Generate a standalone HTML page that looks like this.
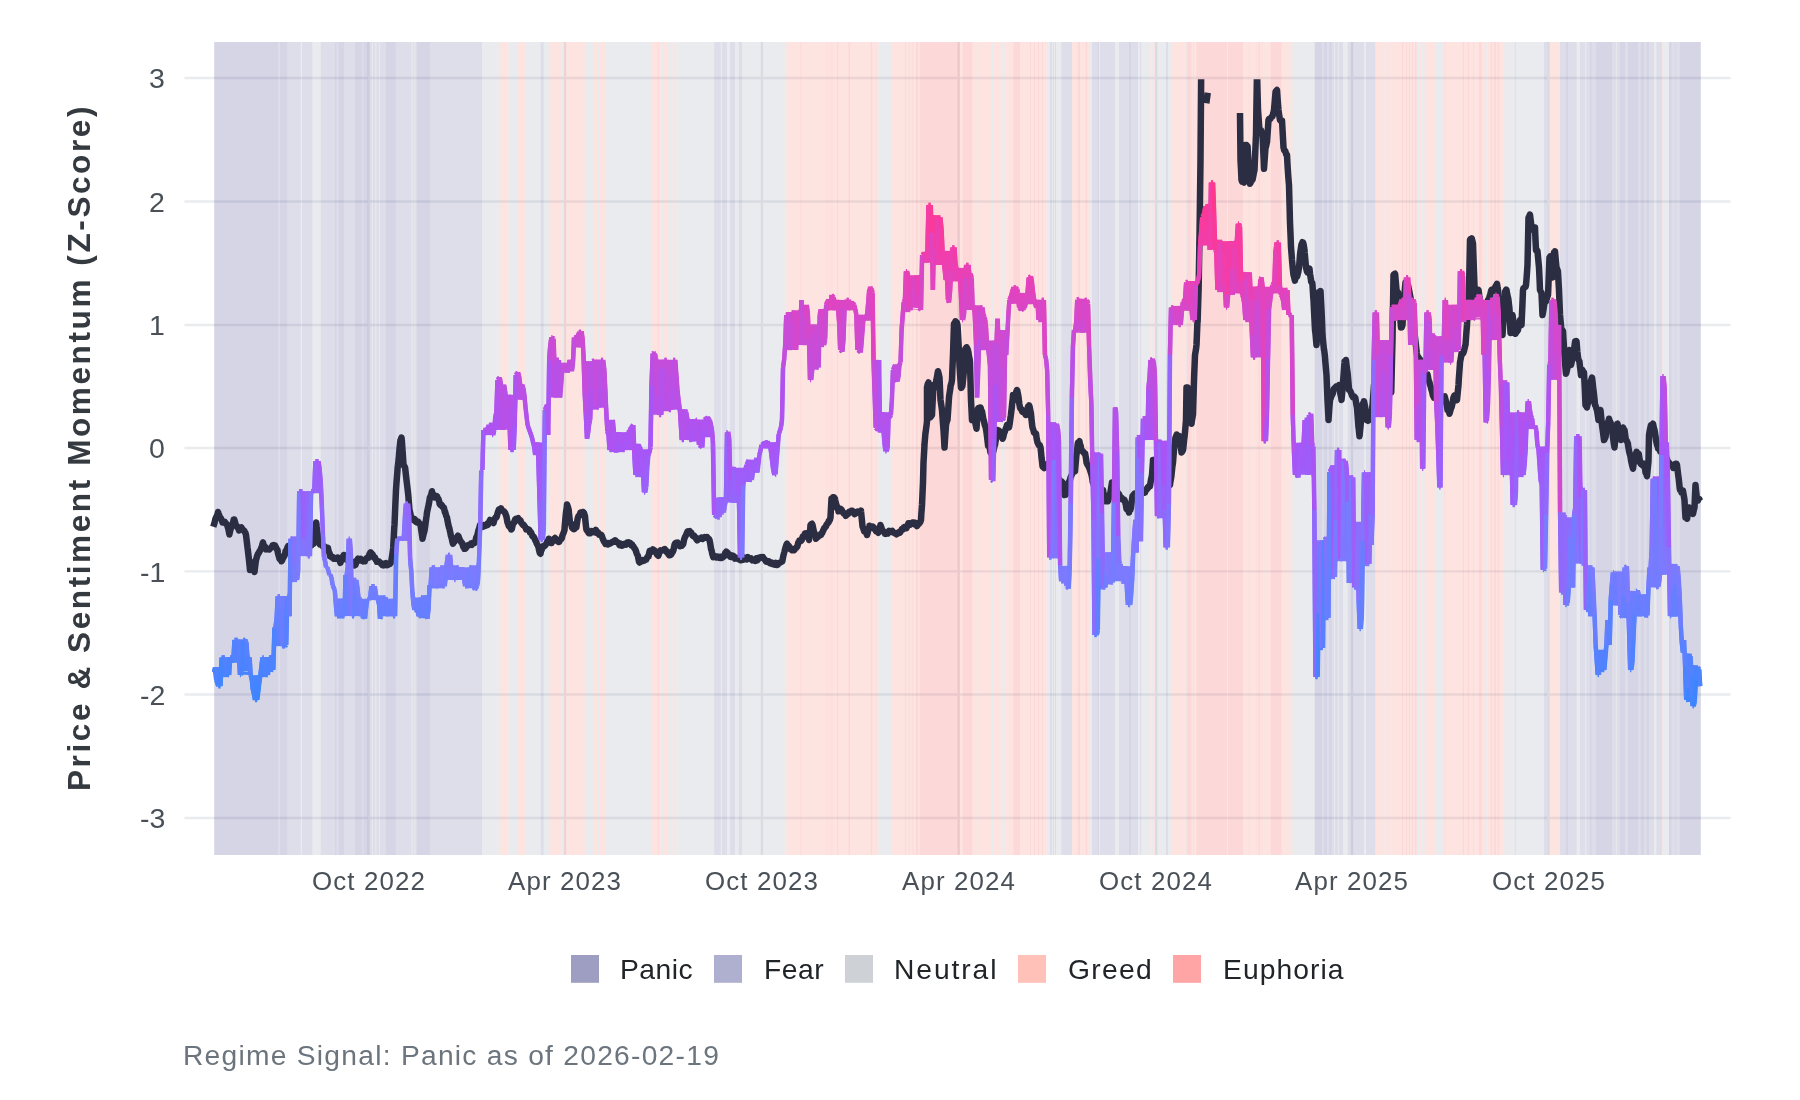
<!DOCTYPE html>
<html><head><meta charset="utf-8"><title>Price &amp; Sentiment Momentum</title>
<style>
html,body{margin:0;padding:0;background:#fff}
body{width:1800px;height:1100px;position:relative;overflow:hidden;font-family:"Liberation Sans",sans-serif}
.t{position:absolute;white-space:nowrap;line-height:1;will-change:transform}
</style></head><body>
<svg width="1800" height="1100" viewBox="0 0 1800 1100" style="position:absolute;left:0;top:0">
<defs><linearGradient id="sg" gradientUnits="userSpaceOnUse" x1="0" y1="707" x2="0" y2="180"><stop offset="0.0000" stop-color="#3a86ff"/><stop offset="0.2581" stop-color="#7b7bff"/><stop offset="0.4915" stop-color="#a855f7"/><stop offset="0.7249" stop-color="#d04ad0"/><stop offset="0.7913" stop-color="#e243be"/><stop offset="0.8577" stop-color="#f03eac"/><stop offset="0.9602" stop-color="#fd3994"/><stop offset="1.0000" stop-color="#ff388c"/></linearGradient></defs>
<defs><clipPath id="cp"><rect x="184" y="79.2" width="1547" height="776"/></clipPath></defs>
<rect width="1800" height="1100" fill="#fff"/>
<path d="M184.5 78H1730.5M184.5 201.5H1730.5M184.5 325H1730.5M184.5 448H1730.5M184.5 571.3H1730.5M184.5 694.5H1730.5M184.5 818H1730.5M368.6 42.0V855.0M565 42.0V855.0M761.9 42.0V855.0M958.6 42.0V855.0M1156.2 42.0V855.0M1352 42.0V855.0M1548.5 42.0V855.0" stroke="#e9ecef" stroke-width="2.35" fill="none"/>
<g shape-rendering="auto">
<rect x="214.2" y="42.0" width="64.10" height="813.0" fill="rgba(49,46,129,0.2)"/>
<rect x="278.3" y="42.0" width="1.70" height="813.0" fill="rgba(90,90,150,0.2)"/>
<rect x="280" y="42.0" width="7.50" height="813.0" fill="rgba(49,46,129,0.2)"/>
<rect x="287.5" y="42.0" width="13.30" height="813.0" fill="rgba(90,90,150,0.2)"/>
<rect x="300.8" y="42.0" width="1.20" height="813.0" fill="rgba(150,156,170,0.2)"/>
<rect x="302" y="42.0" width="10.50" height="813.0" fill="rgba(90,90,150,0.2)"/>
<rect x="312.5" y="42.0" width="8.30" height="813.0" fill="rgba(150,156,170,0.2)"/>
<rect x="320.8" y="42.0" width="14.20" height="813.0" fill="rgba(90,90,150,0.2)"/>
<rect x="335" y="42.0" width="1.70" height="813.0" fill="rgba(49,46,129,0.2)"/>
<rect x="336.7" y="42.0" width="1.60" height="813.0" fill="rgba(90,90,150,0.2)"/>
<rect x="338.3" y="42.0" width="5.70" height="813.0" fill="rgba(49,46,129,0.2)"/>
<rect x="344" y="42.0" width="11.00" height="813.0" fill="rgba(90,90,150,0.2)"/>
<rect x="355" y="42.0" width="7.50" height="813.0" fill="rgba(49,46,129,0.2)"/>
<rect x="362.5" y="42.0" width="0.80" height="813.0" fill="rgba(90,90,150,0.2)"/>
<rect x="363.3" y="42.0" width="5.00" height="813.0" fill="rgba(49,46,129,0.2)"/>
<rect x="368.3" y="42.0" width="3.70" height="813.0" fill="rgba(90,90,150,0.2)"/>
<rect x="372" y="42.0" width="0.80" height="813.0" fill="rgba(150,156,170,0.2)"/>
<rect x="372.8" y="42.0" width="2.70" height="813.0" fill="rgba(90,90,150,0.2)"/>
<rect x="375.5" y="42.0" width="0.80" height="813.0" fill="rgba(150,156,170,0.2)"/>
<rect x="376.3" y="42.0" width="2.70" height="813.0" fill="rgba(90,90,150,0.2)"/>
<rect x="379" y="42.0" width="0.80" height="813.0" fill="rgba(150,156,170,0.2)"/>
<rect x="379.8" y="42.0" width="6.00" height="813.0" fill="rgba(90,90,150,0.2)"/>
<rect x="385.8" y="42.0" width="10.00" height="813.0" fill="rgba(49,46,129,0.2)"/>
<rect x="395.8" y="42.0" width="15.90" height="813.0" fill="rgba(90,90,150,0.2)"/>
<rect x="411.7" y="42.0" width="0.80" height="813.0" fill="rgba(150,156,170,0.2)"/>
<rect x="412.5" y="42.0" width="2.00" height="813.0" fill="rgba(90,90,150,0.2)"/>
<rect x="414.5" y="42.0" width="0.80" height="813.0" fill="rgba(150,156,170,0.2)"/>
<rect x="415.3" y="42.0" width="1.40" height="813.0" fill="rgba(90,90,150,0.2)"/>
<rect x="416.7" y="42.0" width="13.30" height="813.0" fill="rgba(49,46,129,0.2)"/>
<rect x="430" y="42.0" width="52.00" height="813.0" fill="rgba(90,90,150,0.2)"/>
<rect x="482" y="42.0" width="16.30" height="813.0" fill="rgba(150,156,170,0.2)"/>
<rect x="498.3" y="42.0" width="2.50" height="813.0" fill="rgba(200,138,137,0.2)"/>
<rect x="500.8" y="42.0" width="0.90" height="813.0" fill="rgba(150,156,170,0.2)"/>
<rect x="501.7" y="42.0" width="5.80" height="813.0" fill="rgba(250,120,104,0.2)"/>
<rect x="507.5" y="42.0" width="0.80" height="813.0" fill="rgba(150,156,170,0.2)"/>
<rect x="508.3" y="42.0" width="1.70" height="813.0" fill="rgba(200,138,137,0.2)"/>
<rect x="510" y="42.0" width="7.00" height="813.0" fill="rgba(150,156,170,0.2)"/>
<rect x="517" y="42.0" width="8.00" height="813.0" fill="rgba(250,120,104,0.2)"/>
<rect x="525" y="42.0" width="15.80" height="813.0" fill="rgba(150,156,170,0.2)"/>
<rect x="540.8" y="42.0" width="2.90" height="813.0" fill="rgba(90,90,150,0.2)"/>
<rect x="543.7" y="42.0" width="6.30" height="813.0" fill="rgba(150,156,170,0.2)"/>
<rect x="550" y="42.0" width="5.30" height="813.0" fill="rgba(250,120,104,0.2)"/>
<rect x="555.3" y="42.0" width="0.50" height="813.0" fill="rgba(150,156,170,0.2)"/>
<rect x="555.8" y="42.0" width="5.50" height="813.0" fill="rgba(250,120,104,0.2)"/>
<rect x="561.3" y="42.0" width="2.00" height="813.0" fill="rgba(150,156,170,0.2)"/>
<rect x="563.3" y="42.0" width="21.70" height="813.0" fill="rgba(250,120,104,0.2)"/>
<rect x="585" y="42.0" width="8.00" height="813.0" fill="rgba(150,156,170,0.2)"/>
<rect x="593" y="42.0" width="5.00" height="813.0" fill="rgba(250,120,104,0.2)"/>
<rect x="598" y="42.0" width="1.70" height="813.0" fill="rgba(150,156,170,0.2)"/>
<rect x="599.7" y="42.0" width="6.10" height="813.0" fill="rgba(250,120,104,0.2)"/>
<rect x="605.8" y="42.0" width="46.20" height="813.0" fill="rgba(150,156,170,0.2)"/>
<rect x="652" y="42.0" width="5.50" height="813.0" fill="rgba(250,120,104,0.2)"/>
<rect x="657.5" y="42.0" width="1.20" height="813.0" fill="rgba(245,60,65,0.2)"/>
<rect x="658.7" y="42.0" width="2.60" height="813.0" fill="rgba(250,120,104,0.2)"/>
<rect x="661.3" y="42.0" width="1.70" height="813.0" fill="rgba(150,156,170,0.2)"/>
<rect x="663" y="42.0" width="5.30" height="813.0" fill="rgba(250,120,104,0.2)"/>
<rect x="668.3" y="42.0" width="3.40" height="813.0" fill="rgba(150,156,170,0.2)"/>
<rect x="671.7" y="42.0" width="1.60" height="813.0" fill="rgba(200,138,137,0.2)"/>
<rect x="673.3" y="42.0" width="1.70" height="813.0" fill="rgba(150,156,170,0.2)"/>
<rect x="675" y="42.0" width="2.50" height="813.0" fill="rgba(200,138,137,0.2)"/>
<rect x="677.5" y="42.0" width="36.70" height="813.0" fill="rgba(150,156,170,0.2)"/>
<rect x="714.2" y="42.0" width="6.60" height="813.0" fill="rgba(90,90,150,0.2)"/>
<rect x="720.8" y="42.0" width="1.20" height="813.0" fill="rgba(150,156,170,0.2)"/>
<rect x="722" y="42.0" width="5.00" height="813.0" fill="rgba(90,90,150,0.2)"/>
<rect x="727" y="42.0" width="3.00" height="813.0" fill="rgba(150,156,170,0.2)"/>
<rect x="730" y="42.0" width="5.00" height="813.0" fill="rgba(90,90,150,0.2)"/>
<rect x="735" y="42.0" width="3.70" height="813.0" fill="rgba(150,156,170,0.2)"/>
<rect x="738.7" y="42.0" width="3.30" height="813.0" fill="rgba(90,90,150,0.2)"/>
<rect x="742" y="42.0" width="41.30" height="813.0" fill="rgba(150,156,170,0.2)"/>
<rect x="783.3" y="42.0" width="1.40" height="813.0" fill="rgba(200,138,137,0.2)"/>
<rect x="784.7" y="42.0" width="2.00" height="813.0" fill="rgba(150,156,170,0.2)"/>
<rect x="786.7" y="42.0" width="13.70" height="813.0" fill="rgba(250,120,104,0.2)"/>
<rect x="800.4" y="42.0" width="0.90" height="813.0" fill="rgba(245,60,65,0.2)"/>
<rect x="801.3" y="42.0" width="25.40" height="813.0" fill="rgba(250,120,104,0.2)"/>
<rect x="826.7" y="42.0" width="0.80" height="813.0" fill="rgba(245,60,65,0.2)"/>
<rect x="827.5" y="42.0" width="2.00" height="813.0" fill="rgba(250,120,104,0.2)"/>
<rect x="829.5" y="42.0" width="0.80" height="813.0" fill="rgba(245,60,65,0.2)"/>
<rect x="830.3" y="42.0" width="1.40" height="813.0" fill="rgba(250,120,104,0.2)"/>
<rect x="831.7" y="42.0" width="0.80" height="813.0" fill="rgba(245,60,65,0.2)"/>
<rect x="832.5" y="42.0" width="4.50" height="813.0" fill="rgba(250,120,104,0.2)"/>
<rect x="837" y="42.0" width="1.30" height="813.0" fill="rgba(245,60,65,0.2)"/>
<rect x="838.3" y="42.0" width="10.00" height="813.0" fill="rgba(250,120,104,0.2)"/>
<rect x="848.3" y="42.0" width="1.70" height="813.0" fill="rgba(245,60,65,0.2)"/>
<rect x="850" y="42.0" width="20.80" height="813.0" fill="rgba(250,120,104,0.2)"/>
<rect x="870.8" y="42.0" width="1.70" height="813.0" fill="rgba(245,60,65,0.2)"/>
<rect x="872.5" y="42.0" width="3.00" height="813.0" fill="rgba(250,120,104,0.2)"/>
<rect x="875.5" y="42.0" width="0.80" height="813.0" fill="rgba(245,60,65,0.2)"/>
<rect x="876.3" y="42.0" width="0.40" height="813.0" fill="rgba(250,120,104,0.2)"/>
<rect x="876.7" y="42.0" width="3.00" height="813.0" fill="rgba(200,138,137,0.2)"/>
<rect x="879.7" y="42.0" width="12.30" height="813.0" fill="rgba(150,156,170,0.2)"/>
<rect x="892" y="42.0" width="13.00" height="813.0" fill="rgba(250,120,104,0.2)"/>
<rect x="905" y="42.0" width="1.00" height="813.0" fill="rgba(245,60,65,0.2)"/>
<rect x="906" y="42.0" width="2.70" height="813.0" fill="rgba(250,120,104,0.2)"/>
<rect x="908.7" y="42.0" width="1.00" height="813.0" fill="rgba(245,60,65,0.2)"/>
<rect x="909.7" y="42.0" width="2.60" height="813.0" fill="rgba(250,120,104,0.2)"/>
<rect x="912.3" y="42.0" width="1.00" height="813.0" fill="rgba(245,60,65,0.2)"/>
<rect x="913.3" y="42.0" width="2.70" height="813.0" fill="rgba(250,120,104,0.2)"/>
<rect x="916" y="42.0" width="2.00" height="813.0" fill="rgba(245,60,65,0.2)"/>
<rect x="918" y="42.0" width="1.50" height="813.0" fill="rgba(250,120,104,0.2)"/>
<rect x="919.5" y="42.0" width="40.50" height="813.0" fill="rgba(245,60,65,0.2)"/>
<rect x="960" y="42.0" width="2.50" height="813.0" fill="rgba(250,120,104,0.2)"/>
<rect x="962.5" y="42.0" width="10.00" height="813.0" fill="rgba(245,60,65,0.2)"/>
<rect x="972.5" y="42.0" width="4.20" height="813.0" fill="rgba(250,120,104,0.2)"/>
<rect x="976.7" y="42.0" width="1.30" height="813.0" fill="rgba(150,156,170,0.2)"/>
<rect x="978" y="42.0" width="13.00" height="813.0" fill="rgba(250,120,104,0.2)"/>
<rect x="991" y="42.0" width="3.00" height="813.0" fill="rgba(150,156,170,0.2)"/>
<rect x="994" y="42.0" width="7.70" height="813.0" fill="rgba(250,120,104,0.2)"/>
<rect x="1001.7" y="42.0" width="3.00" height="813.0" fill="rgba(150,156,170,0.2)"/>
<rect x="1004.7" y="42.0" width="8.60" height="813.0" fill="rgba(250,120,104,0.2)"/>
<rect x="1013.3" y="42.0" width="6.70" height="813.0" fill="rgba(245,60,65,0.2)"/>
<rect x="1020" y="42.0" width="10.00" height="813.0" fill="rgba(250,120,104,0.2)"/>
<rect x="1030" y="42.0" width="1.00" height="813.0" fill="rgba(245,60,65,0.2)"/>
<rect x="1031" y="42.0" width="3.00" height="813.0" fill="rgba(250,120,104,0.2)"/>
<rect x="1034" y="42.0" width="1.00" height="813.0" fill="rgba(245,60,65,0.2)"/>
<rect x="1035" y="42.0" width="3.00" height="813.0" fill="rgba(250,120,104,0.2)"/>
<rect x="1038" y="42.0" width="1.00" height="813.0" fill="rgba(245,60,65,0.2)"/>
<rect x="1039" y="42.0" width="3.00" height="813.0" fill="rgba(250,120,104,0.2)"/>
<rect x="1042" y="42.0" width="1.00" height="813.0" fill="rgba(245,60,65,0.2)"/>
<rect x="1043" y="42.0" width="3.70" height="813.0" fill="rgba(250,120,104,0.2)"/>
<rect x="1046.7" y="42.0" width="3.30" height="813.0" fill="rgba(150,156,170,0.2)"/>
<rect x="1050" y="42.0" width="2.00" height="813.0" fill="rgba(90,90,150,0.2)"/>
<rect x="1052" y="42.0" width="1.00" height="813.0" fill="rgba(150,156,170,0.2)"/>
<rect x="1053" y="42.0" width="1.20" height="813.0" fill="rgba(90,90,150,0.2)"/>
<rect x="1054.2" y="42.0" width="0.80" height="813.0" fill="rgba(150,156,170,0.2)"/>
<rect x="1055" y="42.0" width="1.00" height="813.0" fill="rgba(90,90,150,0.2)"/>
<rect x="1056" y="42.0" width="5.30" height="813.0" fill="rgba(150,156,170,0.2)"/>
<rect x="1061.3" y="42.0" width="10.70" height="813.0" fill="rgba(90,90,150,0.2)"/>
<rect x="1072" y="42.0" width="5.50" height="813.0" fill="rgba(250,120,104,0.2)"/>
<rect x="1077.5" y="42.0" width="2.50" height="813.0" fill="rgba(245,60,65,0.2)"/>
<rect x="1080" y="42.0" width="5.80" height="813.0" fill="rgba(250,120,104,0.2)"/>
<rect x="1085.8" y="42.0" width="1.70" height="813.0" fill="rgba(245,60,65,0.2)"/>
<rect x="1087.5" y="42.0" width="2.50" height="813.0" fill="rgba(250,120,104,0.2)"/>
<rect x="1090" y="42.0" width="2.00" height="813.0" fill="rgba(150,156,170,0.2)"/>
<rect x="1092" y="42.0" width="6.00" height="813.0" fill="rgba(90,90,150,0.2)"/>
<rect x="1098" y="42.0" width="1.00" height="813.0" fill="rgba(49,46,129,0.2)"/>
<rect x="1099" y="42.0" width="1.00" height="813.0" fill="rgba(150,156,170,0.2)"/>
<rect x="1100" y="42.0" width="15.00" height="813.0" fill="rgba(90,90,150,0.2)"/>
<rect x="1115" y="42.0" width="4.00" height="813.0" fill="rgba(150,156,170,0.2)"/>
<rect x="1119" y="42.0" width="10.00" height="813.0" fill="rgba(90,90,150,0.2)"/>
<rect x="1129" y="42.0" width="2.00" height="813.0" fill="rgba(49,46,129,0.2)"/>
<rect x="1131" y="42.0" width="7.00" height="813.0" fill="rgba(90,90,150,0.2)"/>
<rect x="1138" y="42.0" width="2.00" height="813.0" fill="rgba(150,156,170,0.2)"/>
<rect x="1140" y="42.0" width="1.30" height="813.0" fill="rgba(90,90,150,0.2)"/>
<rect x="1141.3" y="42.0" width="8.70" height="813.0" fill="rgba(150,156,170,0.2)"/>
<rect x="1150" y="42.0" width="1.50" height="813.0" fill="rgba(200,138,137,0.2)"/>
<rect x="1151.5" y="42.0" width="1.50" height="813.0" fill="rgba(150,156,170,0.2)"/>
<rect x="1153" y="42.0" width="2.30" height="813.0" fill="rgba(250,120,104,0.2)"/>
<rect x="1155.3" y="42.0" width="10.70" height="813.0" fill="rgba(150,156,170,0.2)"/>
<rect x="1166" y="42.0" width="2.00" height="813.0" fill="rgba(90,90,150,0.2)"/>
<rect x="1168" y="42.0" width="3.30" height="813.0" fill="rgba(150,156,170,0.2)"/>
<rect x="1171.3" y="42.0" width="13.70" height="813.0" fill="rgba(250,120,104,0.2)"/>
<rect x="1185" y="42.0" width="1.70" height="813.0" fill="rgba(150,156,170,0.2)"/>
<rect x="1186.7" y="42.0" width="5.00" height="813.0" fill="rgba(245,60,65,0.2)"/>
<rect x="1191.7" y="42.0" width="1.50" height="813.0" fill="rgba(250,120,104,0.2)"/>
<rect x="1193.2" y="42.0" width="0.80" height="813.0" fill="rgba(245,60,65,0.2)"/>
<rect x="1194" y="42.0" width="2.30" height="813.0" fill="rgba(250,120,104,0.2)"/>
<rect x="1196.3" y="42.0" width="30.70" height="813.0" fill="rgba(245,60,65,0.2)"/>
<rect x="1227" y="42.0" width="1.00" height="813.0" fill="rgba(250,120,104,0.2)"/>
<rect x="1228" y="42.0" width="15.00" height="813.0" fill="rgba(245,60,65,0.2)"/>
<rect x="1243" y="42.0" width="5.70" height="813.0" fill="rgba(250,120,104,0.2)"/>
<rect x="1248.7" y="42.0" width="0.80" height="813.0" fill="rgba(245,60,65,0.2)"/>
<rect x="1249.5" y="42.0" width="7.20" height="813.0" fill="rgba(250,120,104,0.2)"/>
<rect x="1256.7" y="42.0" width="0.80" height="813.0" fill="rgba(245,60,65,0.2)"/>
<rect x="1257.5" y="42.0" width="0.80" height="813.0" fill="rgba(250,120,104,0.2)"/>
<rect x="1258.3" y="42.0" width="1.70" height="813.0" fill="rgba(245,60,65,0.2)"/>
<rect x="1260" y="42.0" width="1.50" height="813.0" fill="rgba(250,120,104,0.2)"/>
<rect x="1261.5" y="42.0" width="1.00" height="813.0" fill="rgba(245,60,65,0.2)"/>
<rect x="1262.5" y="42.0" width="2.30" height="813.0" fill="rgba(250,120,104,0.2)"/>
<rect x="1264.8" y="42.0" width="1.20" height="813.0" fill="rgba(150,156,170,0.2)"/>
<rect x="1266" y="42.0" width="4.80" height="813.0" fill="rgba(250,120,104,0.2)"/>
<rect x="1270.8" y="42.0" width="10.90" height="813.0" fill="rgba(245,60,65,0.2)"/>
<rect x="1281.7" y="42.0" width="8.30" height="813.0" fill="rgba(250,120,104,0.2)"/>
<rect x="1290" y="42.0" width="3.00" height="813.0" fill="rgba(200,138,137,0.2)"/>
<rect x="1293" y="42.0" width="21.70" height="813.0" fill="rgba(150,156,170,0.2)"/>
<rect x="1314.7" y="42.0" width="7.30" height="813.0" fill="rgba(49,46,129,0.2)"/>
<rect x="1322" y="42.0" width="2.00" height="813.0" fill="rgba(90,90,150,0.2)"/>
<rect x="1324" y="42.0" width="3.00" height="813.0" fill="rgba(49,46,129,0.2)"/>
<rect x="1327" y="42.0" width="2.00" height="813.0" fill="rgba(90,90,150,0.2)"/>
<rect x="1329" y="42.0" width="2.70" height="813.0" fill="rgba(49,46,129,0.2)"/>
<rect x="1331.7" y="42.0" width="2.30" height="813.0" fill="rgba(90,90,150,0.2)"/>
<rect x="1334" y="42.0" width="0.80" height="813.0" fill="rgba(150,156,170,0.2)"/>
<rect x="1334.8" y="42.0" width="3.20" height="813.0" fill="rgba(90,90,150,0.2)"/>
<rect x="1338" y="42.0" width="0.80" height="813.0" fill="rgba(150,156,170,0.2)"/>
<rect x="1338.8" y="42.0" width="4.20" height="813.0" fill="rgba(90,90,150,0.2)"/>
<rect x="1343" y="42.0" width="4.50" height="813.0" fill="rgba(150,156,170,0.2)"/>
<rect x="1347.5" y="42.0" width="16.50" height="813.0" fill="rgba(90,90,150,0.2)"/>
<rect x="1364" y="42.0" width="2.00" height="813.0" fill="rgba(150,156,170,0.2)"/>
<rect x="1366" y="42.0" width="9.30" height="813.0" fill="rgba(90,90,150,0.2)"/>
<rect x="1375.3" y="42.0" width="7.70" height="813.0" fill="rgba(250,120,104,0.2)"/>
<rect x="1383" y="42.0" width="1.70" height="813.0" fill="rgba(150,156,170,0.2)"/>
<rect x="1384.7" y="42.0" width="4.50" height="813.0" fill="rgba(250,120,104,0.2)"/>
<rect x="1389.2" y="42.0" width="1.10" height="813.0" fill="rgba(150,156,170,0.2)"/>
<rect x="1390.3" y="42.0" width="11.70" height="813.0" fill="rgba(250,120,104,0.2)"/>
<rect x="1402" y="42.0" width="1.50" height="813.0" fill="rgba(245,60,65,0.2)"/>
<rect x="1403.5" y="42.0" width="2.50" height="813.0" fill="rgba(250,120,104,0.2)"/>
<rect x="1406" y="42.0" width="1.00" height="813.0" fill="rgba(245,60,65,0.2)"/>
<rect x="1407" y="42.0" width="2.00" height="813.0" fill="rgba(250,120,104,0.2)"/>
<rect x="1409" y="42.0" width="1.00" height="813.0" fill="rgba(245,60,65,0.2)"/>
<rect x="1410" y="42.0" width="2.00" height="813.0" fill="rgba(250,120,104,0.2)"/>
<rect x="1412" y="42.0" width="1.00" height="813.0" fill="rgba(245,60,65,0.2)"/>
<rect x="1413" y="42.0" width="2.00" height="813.0" fill="rgba(250,120,104,0.2)"/>
<rect x="1415" y="42.0" width="1.70" height="813.0" fill="rgba(245,60,65,0.2)"/>
<rect x="1416.7" y="42.0" width="3.00" height="813.0" fill="rgba(150,156,170,0.2)"/>
<rect x="1419.7" y="42.0" width="2.00" height="813.0" fill="rgba(250,120,104,0.2)"/>
<rect x="1421.7" y="42.0" width="3.00" height="813.0" fill="rgba(150,156,170,0.2)"/>
<rect x="1424.7" y="42.0" width="11.10" height="813.0" fill="rgba(250,120,104,0.2)"/>
<rect x="1435.8" y="42.0" width="7.20" height="813.0" fill="rgba(150,156,170,0.2)"/>
<rect x="1443" y="42.0" width="1.30" height="813.0" fill="rgba(250,120,104,0.2)"/>
<rect x="1444.3" y="42.0" width="0.90" height="813.0" fill="rgba(245,60,65,0.2)"/>
<rect x="1445.2" y="42.0" width="17.30" height="813.0" fill="rgba(250,120,104,0.2)"/>
<rect x="1462.5" y="42.0" width="1.50" height="813.0" fill="rgba(245,60,65,0.2)"/>
<rect x="1464" y="42.0" width="3.50" height="813.0" fill="rgba(250,120,104,0.2)"/>
<rect x="1467.5" y="42.0" width="1.50" height="813.0" fill="rgba(245,60,65,0.2)"/>
<rect x="1469" y="42.0" width="4.00" height="813.0" fill="rgba(250,120,104,0.2)"/>
<rect x="1473" y="42.0" width="0.80" height="813.0" fill="rgba(245,60,65,0.2)"/>
<rect x="1473.8" y="42.0" width="5.20" height="813.0" fill="rgba(250,120,104,0.2)"/>
<rect x="1479" y="42.0" width="2.70" height="813.0" fill="rgba(245,60,65,0.2)"/>
<rect x="1481.7" y="42.0" width="3.30" height="813.0" fill="rgba(250,120,104,0.2)"/>
<rect x="1485" y="42.0" width="2.50" height="813.0" fill="rgba(150,156,170,0.2)"/>
<rect x="1487.5" y="42.0" width="3.30" height="813.0" fill="rgba(250,120,104,0.2)"/>
<rect x="1490.8" y="42.0" width="1.20" height="813.0" fill="rgba(245,60,65,0.2)"/>
<rect x="1492" y="42.0" width="2.00" height="813.0" fill="rgba(250,120,104,0.2)"/>
<rect x="1494" y="42.0" width="2.00" height="813.0" fill="rgba(245,60,65,0.2)"/>
<rect x="1496" y="42.0" width="1.50" height="813.0" fill="rgba(250,120,104,0.2)"/>
<rect x="1497.5" y="42.0" width="1.50" height="813.0" fill="rgba(245,60,65,0.2)"/>
<rect x="1499" y="42.0" width="4.30" height="813.0" fill="rgba(250,120,104,0.2)"/>
<rect x="1503.3" y="42.0" width="3.40" height="813.0" fill="rgba(150,156,170,0.2)"/>
<rect x="1506.7" y="42.0" width="1.60" height="813.0" fill="rgba(200,138,137,0.2)"/>
<rect x="1508.3" y="42.0" width="6.40" height="813.0" fill="rgba(150,156,170,0.2)"/>
<rect x="1514.7" y="42.0" width="1.10" height="813.0" fill="rgba(90,90,150,0.2)"/>
<rect x="1515.8" y="42.0" width="28.20" height="813.0" fill="rgba(150,156,170,0.2)"/>
<rect x="1544" y="42.0" width="3.50" height="813.0" fill="rgba(90,90,150,0.2)"/>
<rect x="1547.5" y="42.0" width="2.50" height="813.0" fill="rgba(150,156,170,0.2)"/>
<rect x="1550" y="42.0" width="10.00" height="813.0" fill="rgba(250,120,104,0.2)"/>
<rect x="1560" y="42.0" width="5.80" height="813.0" fill="rgba(90,90,150,0.2)"/>
<rect x="1565.8" y="42.0" width="2.50" height="813.0" fill="rgba(49,46,129,0.2)"/>
<rect x="1568.3" y="42.0" width="8.40" height="813.0" fill="rgba(90,90,150,0.2)"/>
<rect x="1576.7" y="42.0" width="3.30" height="813.0" fill="rgba(150,156,170,0.2)"/>
<rect x="1580" y="42.0" width="5.30" height="813.0" fill="rgba(90,90,150,0.2)"/>
<rect x="1585.3" y="42.0" width="1.00" height="813.0" fill="rgba(150,156,170,0.2)"/>
<rect x="1586.3" y="42.0" width="3.70" height="813.0" fill="rgba(90,90,150,0.2)"/>
<rect x="1590" y="42.0" width="1.70" height="813.0" fill="rgba(49,46,129,0.2)"/>
<rect x="1591.7" y="42.0" width="4.10" height="813.0" fill="rgba(90,90,150,0.2)"/>
<rect x="1595.8" y="42.0" width="16.20" height="813.0" fill="rgba(49,46,129,0.2)"/>
<rect x="1612" y="42.0" width="4.30" height="813.0" fill="rgba(90,90,150,0.2)"/>
<rect x="1616.3" y="42.0" width="0.70" height="813.0" fill="rgba(150,156,170,0.2)"/>
<rect x="1617" y="42.0" width="3.00" height="813.0" fill="rgba(90,90,150,0.2)"/>
<rect x="1620" y="42.0" width="5.00" height="813.0" fill="rgba(49,46,129,0.2)"/>
<rect x="1625" y="42.0" width="3.00" height="813.0" fill="rgba(90,90,150,0.2)"/>
<rect x="1628" y="42.0" width="10.30" height="813.0" fill="rgba(49,46,129,0.2)"/>
<rect x="1638.3" y="42.0" width="2.50" height="813.0" fill="rgba(90,90,150,0.2)"/>
<rect x="1640.8" y="42.0" width="3.40" height="813.0" fill="rgba(49,46,129,0.2)"/>
<rect x="1644.2" y="42.0" width="2.10" height="813.0" fill="rgba(90,90,150,0.2)"/>
<rect x="1646.3" y="42.0" width="2.70" height="813.0" fill="rgba(49,46,129,0.2)"/>
<rect x="1649" y="42.0" width="5.00" height="813.0" fill="rgba(90,90,150,0.2)"/>
<rect x="1654" y="42.0" width="2.30" height="813.0" fill="rgba(150,156,170,0.2)"/>
<rect x="1656.3" y="42.0" width="5.70" height="813.0" fill="rgba(90,90,150,0.2)"/>
<rect x="1662" y="42.0" width="2.00" height="813.0" fill="rgba(200,138,137,0.2)"/>
<rect x="1664" y="42.0" width="5.00" height="813.0" fill="rgba(150,156,170,0.2)"/>
<rect x="1669" y="42.0" width="2.70" height="813.0" fill="rgba(49,46,129,0.2)"/>
<rect x="1671.7" y="42.0" width="3.30" height="813.0" fill="rgba(90,90,150,0.2)"/>
<rect x="1675" y="42.0" width="0.80" height="813.0" fill="rgba(49,46,129,0.2)"/>
<rect x="1675.8" y="42.0" width="4.20" height="813.0" fill="rgba(90,90,150,0.2)"/>
<rect x="1680" y="42.0" width="20.80" height="813.0" fill="rgba(49,46,129,0.2)"/>
</g>
<g clip-path="url(#cp)" fill="none" stroke="#2b2d42" stroke-width="6.5" stroke-linejoin="round">
<path d="M213.25 526.75L213.25 526.75L214.33 523.65L215.41 518.93L215.5 518.75L216.48 516.68L217.56 514.43L218 512L218.64 513.86L219.72 516.72L220 517.5L220.79 517.98L221.87 520.64L222.5 522.5L222.95 522.41L224.03 522.66L225 522L225.1 522.97L226.18 523.7L227.26 524.71L227.5 526.25L228.34 528.84L229.42 534.5L229.5 533.75L230.49 529.53L231.57 526.38L232 525L232.65 524.54L233.73 519.54L234.25 519.5L234.8 521.42L235.88 525.57L236.5 526.25L236.96 526.15L238.04 528.37L239 529.5L239.11 530.47L240.19 527.59L241.27 527.74L241.5 527.5L242.35 529.17L243.43 530.25L244 530.5L244.5 531.55L245.58 533.29L246 535L246.66 540.47L247.5 547.5L247.74 549.14L248.81 558.39L249 560L249.89 568.57L250 570L250.97 567.24L252 562.5L252.05 563.38L253.12 566.29L254.2 571.06L254.5 572L255.28 565.18L256 560L256.36 558.76L257.44 555.13L258 553.75L258.51 553.39L259.59 551.03L260.5 550L260.67 549.39L261.75 546.83L262.82 542.8L263 542.5L263.9 545.81L264.98 546.62L265.5 548.75L266.06 549.51L267.14 548.93L268.21 549.18L268.75 549.5L269.29 549.43L270.37 548.31L271.45 547.21L272 547L272.52 545.44L273.6 545.14L274.68 546.2L275 545.5L275.76 546.93L276.83 549.31L277.5 550L277.91 552.99L278.99 556.99L279.5 558.75L280.07 558.3L281.15 560.31L281.5 561.25L282.22 560.14L283.3 557.19L283.5 557.5L284.38 555.96L285.46 552.54L285.5 551.25L286.53 550.09L287.61 546.96L288 546.25L288.69 547.64L289.77 546.57L290.84 547.81L291.92 548.99L292.5 549.5L293 550.08L294.08 549.31L295.16 548.29L296.23 548.72L297.31 548.56L298.39 548.39L299.47 547.93L300 548.75L300.54 548.4L301.62 548.24L302.7 548.83L303.78 548.64L304.85 547.68L305.93 547.26L307.01 547.84L307.5 547L308.09 547.58L309.17 546.26L310.24 545.81L311.32 545.39L312.4 542.28L313.48 543.67L313.75 542.5L314.55 535.49L315.63 527.38L316.25 522.5L316.71 526.95L317.5 532.5L317.79 534.68L318.86 539.26L319.5 543.75L319.94 544.42L321.02 543.52L322.1 544.91L323.18 546.73L323.75 546.25L324.25 546.27L325.33 547.16L326.41 547.94L327.49 548.62L328 548L328.56 551L329.64 553.49L330 556.25L330.72 556.52L331.8 557.35L332.87 557.01L333.75 558.75L333.95 558.79L335.03 558.6L336.11 558.82L337.19 558.75L337.5 557.5L338.26 557.81L339.34 559.87L340.42 562.78L340.5 562.5L341.5 559.25L342.57 557L343.65 555.42L343.75 555L344.73 555.45L345.81 558.48L346.88 560.11L347.5 560L347.96 558.94L349.04 560.6L350.12 561.64L351.2 562.47L351.25 561.25L352.27 561.69L353.35 562.49L354.43 565.41L355 565L355.51 565.01L356.58 560.91L357.66 559.3L358 558.75L358.74 559.6L359.82 560.35L360.89 559L361.25 560L361.97 560.67L363.05 561.4L364.13 561.09L365 561.25L365.21 560.12L366.28 558.44L367.36 557.73L368 557.5L368.44 557.64L369.52 554.04L370.59 552.33L371 553L371.67 553.74L372.75 554.73L373.75 557.5L373.83 556.68L374.9 557.59L375.98 560.14L377 561.25L377.06 561.8L378.14 561.73L379.22 561.6L380.29 562.75L381.25 563.75L381.37 564L382.45 565.08L383.53 565.37L384.6 563.58L385.68 563.14L386.25 564.5L386.76 565.18L387.84 565.05L388.92 563.45L389.99 563.88L390.5 563L391.07 562.62L391.25 561.25L392.15 555.76L393 550L393.23 547.2L394.3 527.04L394.5 525L395.38 503.84L396 490L396.46 483.3L397.5 470L397.54 468.65L398.61 459.92L399 455L399.69 446.86L400.5 440L400.77 439.77L401.5 437.5L401.85 440.73L402.5 450L402.93 456.02L403.5 465L404 465.63L405 467.5L405.08 467.34L406.16 477.21L406.5 480L407.24 486.22L408 492.5L408.31 495.68L409.39 509.35L409.5 510L410.47 513.96L411 517.5L411.55 517.2L412.62 518.6L413.7 519.64L413.75 520L414.78 519.24L415 520L415.86 521.8L416.94 522.47L418 522.5L418.01 521.49L419.09 523.25L420.17 523.97L420.5 525L421.25 530L422.32 536.96L422.5 538.75L423.4 534.7L424.48 530.94L425 527.5L425.56 523.02L426.63 515.63L427 512.5L427.71 509.19L428.79 504.21L429.5 500L429.87 497.57L430.95 495.58L432 491.25L432.02 492.47L433.1 494.27L434.18 496.14L434.5 497.5L435.26 497.57L436.33 497.13L437 496.25L437.41 497.69L438.49 499.06L439.5 502.5L439.57 503.81L440.64 505.11L441.72 505.08L442.5 506.25L442.8 507.09L443.88 507.81L444.96 512.43L445 511.25L446.03 515.31L447 517.5L447.11 518.41L448.19 524.12L449 527.5L449.27 527.85L450.34 532.88L451 536.25L451.42 537.17L452.5 542.12L453 543.75L453.58 541.53L454.65 541.47L455.5 538.75L455.73 538.46L456.81 537.51L457.89 535.73L458.5 536.25L458.97 537.7L460.04 540.29L461.12 542.05L461.5 542.5L462.2 543.28L463.28 546.94L464.35 547.52L464.5 548.75L465.43 548.74L466.51 547.09L467.59 545.34L468 545.5L468.66 545.24L469.74 545.07L470.82 543.64L471.9 544.7L472 543.75L472.98 542.85L474.05 543.3L475.13 542.39L475.5 541.25L476.21 537.73L477.29 535.38L478 532.5L478.36 530.64L479.44 527.75L480 525L480.52 525.28L481.6 525.42L482.68 526.92L483.75 525.1L483.75 526.25L484.83 526.04L485.91 525.08L486.99 523.96L487.5 525L488.06 524.53L489.14 521.88L490 520L490.22 521.21L491.3 521.34L492.37 521.55L493 522.5L493.45 523.07L494.53 519.15L495.61 517.33L496.25 517.5L496.69 516.8L497.76 512.63L498.75 510L498.84 509.59L499.92 510.39L501 508.43L501.25 508.75L502.07 510.58L503.15 511.03L503.75 511.25L504.23 511.76L505.31 513.22L506.25 516.25L506.38 516.12L507.46 522.32L508.54 525.16L508.75 526.25L509.62 526.49L510.7 528.25L511.25 529.5L511.77 529.07L512.85 524.15L513.75 522.5L513.93 522.95L515.01 519.67L516.08 520.2L516.25 518.75L517.16 519.13L518.24 518.23L519.32 520.89L520 520L520.39 520.29L521.47 523.06L522.55 524.31L523 525L523.63 524.81L524.71 526.34L525.78 527.94L526.25 529.5L526.86 528.9L527.94 529.13L529.02 529.61L530 531.25L530.09 532.6L531.17 532.53L532.25 535.77L532.5 536.25L533.33 536.36L534.4 538.05L535.48 540.91L536.25 541.25L536.56 543.32L537.64 545.33L538.72 547.36L538.75 548.75L539.79 553.03L540.5 553.75L540.87 551.46L541.95 549.12L543 546.25L543.03 546.33L544.1 546.42L545.18 545.41L546.25 543.75L546.26 544.02L547.34 541.31L548.41 540.29L548.75 538.75L549.49 540.97L550.57 542.81L551.25 543L551.65 543.04L552.73 539.99L553.8 539.07L554.88 538.12L555 538L555.96 539.04L557.04 541.04L558.11 540.64L558.75 542L559.19 541.82L560.27 539.57L561.35 539.12L562 537.5L562.42 535.43L563.5 532.93L564.5 530L564.58 528.03L565.66 515.74L566 512.5L566.74 507.75L567 504.5L567.81 506.58L568.75 510L568.89 512.43L569.97 522.25L570 522.5L571.05 523.48L572.12 527.69L573 528.75L573.2 527.51L574.28 529.11L575.36 526.57L576.25 527.5L576.43 526.9L577.51 519.42L578 517.5L578.59 515.91L579.67 515.34L580.5 512.5L580.75 512.42L581.82 512.64L582.9 512.65L583 512L583.98 513.07L585 516.25L585.06 517.65L586.13 527.72L586.5 530L587.21 530.05L588.29 532.51L588.75 533L589.37 532.27L590.45 533.17L591.52 531.03L592.5 532L592.6 531.98L593.68 532.17L594.76 531.48L595.5 530.5L595.83 529.81L596.91 532.78L597.99 532.31L598.75 533.75L599.07 534.79L600.14 534.82L601.22 534.77L602 536.25L602.3 537.55L603.38 540.22L604.46 542.41L604.5 542L605.53 543.95L606.61 542.87L607.69 543.59L608 544.5L608.77 543.23L609.84 543.75L610.92 542.89L611.25 543L612 542.22L613.08 541.91L614.15 540.85L614.5 541.25L615.23 540.33L616.31 542.08L617.39 542.11L618 543L618.47 543.16L619.54 545.08L620.62 543.8L621.7 545.67L622 545.5L622.78 545.42L623.85 543.85L624.93 543.71L625 543.75L626.01 544.63L627.09 542.64L628.16 543.25L628.75 542.5L629.24 543.69L630.32 543.1L631.4 545.4L632 544.5L632.48 545.5L633.55 546.7L634.63 548.79L635 548.75L635.71 550.32L636.79 553.77L637.5 555L637.86 555.78L638.94 561.52L639.5 562.5L640.02 562.18L641.1 560.5L642.17 560.11L642.5 560L643.25 560.93L644.33 560.55L645.41 559.57L646.25 559.5L646.49 558.69L647.56 556.81L648.64 556.45L648.75 555L649.72 550.7L650 550.75L650.5 551.25L650.8 552.11L651.87 551.49L652.95 549.31L653 550L654.03 550.12L655.11 551.23L655.5 551.25L656.18 553.06L657.26 555.06L658 555L658.34 555.77L659.42 552.3L660.5 550.46L660.5 551.25L661.57 550.64L662.65 550.24L663.73 549.92L663.75 549.5L664.81 549.05L665.88 551.03L666.96 552.32L667 551.25L668.04 553.68L669.12 555.16L669.5 554.5L670.19 555.13L671.27 554.52L672.35 551.43L672.5 552.5L673.43 550.33L674.51 544.89L675 543.75L675.58 542.99L676.66 542.81L677.5 542.5L677.74 544.04L678.82 544.75L679.89 545.71L680 546.25L680.97 545.11L682.05 545.59L683 543.75L683.13 544.21L684.2 539.19L685.28 536.25L685.5 536.25L686.36 534.2L687.44 531.64L688 531.25L688.52 531.61L689.59 531.14L690.67 532.47L691.25 532.5L691.75 534.38L692.83 535.77L693.75 536.25L693.9 535.39L694.98 536.91L696.06 538.69L697 540L697.14 540.33L698.22 539.27L699.29 538.54L700.37 538.39L700.5 538.75L701.45 537.62L702.53 538.91L703.6 538.07L703.75 537.5L704.68 537.13L705.76 537.71L706.84 537.08L707 537L707.91 538.17L708.99 539.05L709.5 540L710.07 542.82L711.15 549.5L711.5 550L712.23 553.76L713 556.25L713.3 557.22L714.38 555.8L715.46 557.21L716.25 557.5L716.54 557.19L717.61 556.61L718.69 557.55L719.77 556.86L720 558L720.85 556.91L721.92 557.88L723 557.08L723.75 556.25L724.08 556.27L725.16 553.05L726.24 551.65L726.25 552.5L727.31 552.53L728.39 554.02L728.75 555.5L729.47 554.61L730.55 557.06L731.62 557.1L732.5 556.25L732.7 555.58L733.78 556.21L734.86 558.55L735.93 558.03L736.25 558L737.01 558.06L738.09 558.89L739.17 558.96L740 560L740.25 560.14L741.32 560.14L742.4 559.24L743.48 559.67L743.75 558.75L744.56 557.58L745.63 558.64L746.71 559.43L747.5 558L747.79 557.15L748.87 558.26L749.94 558.83L751.02 558.28L751.25 558.75L752.1 560.24L753.18 559.35L754.26 559.7L755 560L755.33 560.94L756.41 558.27L757.49 560.13L758.57 557.85L758.75 558.75L759.64 557.81L760.72 557.34L761.25 557L761.8 557.38L762.88 557.1L763.95 558.69L765 560L765.03 559.64L766.11 561.56L767.19 561.81L768.27 561.31L768.75 561.25L769.34 562.83L770.42 563.48L771.5 563.04L772 563.75L772.58 562.9L773.65 564.44L774.73 563.97L775 564.5L775.81 562.9L776.89 565L777.96 564.53L778.75 563L779.04 562.94L780.12 562.57L781.2 562.12L782 561.25L782.28 561.26L783.35 555.75L784.43 551.74L784.5 551.25L785.51 547.51L786.59 544.32L787 543.75L787.66 544.91L788.74 545.95L789.82 547.23L790 548.75L790.9 548.78L791.97 550.22L793 550L793.05 549.38L794.13 550.07L795.21 548.83L796.25 547.5L796.29 547.83L797.36 546.38L798.44 542.18L799.5 541.25L799.52 540.4L800.6 541.22L801.67 540.13L802 538.75L802.75 536.53L803.83 536.72L804.5 535L804.91 533.54L805.98 533.31L807 533.75L807.06 532.93L808.14 536.78L809 540L809.22 537.53L810.3 528.11L810.5 525L811.37 524.11L812 523.75L812.45 524.75L813.53 529.85L814 532.5L814.61 533.11L815.68 536.54L816 538.75L816.76 537.81L817.84 536.94L818.5 536.25L818.92 535.39L820 535.19L821 535L821.07 533.82L822.15 533.11L823.23 530.26L823.5 530L824.31 527.91L825.38 527.17L826 526.25L826.46 524.8L827.54 523.4L828.5 522.5L828.62 521.23L829.69 520.24L830.5 517.5L830.77 511.82L831.5 498.75L831.85 499.64L832.93 497.31L833 497.5L834.01 497.23L835 498.75L835.08 499.63L836.16 504.19L836.5 505L837.24 508.3L838.32 509.72L838.5 511.25L839.39 510.89L840.47 509.72L840.5 508.75L841.55 509.82L842.63 511.82L843 512.5L843.7 513.4L844.78 513.32L845.86 515.85L846 515L846.94 514.58L848.02 513.91L849 512L849.09 511.85L850.17 511.8L851.25 510.72L852.33 510.8L852.5 511.25L853.4 512.6L854.48 514.09L855.5 513.75L855.56 512.82L856.64 512.01L857.71 511.52L858.79 511.94L859 512L859.87 512.43L860.95 510.55L861 511.25L862.03 521.44L862.5 526.25L863.1 527.8L864.18 531.33L864.5 531.25L865.26 531.51L866.34 532.74L867 535L867.41 533.57L868.49 529.4L869.5 526.25L869.57 525.74L870.65 527.44L871.72 527.65L872.5 527.5L872.8 526.57L873.88 528.32L874.96 529.5L875 528.75L876.04 531.11L877.11 530.09L878 532.5L878.19 532.73L879.27 527.51L880.35 525.93L880.5 525L881.42 527.56L882.5 531.18L882.5 530L883.58 531.96L884.66 532.12L885 533.75L885.73 533.89L886.81 532.36L887.89 533.41L888 532.5L888.97 530.88L890.05 531.19L891 531.25L891.12 531.76L892.2 530.86L893.28 532.58L894 532.5L894.36 533.14L895.43 533.62L896.51 534.37L897.5 533.75L897.59 533.48L898.67 532.24L899.74 532L900 532.5L900.82 531.18L901.9 528.97L902.98 529.32L903 528.75L904.06 527.17L905.13 526.71L906 527.5L906.21 528.31L907.29 526.36L908.37 523.31L908.5 523.75L909.44 523.34L910.52 524.6L911.5 523.75L911.6 524.01L912.68 522.55L913.76 522.49L914 522.5L914.83 524.26L915.91 523.11L916.5 525L916.99 526.04L918.07 524.39L919 523.75L919.14 522.65L920.22 522.24L921 520L921.3 514.41L922 505L922.38 496.29L923 482.5L923.45 464.52L923.5 462.5L924.5 445L924.53 443.94L925.5 432.5L925.61 432.68L926.69 424.11L927 421.25L927 387.5L927.77 384.07L928.5 382.5L928.84 389.6L929.92 414.51L930 417.5L931 416.44L932 415L932.08 412.67L933.15 392.04L933.5 385L934.23 387.05L935 387.5L935.31 386.94L936.39 379.57L936.5 380L937.46 373.94L938 371.25L938.54 373.29L939.5 377.5L939.62 379.89L940.5 400L940.7 401.11L941.78 408.4L942 410L942.85 422.04L943.5 430L943.93 437.03L944.5 447.5L945.01 439.47L946 425L946.09 424.43L947.16 420.21L947.5 420L948.24 409.22L949 397.5L949.32 394.85L950.4 388.11L950.5 386.25L951.47 383.03L952 380L952.55 365.49L953 355L953.63 334.65L954 323.75L954.71 323.3L955.5 321.25L955.79 321.94L956.86 322.53L957.5 325L957.94 333.05L958.5 342.5L959.02 353.89L959.5 365L960.1 374.68L961 387.5L961.17 387.85L962.25 386.51L962.5 385L963.33 377.23L964 370L964.41 362.94L965 350L965.48 348.63L966.5 347.5L966.56 347.24L967.64 349.2L968.5 352.5L968.72 354.91L969.8 360.24L970 362.5L970.87 395.37L971 400L971.95 419.04L972 420L973.03 417.39L973.5 415L974.11 417.74L975 422.5L975.18 422.34L976.26 427.45L976.5 428.75L977.34 416.38L978 408.75L978.42 407.97L979.49 408.15L980 407.5L980.57 407.42L981.65 411.87L982 411.25L982.73 415.59L983.5 420L983.81 420.5L984.88 425.48L985 425L985.96 428.86L986.5 432.5L987.04 436.53L988 445L988.12 445.85L989 442.5L989.19 443.12L990.27 451.58L990.5 452.5L991.35 451.94L992.43 453.79L992.5 453.75L993.5 450.64L994.58 445.71L995 445L995.66 440.59L996.74 434.7L997.5 430L997.82 430.55L998.89 430.49L999.97 432.24L1000 432.5L1001.05 436.42L1002.13 437.35L1002.5 438.75L1003.2 437.29L1004.28 432.41L1004.5 432.5L1005.36 429.82L1006.44 426.74L1007 425L1007.51 425.89L1008.59 427.56L1009 427.5L1009.67 423.8L1010.5 417.5L1010.75 415.95L1011.83 407.25L1012 405L1012.9 396.97L1013 395L1013.98 397.82L1014.5 400L1015.06 398.06L1016 392.5L1016.14 392.21L1017 390L1017.21 390.45L1018.29 395.61L1018.5 397.5L1019.37 403.98L1020 407.5L1020.45 408.69L1021.53 409.24L1022 411.25L1022.6 411.85L1023.68 411.12L1024 412.5L1024.76 413.16L1025.84 414.98L1026 415L1026.91 411.96L1027.99 406.64L1028 407.5L1029.07 405.43L1029.5 406.25L1030.15 409.68L1031 413.75L1031.22 416.63L1032.3 426.46L1032.5 427.5L1033.38 430.07L1034 432.5L1034.46 432.99L1035.54 434.03L1036 433.75L1036.61 438.29L1037.5 442.5L1037.69 442.72L1038.77 445.06L1039.5 445L1039.85 445.39L1040.5 447.5L1040.92 451.01L1041.5 457.5L1042 461.35L1042.5 466.25L1043.08 467.14L1044.16 468.08L1045 467.5L1045.23 467.19L1046.31 466.7L1047.39 464.17L1047.5 465L1048.47 466.31L1049.55 467.56L1050.62 468.99L1051.25 470L1051.7 469.79L1052.78 472.36L1053.86 473.92L1054.93 475.27L1055 475L1056.01 476.64L1057.09 476.98L1058.17 479.08L1058.75 478.75L1059.24 479.43L1060.32 481.31L1061.4 481.17L1062.48 483L1062.5 482.5L1063.56 488.31L1064.5 495L1064.63 493.75L1065.71 494.61L1066.5 492.5L1066.79 490.72L1067.87 484.49L1068.5 482.5L1068.94 481.7L1070.02 479.82L1070.5 477.5L1071.1 476.4L1072.18 473.74L1073 470L1073.25 471.29L1074.33 470.72L1075 471.25L1075.41 466.12L1076.49 454L1076.5 455L1077.57 445.53L1078 442.5L1078.64 442.31L1079.5 441.25L1079.72 443.42L1080.8 446.45L1081 448.75L1081.88 450.67L1082.95 451.88L1083 451.25L1084.03 453.04L1085 453.75L1085.11 453.42L1086.19 459.51L1086.5 462.5L1087.26 464.39L1088 465L1088.34 466.22L1089.42 468.21L1090 470L1090.5 471.59L1091.58 475.09L1092.5 480L1092.65 481.74L1093.73 484.57L1094.81 488.16L1095 487.5L1095.89 488.77L1096.96 488.38L1098.04 489.92L1099.12 488.78L1100 490L1100.2 490.45L1101.27 489.32L1102.35 489.72L1103 490L1103.43 493.12L1104.51 497.34L1105 500L1105.59 501.27L1106.66 500.95L1107.74 500.61L1108 501.25L1108.82 498.07L1109.9 494.03L1110 495L1110.97 489.1L1112 482.5L1112.05 483.45L1113.13 483.4L1114.21 485.6L1115.28 488.45L1115.5 487.5L1116.36 488.88L1117.44 492.37L1118.52 494.15L1118.75 493.75L1119.6 495.43L1120.67 497.95L1121.25 498.75L1121.75 497.81L1122.83 499.4L1123.91 500.45L1124.5 500L1124.98 501.42L1126.06 505.67L1126.5 508.75L1127.14 508.49L1128.22 510.44L1129 512.5L1129.3 511.08L1130.37 509.86L1131 507.5L1131.45 504.02L1132.5 496.25L1132.53 496.31L1133.61 494.66L1134.68 493.54L1135 493.75L1135.76 493.77L1136.84 494.11L1137.92 492.48L1138.99 492.98L1140 493L1140.07 493.37L1141.15 494.08L1142.23 492.18L1143.31 492.39L1144.38 492.74L1145 492.5L1145.46 490.65L1146.54 489.71L1147.5 487.5L1147.62 488.68L1148.69 486.31L1149.77 486.31L1150 486.25L1150.85 480.48L1151.93 475.46L1152 475L1153 461.23L1153 460L1154.08 460.11L1154.5 460L1155.16 460.9L1156.24 463.85L1157.32 467.37L1157.5 467.5L1158.39 470.21L1159.47 471.32L1160.55 473.57L1161.25 475L1161.63 476.56L1162.7 476.88L1163.78 481.24L1164.86 482.13L1165 482.5L1165.94 482.53L1167.01 484.23L1168.09 483.41L1169.17 483.67L1170 485L1170.25 482.72L1171.33 476.61L1171.5 475L1172.4 466.44L1173 462.5L1173.48 456.36L1174 450L1174.56 444.66L1175.5 437.5L1175.64 437.39L1176.71 434.54L1177 435L1177.79 436.11L1178.87 437.04L1179.5 436.25L1179.95 439.41L1181.02 448.26L1181.5 452.5L1182.1 451.75L1183 450L1183.18 449.12L1184.26 438.37L1184.5 437.5L1185.34 428.21L1186 420L1186.41 393.97L1186.5 387.5L1187.49 388.26L1187.5 387.5L1188.5 405L1188.57 405.53L1189.65 417.3L1190 420L1190.72 421.93L1191.5 423.75L1191.8 421.18L1192.88 415.15L1193 415L1193.96 381.75L1194 380L1195 355L1195.03 354.91L1196.11 348.37L1196.5 345L1197.19 328.31L1197.5 320L1197.6 322L1198.27 299.88L1198.6 290L1199.35 245L1199.6 230L1200.42 165.97L1200.5 160L1201.3 60" stroke-linecap="butt"/>
<path d="M1206.3 103.2L1207.7 92.8" stroke-linecap="butt"/>
<path d="M1240 113L1240 113L1240.5 160L1241.08 170.84L1241.5 180L1242.16 181.79L1243.23 181.6L1244 182.5L1244.31 174.23L1245.39 147.82L1245.5 145L1246.47 145.09L1247.5 146.25L1247.54 146.35L1248.62 164.43L1249 170L1249.7 180.38L1250 183.75L1250.78 182.35L1251.85 180.09L1252.5 180L1252.93 177.78L1254.01 172.19L1254.5 170L1255.09 156.12L1256 135L1256.17 123.57L1257 70L1257.24 80.43L1258 110L1258.32 114.04L1259.4 129.78L1259.5 132.5L1260.48 131.39L1261 130L1261.55 132.48L1262.5 135L1262.63 137.28L1263.71 161.36L1264 168.75L1264.79 157.81L1265.5 147.5L1265.86 147.38L1266.94 142.05L1267 142.5L1268.02 127.3L1268.5 120L1269.1 118.89L1270 118.75L1270.18 119.2L1271.25 117.41L1272.33 116.1L1272.5 116.25L1273.41 112.87L1274 110L1274.49 104.41L1275.5 92.5L1275.56 91.62L1276.64 90.38L1277 90L1277.72 100.78L1278.5 110L1278.8 112.76L1279.87 119.2L1280 120L1280.95 121.01L1282 121.25L1282.03 120.85L1283.11 140.41L1283.5 147.5L1284.19 150.24L1285 151.25L1285.26 150.93L1286.34 155.02L1287 155L1287.42 163.23L1288 172.5L1288.5 179.19L1289 185L1289.57 206.2L1290 222.5L1290.65 237.74L1291 247.5L1291.73 256.09L1292 260L1292.81 268.7L1293.5 275L1293.88 276.08L1294.96 280.66L1295 280L1296.04 277.18L1297.12 276.61L1297.5 275L1298.2 272.46L1299 267.5L1299.27 264.66L1300 255L1300.35 251.89L1301.43 244.75L1301.5 245L1302.51 242.19L1303 242.5L1303.58 244.25L1304.5 250L1304.66 252.51L1305.74 264.44L1306 267.5L1306.82 270.9L1307.5 272.5L1307.9 271.19L1308.97 269.34L1309.5 268.75L1310.05 273.9L1311 280L1311.13 281.72L1312.21 282.98L1312.5 285L1313.28 297.48L1313.5 300L1314.36 317.37L1315 330L1315.44 333.1L1316.5 345L1316.52 344.89L1317.5 320L1317.59 316.88L1318.5 293L1318.67 292.44L1319.75 292.97L1320.5 291L1320.83 297.85L1321.5 310L1321.91 318.97L1322.5 335L1322.98 340.3L1324 350L1324.06 349.16L1325 357L1325.14 359.66L1326.22 371.84L1326.5 375L1327.29 395.18L1327.5 400L1328.37 416.17L1328.5 420L1329.45 406.26L1330 400L1330.53 398.75L1331.6 395.68L1332 395L1332.68 393.7L1333.76 388.94L1334 388.75L1334.84 388.07L1335.92 386.8L1336.5 387.5L1336.99 387.01L1338.07 387.11L1339 385L1339.15 385.28L1340.23 393.11L1341.3 397.95L1341.5 400L1342.38 390.72L1343 382.5L1343.46 376.41L1344.5 362.5L1344.54 361.47L1345.61 361.38L1346 360L1346.69 366.78L1347.5 372.5L1347.77 374.73L1348.85 387.23L1349 390L1349.93 390.51L1351 392.54L1351 392.5L1352.08 395.7L1353 396.25L1353.16 397.29L1354.24 396.57L1355 397.5L1355.31 397.87L1356.39 404.71L1357 407.5L1357.47 413.95L1358.5 427.5L1358.55 427.24L1359.5 436.25L1359.62 435.17L1360.7 424.48L1361 420L1361.78 411.27L1362.5 405L1362.86 403.62L1363.94 402.32L1364 401.25L1365.01 406.27L1365.5 410L1366.09 412.97L1367 420L1367.17 419.15L1368.25 420.7L1369 420L1369.32 418.63L1370.4 417.18L1371 417.5L1371.48 413.84L1372.5 405L1372.56 404.93L1373.63 390.54L1374 385L1374.71 385.12L1375.79 386.83L1376.87 385.29L1377.95 386.49L1379.02 386.75L1380 387.5L1380.1 387.68L1381.18 387.41L1382.26 387.94L1383.33 390.76L1384.41 389.63L1385.49 390.79L1386.25 391.25L1386.57 392.41L1387.64 391.09L1388.72 391.52L1389.8 392.3L1390.88 391.28L1391.25 392.5L1391.96 361.62L1392.5 340L1393.03 305.67L1393.5 275L1394.11 274.16L1395 273.75L1395.19 274.7L1396.27 286.92L1396.5 290L1397.34 291.91L1398 292.5L1398.42 298.1L1399.5 310.01L1399.5 310L1400.58 321.84L1401 327.5L1401.66 327.29L1402.5 325L1402.73 320.36L1403.81 303.83L1404 300L1404.89 288.74L1405.5 282.5L1405.97 284.1L1407.04 284.75L1408 285L1408.12 285.61L1409.2 290.82L1410.28 296.57L1411 300L1411.35 303.96L1412.43 314.47L1413.51 325.61L1414 330L1414.59 333.63L1415.67 343.11L1416.74 352.6L1417.5 358L1417.82 357.71L1418.75 357.5L1418.9 358.94L1419.98 359.34L1420.5 360L1421.05 362.28L1422.13 369.18L1422.5 370L1423.21 370.51L1424.29 371.91L1425 372.5L1425.36 373.23L1426.44 374.87L1427.5 375L1427.52 374.32L1428.6 380.09L1429.5 382.5L1429.68 383.35L1430.75 386.85L1431.5 390L1431.83 390.6L1432.91 395.65L1433.5 396.25L1433.99 397.72L1435.06 397.35L1435.5 397.5L1436.14 397.17L1437.22 398.92L1438.3 396.55L1439.37 396.76L1440 398L1440.45 397.92L1441.53 398.07L1442.61 396.46L1443.69 396.82L1444.76 396.45L1445 397.5L1445.84 401.05L1446.92 406.27L1447.5 410L1448 409.95L1449.07 411.99L1449.5 413.75L1450.15 411.38L1451.23 407.38L1451.5 407.5L1452.31 404.18L1453.38 397.82L1453.5 397.5L1454.46 395.3L1455.5 395L1455.54 395.53L1456.62 399.47L1457 400L1457.7 392.68L1458.5 385L1458.77 379.62L1459.85 365.13L1460 362.5L1460.93 357.74L1461.5 353.75L1462.01 354.45L1463.08 353.31L1463.5 352.5L1464.16 350.27L1465.24 345.57L1465.5 345L1466.32 333.44L1467 325L1467.39 317.95L1468 310L1468.47 301.38L1469 290L1469.55 262.65L1470 240L1470.63 238.93L1471.5 238.75L1471.71 238.46L1472.78 242.48L1473 243.75L1473.86 269.17L1474 272.5L1474.94 297.57L1475 300L1476.02 295.45L1476.5 295L1477.09 293.2L1478.17 290.39L1478.5 290L1479.25 295.51L1480 300L1480.33 300.8L1481.4 302.74L1482.48 306.2L1483.56 308.02L1484.64 308.31L1485 310L1485.72 307.2L1486.79 304.41L1487.87 300.27L1488.95 298.83L1490 295L1490.03 295.61L1491.1 290.78L1491.5 290L1492.18 291.48L1493.26 291.24L1493.5 291.25L1494.34 288.44L1495.41 286.78L1495.5 286.25L1496.49 285.04L1497 283.75L1497.57 287.88L1498 290L1498.65 304.19L1499.73 325.59L1500 330L1500.8 331.38L1501.88 333.58L1502.5 335L1502.96 327.64L1504 315L1504.04 313.96L1505 292.5L1505.11 291.47L1506.19 289.53L1506.5 290L1507.27 294.67L1508 297.5L1508.35 299.15L1509.42 308.41L1509.5 310L1510.5 332.9L1510.5 332.5L1511.58 323.22L1512.5 315L1512.66 315.87L1513.74 324.04L1514 325L1514.81 329.06L1515.5 333.75L1515.89 332.4L1516.97 331.58L1518 330L1518.05 328.74L1519.12 324.87L1520 320L1520.2 321.8L1521.28 325.08L1521.5 325L1522.36 305.99L1523 290L1523.44 288.16L1524.5 287.5L1524.51 287.28L1525.59 286.73L1526 285L1526.67 276.98L1527.5 265L1527.75 253.56L1528.5 217.5L1528.82 217.36L1529.9 214.56L1530 215L1530.98 222.55L1531.5 227.5L1532.06 226.72L1533.13 229.57L1533.5 228.75L1534.21 227.61L1535 227.5L1535.29 235.3L1536 250L1536.37 249.02L1537.45 251.98L1537.5 251.25L1538.52 262.4L1539 267.5L1539.6 279.82L1540 290L1540.68 291.55L1541.5 292.5L1541.76 298.79L1542.5 315L1542.83 313.43L1543.91 306.69L1544.5 302.5L1544.99 302.35L1546.07 301.24L1546.5 300L1547.14 297.54L1548 295L1548.22 290.64L1549.3 262.46L1549.5 257.5L1550.38 256.16L1551 256.25L1551.46 263.98L1552.5 277.5L1552.53 276.38L1553.61 258.83L1554 252.5L1554.69 252.15L1555 251.25L1555.77 260.32L1556.5 267.5L1556.84 268.17L1557.92 271.03L1558 272.5L1559 290.19L1559 290L1560 315L1560.08 316.01L1561.15 327.14L1561.5 330L1562.23 329.99L1563 331.25L1563.31 336.99L1564.39 353.93L1564.5 355L1565.47 368.01L1566 373.75L1566.54 372.04L1567.62 367.11L1568 365L1568.7 358.16L1569.5 350L1569.78 353.69L1570.85 362.83L1571 365L1571.93 360.77L1573 355L1573.01 355.7L1574.09 348.92L1575 342.5L1575.16 341.4L1576.24 340.98L1576.5 341.25L1577.32 351.26L1578 357.5L1578.4 359.54L1579.48 361.52L1579.5 362.5L1580.55 371.23L1581 375L1581.63 373.71L1582.5 370L1582.71 371.28L1583.79 372.2L1584 372.5L1584.86 390.18L1585.5 405L1585.94 405.01L1587 407.5L1587.02 406.2L1588.1 402.97L1588.5 402.5L1589.17 392.36L1590 382.5L1590.25 382.39L1591.33 379.7L1592 377.5L1592.41 380.75L1593.49 390.87L1593.5 390L1594.56 399.71L1595 405L1595.64 405.81L1596.72 409.59L1597 410L1597.8 415.38L1598.5 420L1598.87 417.15L1599.95 413.8L1600.5 410L1601.03 415.61L1602 425L1602.11 426.08L1603.18 433.56L1604 440L1604.26 439.84L1605.34 436.65L1605.5 437.5L1606.42 429.33L1607 425L1607.5 423.8L1608.57 420.34L1609 418.75L1609.65 420.85L1610.73 422.99L1611 425L1611.81 428.57L1612.5 432.5L1612.88 436.64L1613.96 444.62L1614.5 447.5L1615.04 442.04L1616 430L1616.12 428.38L1617.2 423.91L1617.5 423.75L1618.27 428.32L1619.35 437.32L1619.5 437.5L1620.43 438.28L1621 440L1621.51 436.12L1622.58 429.48L1623 427.5L1623.66 429.21L1624.5 430L1624.74 431.66L1625.82 439.71L1626 440L1626.89 441.13L1627.97 443.76L1628 445L1629.05 451.15L1630 455L1630.13 454.62L1631.21 461.58L1631.5 462.5L1632.28 466.03L1633 468.75L1633.36 465.51L1634.44 458.24L1635 455L1635.52 454.98L1636.59 451.76L1637 452.5L1637.67 454.24L1638.5 453.75L1638.75 454.02L1639.83 460.61L1640 462.5L1640.9 463.99L1641.98 463.98L1642 465L1643.06 465.63L1644 463.75L1644.14 464.38L1645.22 469.72L1645.5 472.5L1646.29 473.61L1647 476.25L1647.37 472.35L1648.45 461.52L1648.5 460L1649 435L1649.53 431.74L1650.6 426.72L1651 425L1651.68 424.75L1652.76 424.29L1653 423.75L1653.84 427.82L1654.5 430L1654.91 432.31L1655.99 439.61L1656 440L1657.07 444.98L1658 447.5L1658.15 448.74L1659.23 448.82L1660 450L1660.3 451.75L1661.38 451.23L1662.46 454.53L1663.54 456.37L1664.61 457.09L1665 457.5L1665.69 458.83L1666.77 458.48L1667.85 461.81L1668.92 462.69L1670 463.71L1671.08 465.01L1671.25 465L1672.16 465.02L1673.24 467.89L1673.75 467.5L1674.31 466.37L1675.39 464.26L1675.5 463.75L1676.47 463.7L1677 465L1677.55 469.88L1678.5 477.5L1678.62 477.85L1679.7 488.2L1680 490L1680.78 490.07L1681.5 492.5L1681.86 491.23L1682.93 490.55L1683 491.25L1684.01 496.9L1684.5 500L1685.09 511.29L1685.5 517.5L1686.17 516.77L1687 518.75L1687.25 517.51L1688.32 510.1L1689 507.5L1689.4 507.69L1690.48 508.82L1691 510L1691.56 510.17L1692.63 513.01L1693 513.75L1693.71 510.37L1694.5 507.5L1694.79 500.37L1695.5 485L1695.87 488.96L1696.94 498.78L1697 500L1698.02 500.38L1698.5 498.75L1699.1 498.85L1700.18 500.85L1700.5 501.25" stroke-linecap="butt"/>
</g>
<path d="M1702.2 685.0L1701.2 669.2L1699.2 669.0L1700.8 668.0L1700.0 666.5L1698.0 666.5L1697.8 665.2L1693.0 665.0L1692.5 656.2L1691.5 656.0L1691.5 655.0L1692.0 654.8L1691.0 653.5L1686.5 653.2L1686.0 640.0L1684.0 640.0L1683.5 639.0L1681.8 595.5L1679.5 566.0L1677.2 565.8L1677.2 564.0L1671.2 563.8L1669.8 469.2L1668.8 442.5L1667.8 442.2L1666.8 387.0L1665.8 386.8L1666.5 386.5L1665.5 376.0L1663.5 376.0L1663.2 374.0L1662.5 374.0L1662.5 376.0L1660.2 376.2L1659.0 476.2L1652.8 476.5L1652.8 478.5L1650.5 478.8L1649.5 549.2L1648.5 567.2L1647.2 567.5L1646.0 594.0L1640.8 594.2L1639.8 590.0L1637.2 590.0L1636.5 588.8L1635.5 589.2L1636.2 590.2L1635.8 591.0L1629.8 590.8L1629.0 566.2L1626.8 566.2L1625.8 564.5L1624.0 565.2L1624.8 567.2L1622.5 567.5L1622.2 571.5L1614.0 571.2L1613.8 570.2L1613.0 570.2L1612.8 572.2L1610.8 572.2L1608.5 599.0L1608.2 617.5L1607.8 620.0L1605.2 620.0L1604.2 646.0L1603.5 649.8L1598.2 649.8L1597.8 647.8L1594.5 567.5L1592.5 567.5L1592.2 565.2L1587.5 565.0L1587.0 490.0L1585.0 490.0L1584.8 487.8L1582.8 487.8L1582.2 485.5L1581.5 436.2L1579.5 436.2L1579.2 434.0L1576.2 434.0L1576.2 436.0L1574.0 436.2L1573.0 508.2L1572.0 514.5L1573.2 514.8L1572.0 515.0L1571.8 517.2L1566.8 517.2L1566.5 515.0L1565.2 514.8L1565.8 513.2L1565.0 512.5L1562.0 512.2L1561.0 325.0L1558.0 324.8L1556.8 302.8L1554.8 302.5L1556.5 301.5L1555.5 299.2L1553.5 299.0L1553.5 297.8L1551.5 297.8L1551.5 299.8L1549.2 300.0L1548.2 361.8L1547.5 363.0L1549.2 364.2L1547.0 364.5L1546.2 416.8L1545.2 446.2L1540.0 446.5L1539.2 443.5L1538.5 430.5L1537.0 430.2L1538.2 429.8L1537.2 425.2L1535.2 425.2L1534.8 424.8L1534.0 418.0L1532.5 417.8L1533.8 416.8L1532.8 414.8L1531.8 409.2L1531.0 401.2L1528.8 401.0L1528.5 399.0L1527.8 399.0L1527.5 401.2L1525.5 401.2L1524.8 412.2L1519.2 412.2L1519.0 410.2L1517.0 410.2L1516.8 412.5L1509.8 412.2L1509.2 382.5L1507.2 382.5L1507.0 380.2L1502.5 380.0L1500.8 314.0L1499.5 296.5L1497.8 296.2L1499.0 295.2L1498.5 294.0L1496.5 293.8L1496.2 292.8L1495.5 292.8L1495.5 294.8L1493.2 295.0L1493.0 297.8L1490.0 297.8L1489.8 300.0L1483.2 300.0L1481.2 294.2L1478.0 294.2L1477.5 293.8L1475.8 295.8L1476.8 297.0L1474.8 297.5L1474.2 299.8L1466.0 299.8L1465.5 296.5L1465.0 275.5L1463.5 275.2L1465.0 274.8L1464.0 270.8L1462.0 270.8L1461.8 269.0L1460.0 269.0L1460.0 271.0L1457.8 271.2L1457.2 304.5L1448.2 304.8L1448.0 300.2L1445.8 299.8L1445.8 297.8L1444.8 297.8L1444.5 300.0L1442.5 300.0L1441.8 336.0L1436.2 336.2L1436.0 335.2L1434.2 335.0L1435.0 334.0L1434.8 333.5L1432.0 333.0L1431.8 321.0L1431.0 320.8L1431.8 320.2L1430.8 312.5L1428.8 312.2L1428.5 310.2L1426.5 310.2L1426.5 312.2L1424.2 312.5L1423.5 359.5L1418.2 359.8L1417.8 354.5L1417.8 335.0L1416.8 303.0L1414.8 302.5L1416.2 301.8L1415.5 299.2L1413.5 299.2L1413.2 297.8L1411.2 297.5L1410.2 277.5L1408.2 277.5L1408.0 275.2L1406.0 275.2L1406.0 277.2L1403.8 277.5L1403.2 297.5L1401.8 297.8L1401.5 299.2L1399.5 299.2L1397.8 304.5L1393.0 304.5L1391.5 305.0L1392.0 307.0L1389.8 307.2L1389.0 340.0L1379.5 340.0L1379.0 312.5L1377.0 312.5L1376.8 310.2L1374.8 310.2L1374.8 312.2L1372.5 312.5L1371.2 370.2L1370.8 472.0L1365.0 472.2L1364.8 470.2L1364.0 470.2L1364.0 472.2L1361.8 472.5L1361.0 521.8L1355.5 521.8L1355.2 477.5L1353.2 477.5L1353.0 475.2L1349.2 475.2L1348.8 474.8L1348.8 469.5L1347.8 460.8L1345.8 460.8L1345.5 458.8L1341.2 458.5L1341.2 450.0L1339.2 450.0L1339.0 447.8L1337.0 447.8L1337.0 449.8L1334.8 450.0L1334.5 465.0L1330.5 465.2L1328.0 470.2L1329.2 471.8L1327.2 472.0L1326.8 536.5L1324.2 536.8L1323.0 538.0L1323.8 540.0L1316.8 540.2L1315.2 446.5L1313.2 446.2L1314.8 445.0L1314.0 441.8L1313.2 413.8L1311.0 413.8L1310.0 412.0L1308.0 413.0L1309.0 414.8L1306.8 415.0L1306.8 417.5L1304.8 417.8L1304.5 420.0L1302.5 420.0L1301.5 442.5L1296.0 442.8L1295.5 442.2L1294.8 416.0L1293.8 315.0L1291.5 314.8L1291.5 312.8L1290.5 312.5L1289.5 290.0L1287.5 290.0L1287.2 287.8L1282.5 287.8L1282.0 286.8L1280.8 242.5L1278.8 242.5L1278.5 240.2L1276.8 240.2L1276.8 242.0L1274.5 242.2L1273.5 249.5L1274.5 249.8L1273.2 250.2L1272.2 281.2L1270.8 283.2L1272.0 284.5L1270.2 284.8L1269.8 286.8L1264.8 286.8L1263.5 277.2L1261.0 277.2L1259.5 276.5L1258.8 277.8L1259.5 279.0L1258.2 279.2L1257.8 286.2L1252.5 286.5L1251.8 272.5L1243.0 271.8L1242.0 226.5L1240.0 226.2L1241.8 225.5L1241.0 223.2L1239.0 223.0L1238.8 221.5L1238.0 221.5L1238.0 223.5L1235.8 223.8L1234.8 239.8L1234.2 241.0L1222.5 241.2L1221.8 239.8L1217.0 239.5L1215.0 182.5L1212.8 182.2L1212.8 180.2L1211.0 180.2L1210.8 182.5L1208.8 182.5L1208.5 203.8L1205.5 204.0L1205.2 206.0L1203.2 206.0L1202.0 213.0L1200.8 215.2L1202.0 216.8L1200.0 217.0L1197.8 246.8L1197.0 274.8L1195.8 280.5L1195.2 281.0L1188.0 281.0L1187.0 279.5L1185.5 280.2L1186.0 282.2L1184.0 282.5L1183.0 298.0L1181.5 300.2L1182.5 301.5L1180.8 301.8L1180.2 305.8L1174.8 306.0L1173.2 305.8L1173.0 305.2L1171.0 305.2L1171.0 307.2L1168.8 307.5L1167.8 350.2L1167.2 440.5L1162.0 440.8L1161.2 439.5L1158.0 439.2L1157.0 375.0L1156.5 374.8L1156.8 371.8L1155.8 362.2L1154.2 362.0L1155.5 361.5L1154.8 358.5L1152.5 358.5L1151.8 357.2L1150.0 357.8L1150.2 360.0L1148.2 360.0L1147.5 375.8L1146.2 388.0L1145.8 415.8L1142.5 416.5L1143.0 418.5L1140.8 418.8L1140.5 434.8L1137.2 435.0L1136.5 435.5L1137.2 436.8L1135.5 437.5L1134.8 519.5L1133.2 519.8L1130.2 566.2L1123.0 566.0L1122.5 563.8L1120.8 563.5L1122.0 562.5L1121.2 561.5L1120.2 539.0L1119.2 450.8L1118.0 410.8L1117.0 410.5L1118.0 410.0L1117.0 407.0L1112.8 407.5L1111.0 552.0L1105.0 552.2L1104.5 550.8L1103.0 453.8L1101.0 453.8L1099.5 452.2L1094.5 452.2L1094.0 449.8L1093.5 406.2L1091.0 345.8L1090.0 303.8L1088.2 303.5L1090.0 302.8L1089.0 299.5L1087.0 299.5L1086.8 297.8L1084.8 297.8L1084.5 298.8L1079.5 298.8L1078.2 296.8L1076.5 297.8L1077.0 299.8L1075.0 299.8L1074.2 320.0L1073.0 329.5L1074.0 329.8L1071.8 330.0L1070.8 345.0L1069.8 389.5L1067.5 565.8L1062.2 566.0L1061.0 440.0L1060.2 439.8L1061.0 439.5L1060.0 428.2L1059.0 427.8L1059.8 427.5L1058.8 423.5L1056.5 423.5L1055.8 422.2L1050.2 422.0L1049.2 369.8L1048.2 369.5L1049.0 369.2L1048.0 358.5L1047.0 358.2L1048.0 357.8L1047.0 355.0L1046.0 300.0L1044.0 300.0L1043.8 297.8L1041.8 297.8L1041.5 299.8L1036.2 299.5L1033.0 276.0L1030.8 276.0L1029.5 274.5L1028.0 275.2L1028.8 277.0L1026.5 277.5L1025.2 293.0L1019.0 292.8L1019.0 292.2L1020.0 292.0L1019.0 288.5L1018.0 288.5L1018.5 287.8L1017.5 286.2L1016.0 286.2L1015.8 285.2L1013.8 285.2L1013.5 286.8L1011.5 286.8L1010.8 288.2L1011.5 289.0L1010.2 289.8L1009.5 293.8L1007.5 299.0L1009.0 299.8L1007.2 300.0L1005.5 330.0L1000.0 330.0L999.5 318.8L995.2 318.8L994.5 340.2L989.2 340.5L988.8 340.0L987.8 322.8L986.5 322.5L987.5 322.2L986.8 317.0L985.2 316.5L986.2 315.8L985.2 313.5L984.5 307.2L982.5 307.2L982.2 305.2L974.5 305.2L973.8 277.5L972.0 277.2L973.5 276.8L972.5 273.2L971.2 273.0L970.5 264.8L968.5 264.8L968.2 262.8L966.2 262.8L966.2 264.5L964.0 265.0L963.5 268.0L958.2 267.8L957.2 260.2L956.5 247.2L954.5 247.2L954.2 245.2L952.2 245.2L952.2 247.2L950.0 247.5L949.8 251.0L944.5 250.8L943.8 231.2L942.5 217.2L940.5 217.2L940.2 215.2L933.0 215.0L932.8 205.0L930.8 205.0L930.5 202.8L928.5 202.8L928.5 204.8L926.2 205.0L925.2 249.5L924.8 251.8L922.5 251.8L921.0 253.0L922.0 254.8L920.0 255.0L919.5 275.0L910.2 275.2L909.0 270.8L907.0 270.8L906.8 269.0L906.0 269.0L905.8 271.2L903.8 271.2L902.8 299.2L902.0 300.5L903.0 301.5L901.5 302.0L899.5 327.2L898.5 361.2L897.2 364.2L893.0 364.2L891.0 368.8L892.8 369.8L890.8 370.0L889.8 401.0L889.0 411.5L888.5 412.2L881.8 412.0L881.0 360.0L875.5 359.8L874.5 292.5L872.5 292.2L874.5 291.5L873.5 288.2L872.0 288.0L872.8 287.0L872.0 286.2L868.2 286.5L867.5 288.2L868.8 289.0L867.0 289.5L865.2 312.5L864.5 314.8L858.2 314.5L857.5 309.2L856.8 308.5L857.2 308.2L856.2 304.5L855.0 304.2L855.8 303.5L855.0 302.2L853.8 302.0L854.2 301.5L853.8 301.0L851.2 300.8L850.8 299.5L848.8 299.5L848.5 297.8L846.8 297.8L846.5 299.5L844.5 299.5L844.2 300.0L836.2 299.8L835.8 297.2L834.0 297.0L835.2 296.0L833.0 293.5L831.8 294.8L829.2 295.0L829.2 298.0L828.8 299.0L826.2 299.0L825.8 299.8L825.8 300.8L825.0 301.2L824.2 303.5L826.0 304.2L824.0 304.5L823.8 308.8L818.5 309.2L817.5 314.2L819.0 314.8L817.5 315.0L817.5 321.8L817.0 324.5L810.2 324.2L810.0 314.0L808.8 304.8L803.8 304.8L803.5 300.0L799.2 300.0L799.0 308.5L798.5 310.2L791.8 310.2L791.5 312.0L787.0 312.0L785.5 312.8L786.2 314.8L784.0 315.0L783.0 346.0L782.0 359.8L781.0 367.0L782.0 367.2L780.8 367.8L779.8 420.8L778.8 427.2L776.8 433.2L778.0 433.8L776.5 434.0L776.0 442.0L769.8 442.2L770.0 441.2L768.0 440.8L767.8 440.2L764.8 440.2L764.5 441.0L763.0 441.0L760.8 442.8L761.2 444.5L759.2 444.8L758.5 450.0L757.2 454.0L758.0 454.5L757.0 455.2L757.0 457.5L754.0 457.8L753.8 459.8L746.5 459.5L744.8 463.5L746.0 464.5L744.2 464.8L743.5 467.8L736.2 467.8L735.2 466.8L732.0 466.5L731.2 438.2L730.0 438.0L731.0 437.8L730.2 431.8L728.0 431.8L727.0 430.0L726.2 430.2L726.8 432.0L724.8 432.5L723.8 497.0L716.0 497.5L715.0 440.8L714.0 429.8L713.5 429.5L714.0 429.2L711.8 419.5L710.2 419.2L711.2 418.5L709.2 416.2L706.8 416.2L706.5 415.8L703.2 417.8L704.0 419.5L697.0 419.5L696.8 417.8L695.8 417.8L695.5 419.0L689.5 419.0L689.2 417.2L688.2 417.0L689.0 416.8L688.2 412.0L687.0 411.2L687.8 410.8L687.0 409.2L682.0 409.0L681.8 407.5L680.5 407.2L681.5 407.0L679.5 391.0L677.2 359.8L675.2 359.8L675.0 357.8L673.2 357.8L673.0 359.8L666.8 359.8L666.5 357.8L664.5 357.8L664.2 359.5L658.2 359.5L658.0 357.8L656.8 357.5L657.5 357.2L657.8 356.5L656.8 353.2L655.2 353.0L656.0 352.0L655.5 351.5L652.0 351.2L651.5 351.8L652.5 353.2L650.5 353.5L649.2 386.2L648.2 447.8L647.8 449.2L642.8 449.2L641.8 446.0L640.8 445.8L641.2 445.0L640.2 443.8L636.0 443.5L635.2 425.0L633.2 425.0L631.5 423.5L629.8 425.5L630.2 426.2L629.0 426.5L627.8 429.8L626.8 430.2L626.5 432.2L616.0 432.0L614.8 419.8L608.8 419.8L606.5 371.8L605.2 360.0L603.2 359.8L602.8 357.8L601.0 357.8L600.8 359.5L594.0 359.5L593.5 358.5L591.8 359.0L592.0 361.2L585.8 361.0L584.8 339.2L583.5 331.0L581.2 331.0L580.2 329.2L578.5 330.2L578.8 331.5L577.2 331.5L575.5 335.2L574.0 335.2L573.8 337.5L571.8 337.5L571.0 359.5L567.5 359.8L566.8 362.8L561.2 362.8L561.0 360.0L559.0 360.0L558.8 357.8L556.2 357.5L555.5 338.8L553.8 338.8L554.8 336.8L554.0 336.0L552.5 336.0L552.2 335.2L551.5 335.2L551.5 337.0L549.2 337.2L548.0 345.5L547.0 358.0L546.5 403.5L546.0 404.2L544.8 404.5L543.0 409.0L544.8 409.8L542.8 410.0L542.2 442.5L535.2 442.2L533.8 436.2L529.5 424.5L525.5 388.0L524.0 387.5L525.2 387.0L524.2 384.2L522.0 384.0L521.0 375.2L519.8 375.0L520.8 374.5L520.0 372.0L517.2 371.8L516.2 371.0L514.0 373.5L515.8 374.8L513.5 375.0L513.0 394.8L507.5 394.5L507.0 390.2L506.2 390.0L507.0 389.8L506.0 384.5L502.8 384.2L502.8 382.0L501.8 381.8L502.5 381.5L501.5 377.0L499.0 377.0L498.0 376.0L496.0 378.2L497.5 379.8L495.2 380.0L494.2 412.2L493.2 415.5L494.8 416.0L493.0 416.2L492.8 422.5L489.0 422.8L488.8 424.5L486.5 424.8L485.5 427.8L483.5 427.8L483.2 430.0L481.2 430.0L480.2 469.8L481.2 470.2L479.0 470.8L478.0 529.2L476.8 562.5L476.2 565.2L469.5 565.2L469.2 567.5L458.8 567.0L458.5 565.2L453.2 565.2L452.0 554.8L450.0 554.8L449.8 552.8L448.0 552.8L448.0 554.5L445.8 554.8L444.2 565.2L440.5 565.2L440.2 567.2L435.0 567.2L434.8 565.2L431.8 565.2L431.8 567.2L429.5 567.5L428.5 584.8L427.2 585.2L427.0 595.0L421.0 595.2L420.8 597.5L415.2 597.5L414.2 590.5L413.5 572.8L412.0 556.8L411.2 515.0L410.2 514.5L411.0 514.2L410.0 503.5L408.0 503.5L407.8 501.5L406.0 501.5L406.0 503.2L403.8 503.5L401.8 536.2L397.2 536.5L397.2 538.5L395.0 538.8L393.8 561.0L393.2 598.5L388.0 598.8L387.5 597.0L385.2 596.8L385.2 595.2L378.2 595.2L376.8 586.0L374.8 586.0L374.5 584.0L371.5 584.0L371.2 586.0L369.2 586.0L368.2 596.0L366.8 598.8L361.8 598.8L361.5 597.5L359.5 597.2L360.5 597.0L358.5 580.2L358.2 579.8L356.2 579.8L356.0 577.8L353.2 577.5L353.0 554.0L351.8 538.8L349.5 538.5L349.5 536.5L348.8 536.5L348.5 538.8L346.5 538.8L345.5 567.8L344.5 574.5L345.5 574.8L343.2 575.0L342.8 598.2L337.5 598.5L336.8 589.8L335.5 589.5L336.5 588.8L334.5 584.5L333.5 577.0L332.5 576.8L333.2 576.0L332.5 574.2L331.0 573.5L330.2 569.5L329.0 569.2L330.0 568.5L329.2 566.8L328.0 566.5L327.2 561.0L326.2 560.2L326.8 559.2L325.8 555.0L323.2 490.2L321.8 469.5L320.5 461.0L318.5 461.0L318.2 459.0L315.5 459.0L315.5 461.0L313.2 461.2L312.2 488.8L311.0 489.0L311.0 491.0L302.5 491.2L302.2 489.0L299.2 489.0L299.2 491.0L297.0 491.2L296.5 536.2L290.5 536.5L290.5 538.5L288.2 538.8L287.8 591.8L287.2 596.0L279.8 596.0L279.5 594.0L277.8 594.0L277.8 596.0L275.5 596.2L274.5 618.2L273.2 627.0L274.2 627.2L272.2 627.5L271.5 655.0L269.0 655.2L268.8 657.0L263.8 657.0L263.5 655.2L262.5 655.2L262.2 657.2L260.2 657.2L258.2 675.0L253.0 675.2L252.5 673.5L251.8 657.5L249.5 657.2L248.5 642.2L246.8 641.8L248.0 641.2L247.2 639.0L245.2 639.0L245.0 637.8L243.2 637.8L243.0 639.2L237.8 639.2L237.5 637.8L234.5 637.8L234.5 639.8L232.2 640.0L231.5 655.0L230.2 655.2L230.2 657.0L224.8 657.2L224.5 655.2L221.8 655.2L221.5 657.2L219.5 657.5L219.0 667.0L213.0 667.0L212.0 671.5L212.8 671.8L213.5 673.5L214.0 680.0L215.2 680.2L214.2 681.0L216.0 686.2L218.2 686.5L218.5 688.2L220.2 688.2L220.2 686.2L222.5 686.0L222.8 677.2L229.0 677.0L229.0 675.0L231.2 674.8L231.8 663.0L237.0 662.8L237.8 674.8L239.8 674.8L240.0 677.0L240.8 677.0L241.0 675.2L243.0 675.2L243.2 674.8L250.0 675.0L248.5 675.5L249.8 680.2L250.5 689.8L251.5 690.2L250.8 690.5L252.0 694.8L252.8 700.0L254.8 700.0L255.0 702.0L257.0 702.0L257.2 700.0L259.2 700.0L262.0 677.2L267.8 677.0L267.8 675.0L270.0 674.8L270.2 672.0L273.0 672.0L273.0 670.0L275.2 669.8L276.0 646.2L281.8 646.0L282.0 648.2L285.0 648.2L285.2 647.2L287.0 647.2L287.8 646.2L286.2 645.0L288.2 644.8L288.8 617.2L289.2 616.0L291.5 616.0L292.0 582.2L296.8 582.0L296.8 580.2L299.0 580.0L300.0 572.0L299.0 571.8L300.2 571.2L300.2 556.2L307.5 556.0L307.8 558.2L309.8 558.2L309.8 556.2L312.0 556.0L313.2 493.2L318.8 493.2L319.2 494.8L321.8 557.2L323.5 557.5L322.0 558.0L323.0 561.5L324.0 567.5L326.2 567.8L325.2 568.5L326.2 570.5L327.2 575.2L329.0 575.5L328.5 576.0L329.5 578.2L330.2 585.0L332.0 585.5L330.8 586.5L332.8 591.0L334.8 616.2L337.0 616.5L337.0 618.2L344.2 618.2L344.5 616.0L351.8 616.0L352.0 618.2L354.0 618.2L354.2 616.0L360.5 616.0L360.8 618.2L362.2 618.2L362.8 619.2L367.0 618.8L369.0 600.5L371.5 600.0L376.8 600.2L375.8 600.8L377.0 605.2L377.8 618.5L380.0 618.5L382.0 619.2L382.8 617.5L382.2 616.2L392.8 616.2L393.0 618.2L394.8 618.2L395.0 616.2L397.0 616.0L398.0 558.8L399.2 540.8L407.5 541.0L408.0 561.2L409.2 572.0L410.0 590.2L411.2 604.0L412.2 610.0L414.5 610.2L414.5 612.0L415.8 612.5L416.5 616.2L418.5 616.5L418.8 618.2L424.8 618.2L425.2 619.0L429.5 618.8L430.5 610.2L431.5 588.5L444.5 588.2L444.8 586.2L446.8 586.2L447.5 580.0L454.2 580.0L454.5 582.0L455.2 582.0L455.5 580.0L462.0 580.0L463.0 586.2L465.0 586.2L465.2 588.2L472.0 588.2L472.8 590.2L475.8 590.2L476.8 590.8L478.8 587.2L477.8 586.5L479.0 586.2L480.0 580.2L478.8 580.0L480.0 579.8L482.2 528.2L483.2 470.5L482.2 470.0L484.5 469.8L485.2 435.2L491.8 435.0L492.0 436.8L493.0 437.0L493.2 435.2L495.2 435.2L496.2 430.8L495.5 430.5L495.5 430.0L507.5 429.8L508.2 449.8L510.2 449.8L510.5 452.0L513.5 452.0L513.5 450.0L515.8 449.8L517.5 399.8L522.8 400.0L525.5 425.5L526.8 425.8L526.0 426.0L525.8 426.8L530.0 438.5L532.0 446.8L533.0 455.0L536.0 455.2L538.5 539.8L540.5 540.0L540.8 542.0L542.5 542.0L542.8 540.0L544.8 540.0L545.8 527.8L544.8 527.5L545.8 527.2L546.5 440.8L546.8 435.0L550.2 434.8L550.8 397.5L562.0 397.5L564.0 372.8L569.5 372.8L570.0 371.2L574.0 371.0L575.0 364.0L574.0 363.8L575.0 363.5L575.8 347.5L581.0 347.8L582.5 394.5L584.8 438.5L589.0 439.0L590.0 434.5L589.5 434.0L590.2 432.8L591.0 424.8L592.0 420.5L590.5 420.0L592.2 419.8L592.5 409.8L598.5 409.5L598.8 407.8L603.8 407.8L605.2 431.2L606.8 431.5L605.2 432.0L606.5 436.2L607.2 449.8L609.2 450.0L609.5 452.0L613.5 452.0L613.8 452.5L624.5 452.0L624.8 450.0L632.0 450.2L633.2 474.8L635.2 474.8L635.5 477.0L641.0 477.2L641.8 492.2L643.8 492.2L644.0 494.5L645.0 494.5L645.2 492.8L647.2 492.5L648.0 487.5L647.0 487.2L648.2 487.0L649.2 466.0L650.2 455.5L651.2 453.5L650.5 453.0L651.5 452.8L652.5 448.0L651.0 447.2L652.5 447.0L653.2 414.8L659.0 414.8L659.2 417.0L661.0 417.0L661.0 415.0L663.2 414.8L663.5 411.2L668.5 411.2L669.0 412.0L670.8 412.0L671.0 409.8L677.2 409.8L677.8 410.5L679.5 439.8L681.5 439.8L681.8 442.0L683.8 442.0L684.0 440.0L689.0 440.0L689.2 442.0L696.5 441.5L696.8 444.8L698.8 444.8L698.2 447.0L700.8 448.8L702.2 447.2L704.2 447.2L705.0 437.2L710.5 437.2L712.0 514.8L714.0 515.0L713.0 516.8L715.5 518.8L717.0 518.8L717.2 519.5L719.8 519.2L719.2 517.2L721.5 517.0L721.5 515.0L722.0 514.5L723.5 514.5L723.5 512.8L725.8 512.5L727.0 504.0L727.8 502.5L736.8 503.0L737.8 557.2L739.8 557.2L740.0 559.5L742.0 559.5L742.0 557.5L744.2 557.0L745.0 490.8L745.5 482.5L746.0 482.0L751.5 482.0L751.5 480.2L753.8 480.0L754.8 472.8L759.2 472.5L761.2 455.5L763.0 448.5L768.5 448.8L771.0 470.0L772.0 470.8L771.2 471.0L772.2 475.2L774.5 475.2L775.5 476.8L776.2 476.2L775.5 474.8L776.0 474.2L777.5 474.2L780.5 436.0L782.8 428.5L781.8 427.8L783.0 427.5L784.0 420.2L782.8 420.0L784.0 419.8L785.0 367.2L786.2 359.2L786.8 350.2L798.0 349.8L798.5 345.0L807.0 345.2L807.8 379.8L809.8 379.8L810.0 382.0L810.8 382.0L811.0 380.0L813.2 379.8L814.2 371.2L813.5 371.0L814.2 370.8L814.2 369.8L818.5 369.5L818.5 367.5L820.8 367.2L821.0 347.2L823.8 347.0L824.0 345.2L826.0 345.2L827.0 340.0L825.8 339.8L827.2 339.0L828.0 310.8L829.0 310.2L836.0 310.5L837.0 322.5L838.0 349.8L840.0 350.0L839.0 351.8L840.5 353.0L842.2 351.8L844.5 351.5L845.5 340.0L846.5 310.5L853.0 310.2L853.5 310.8L854.2 315.2L855.2 349.8L857.5 350.0L856.8 352.0L859.0 353.8L860.2 352.5L862.8 352.5L865.2 320.8L870.8 320.8L871.2 358.2L873.5 427.5L875.8 427.8L874.2 429.2L876.2 431.2L877.5 431.2L878.0 432.2L880.5 432.2L881.5 432.8L883.2 451.2L885.2 451.2L885.5 453.2L886.2 453.2L886.5 451.8L888.5 451.8L889.5 448.5L888.2 448.0L889.8 447.5L890.5 418.5L891.8 418.2L892.5 415.8L891.5 415.2L893.0 414.5L894.5 382.8L896.5 381.8L899.2 381.8L900.2 378.2L899.0 377.8L900.5 377.5L901.2 366.2L902.2 363.2L900.5 362.5L902.5 362.2L903.5 330.2L905.0 312.2L910.0 312.0L910.0 310.5L912.2 310.2L912.5 309.5L917.5 309.5L919.2 311.2L921.0 309.8L923.0 309.8L923.8 267.0L924.2 262.5L930.2 262.8L930.8 289.8L935.0 289.8L935.5 265.0L942.0 265.0L943.5 280.0L945.0 280.2L945.8 299.8L947.0 300.0L946.0 300.8L947.0 303.0L951.0 302.5L952.2 290.5L952.5 281.5L958.0 281.5L959.8 319.8L961.8 319.8L962.0 322.0L962.8 322.0L963.0 320.0L965.0 320.0L966.0 314.0L964.8 313.8L966.2 313.5L966.2 310.0L972.2 310.0L973.8 341.0L974.8 397.2L979.0 397.2L980.8 350.2L986.2 350.2L987.8 365.0L988.8 479.8L990.8 479.8L991.0 480.2L990.2 481.8L991.8 482.8L993.2 481.0L995.2 481.0L996.5 423.2L997.0 422.0L1002.8 422.0L1002.8 421.0L1004.8 420.8L1005.8 418.8L1004.0 417.8L1006.0 417.5L1007.0 355.0L1008.2 354.8L1011.0 304.0L1016.5 303.8L1017.0 307.5L1018.8 307.8L1017.5 309.0L1019.2 311.0L1021.8 311.0L1022.2 311.8L1025.8 309.5L1025.2 308.5L1026.5 308.2L1027.2 306.2L1027.0 305.5L1028.0 304.2L1033.0 304.2L1034.0 307.5L1035.8 308.0L1036.2 319.8L1038.2 319.8L1038.5 322.0L1042.0 322.2L1042.8 354.8L1044.5 355.0L1043.0 355.5L1044.0 359.5L1045.0 369.5L1046.0 410.2L1047.0 557.2L1049.0 557.2L1049.2 559.5L1051.2 559.5L1051.5 558.2L1057.8 558.5L1059.0 581.0L1061.2 581.2L1061.2 583.2L1064.2 583.5L1064.2 586.0L1066.5 586.2L1065.2 588.0L1066.8 589.8L1068.5 588.5L1070.8 588.5L1071.8 567.5L1073.0 498.5L1073.8 401.5L1074.8 351.5L1075.8 332.8L1086.5 332.8L1088.0 381.5L1089.2 404.0L1091.2 513.8L1092.2 634.8L1094.2 634.8L1094.5 637.0L1096.5 637.0L1096.8 635.2L1098.8 635.2L1099.8 631.0L1098.2 630.2L1099.8 630.0L1100.2 590.0L1100.8 589.5L1105.0 589.5L1105.2 587.5L1107.2 587.5L1107.8 584.5L1112.5 584.5L1112.8 582.5L1114.8 582.2L1115.0 581.2L1121.8 581.2L1122.0 581.8L1121.0 582.5L1121.8 583.8L1124.5 584.0L1125.8 604.8L1127.8 604.8L1128.0 607.0L1129.8 607.0L1130.0 605.0L1132.2 604.8L1134.2 579.5L1135.2 552.5L1138.5 552.2L1138.8 541.2L1143.0 541.0L1144.5 440.0L1153.8 440.0L1154.8 516.0L1156.8 516.0L1157.0 518.2L1162.2 518.2L1162.8 518.8L1163.5 547.2L1165.5 547.2L1165.8 549.5L1167.5 549.5L1167.8 547.2L1169.8 547.2L1171.0 504.2L1171.8 369.5L1172.5 326.5L1173.0 325.0L1178.2 325.0L1178.8 327.0L1180.5 327.0L1180.8 325.0L1182.8 325.0L1183.8 312.0L1184.2 310.8L1189.5 311.0L1190.2 319.8L1192.5 320.0L1192.8 322.0L1194.5 322.0L1194.8 319.8L1196.8 319.8L1197.8 285.8L1198.5 284.8L1198.0 284.2L1199.0 283.8L1199.8 282.0L1199.2 281.2L1200.0 281.0L1201.0 275.8L1199.8 275.5L1201.0 275.2L1202.0 245.8L1207.2 245.5L1207.5 249.8L1212.8 249.8L1213.0 250.2L1214.8 250.5L1213.5 251.2L1214.2 253.2L1215.2 289.8L1217.2 289.8L1217.5 292.0L1223.0 292.2L1223.8 307.2L1225.8 307.2L1226.0 309.5L1226.8 309.5L1227.0 307.5L1229.0 307.5L1230.0 295.2L1230.5 294.8L1234.5 294.8L1234.8 293.5L1239.8 293.5L1240.0 295.0L1241.2 295.2L1240.2 295.8L1241.0 297.5L1242.0 303.2L1243.2 320.0L1245.2 320.0L1245.5 322.0L1249.2 322.2L1250.8 357.2L1252.8 357.2L1253.0 359.5L1255.0 359.5L1255.2 357.2L1261.0 357.5L1261.5 441.0L1263.5 441.0L1263.8 443.2L1265.8 443.2L1265.8 441.2L1268.0 441.0L1269.2 407.2L1271.0 309.2L1273.0 294.2L1273.5 293.5L1278.5 293.5L1278.8 295.0L1280.2 295.2L1279.0 296.0L1280.0 297.5L1281.0 301.2L1282.0 310.0L1285.8 310.0L1286.2 310.8L1286.2 314.8L1288.2 314.8L1288.5 317.0L1289.5 317.2L1290.5 414.5L1292.8 474.8L1294.8 474.8L1295.0 477.0L1295.5 477.0L1296.0 478.0L1297.2 477.5L1300.2 477.5L1300.8 474.8L1311.2 474.8L1311.8 477.5L1313.2 676.8L1315.2 676.8L1315.5 679.0L1317.5 679.0L1317.5 677.0L1319.8 676.5L1320.0 650.2L1322.8 650.0L1322.8 648.0L1325.0 647.8L1325.2 620.2L1328.2 620.0L1328.2 618.0L1330.5 617.8L1330.8 579.2L1334.8 579.0L1334.8 577.0L1337.0 576.5L1337.2 561.2L1346.5 561.2L1346.8 582.8L1351.8 583.0L1352.0 587.2L1354.0 587.2L1354.2 589.5L1356.2 589.8L1357.5 628.8L1359.5 628.8L1359.8 631.0L1360.5 631.0L1360.8 629.0L1362.8 629.0L1364.0 610.8L1364.5 566.2L1369.0 566.0L1369.0 564.0L1371.2 563.8L1371.8 545.0L1373.5 544.8L1374.8 509.8L1375.2 417.2L1385.0 417.0L1385.5 427.2L1387.5 427.2L1387.8 429.5L1388.5 429.5L1388.8 427.5L1390.8 427.5L1392.0 411.5L1393.8 321.0L1396.5 320.8L1397.8 320.0L1407.5 320.2L1408.0 344.8L1413.5 345.0L1414.5 439.8L1416.5 439.8L1416.8 442.0L1419.8 442.2L1420.0 468.5L1422.0 468.5L1422.2 470.8L1423.0 470.8L1423.2 468.5L1425.2 468.5L1426.2 372.5L1427.5 372.2L1427.8 369.8L1433.5 370.0L1433.8 397.5L1435.2 426.8L1437.2 487.2L1439.2 487.2L1439.5 489.5L1440.2 489.5L1440.2 487.5L1442.5 487.2L1443.5 362.8L1450.0 362.5L1450.2 364.5L1451.0 364.5L1451.0 362.5L1453.2 362.2L1453.8 352.2L1458.5 352.0L1458.5 350.0L1460.8 349.8L1461.2 322.2L1466.0 322.0L1466.2 320.0L1473.5 320.0L1474.8 320.5L1475.2 319.5L1480.2 319.5L1480.8 321.2L1481.2 354.5L1482.5 355.0L1483.5 422.2L1485.8 422.2L1487.5 423.5L1488.2 422.5L1487.8 421.2L1488.8 421.0L1490.0 406.2L1491.5 340.0L1497.0 340.0L1498.8 385.2L1500.8 474.8L1502.8 474.8L1503.0 477.0L1503.8 477.0L1504.0 475.0L1509.8 475.2L1510.5 504.8L1512.5 504.8L1512.8 507.0L1514.5 507.0L1514.5 505.2L1516.8 505.0L1518.0 492.8L1516.8 492.5L1518.0 492.2L1518.0 477.2L1523.2 477.0L1523.2 475.2L1525.5 475.0L1527.8 448.5L1528.2 429.5L1528.8 429.0L1534.0 429.2L1535.2 445.0L1535.8 445.2L1535.2 445.5L1536.5 450.5L1538.5 480.8L1539.2 481.0L1538.5 481.2L1539.5 484.5L1540.5 568.2L1540.8 569.8L1543.0 570.0L1543.0 572.0L1543.8 572.0L1544.0 571.0L1545.8 571.0L1546.5 570.0L1545.0 568.8L1547.0 568.5L1549.0 455.2L1550.2 424.8L1551.0 380.0L1556.8 379.8L1557.2 380.2L1557.8 508.5L1559.0 592.2L1561.0 592.2L1561.2 594.5L1563.2 594.8L1563.2 604.8L1565.2 604.8L1565.5 607.0L1566.2 607.0L1566.5 605.8L1568.5 605.8L1569.2 604.0L1568.0 603.2L1569.8 602.8L1570.8 587.5L1575.0 587.2L1575.5 563.8L1581.5 563.5L1581.8 565.8L1583.2 566.0L1583.8 609.8L1585.8 609.8L1586.0 612.0L1588.0 612.2L1588.0 616.0L1592.5 616.2L1593.5 644.8L1594.0 645.0L1593.5 645.2L1595.5 674.8L1597.5 675.0L1597.8 677.0L1598.8 677.0L1598.8 675.0L1601.0 674.8L1601.2 672.0L1604.0 672.0L1604.2 670.0L1606.2 670.0L1608.2 646.0L1608.8 644.8L1611.8 644.8L1612.8 605.5L1618.0 605.8L1618.2 614.8L1620.2 615.0L1619.0 616.5L1620.8 618.5L1621.2 618.0L1626.5 618.2L1628.0 669.8L1630.0 669.8L1630.2 672.0L1631.0 672.0L1631.2 670.0L1633.2 670.0L1634.2 663.8L1633.5 663.5L1634.2 663.2L1636.5 616.5L1643.8 616.2L1644.5 617.5L1647.8 617.8L1648.2 617.2L1647.2 615.5L1649.5 615.2L1650.5 587.5L1655.8 587.2L1656.5 589.2L1658.5 588.8L1658.8 588.0L1658.2 587.0L1660.2 586.8L1661.2 582.2L1660.2 582.0L1661.2 581.8L1661.8 575.0L1667.0 574.8L1667.8 616.0L1669.8 616.0L1670.0 618.2L1671.0 618.0L1671.2 616.5L1678.2 616.8L1679.8 645.0L1680.8 652.5L1682.5 653.0L1684.0 699.8L1686.0 699.8L1686.2 702.0L1690.0 702.0L1690.5 706.0L1692.5 706.0L1692.8 708.2L1693.5 708.2L1693.5 706.5L1695.8 706.2L1696.8 701.2L1696.8 700.8L1696.0 700.5L1696.8 700.2L1697.5 686.2L1702.0 686.0ZM242.2 671.5L248.0 671.2L248.2 671.8L243.0 672.0ZM1474.5 317.8L1480.2 317.5L1480.5 318.0L1475.2 318.2ZM912.5 308.8L913.0 307.8L918.8 308.0L917.8 309.0Z" fill="url(#sg)" fill-rule="evenodd"/>
<g fill="none" stroke-width="4.45" stroke-linecap="butt">
<path d="M213 672.5L214.08 672.11" stroke="#4a83ff"/>
<path d="M214.08 672.11L215.16 667.5" stroke="#4b83ff"/>
<path d="M215.16 667.5L216.23 680" stroke="#4d83ff"/>
<path d="M216.23 680L217.31 682.53" stroke="#4784ff"/>
<path d="M217.31 682.53L218.39 686.25" stroke="#4684ff"/>
<path d="M218.39 686.25L219.47 686.25" stroke="#4484ff"/>
<path d="M219.47 686.25L220.54 686.25" stroke="#4484ff"/>
<path d="M220.54 686.25L221.62 657.5" stroke="#4484ff"/>
<path d="M221.62 657.5L222.7 657.5" stroke="#5282ff"/>
<path d="M222.7 657.5L223.78 657.5" stroke="#5282ff"/>
<path d="M223.78 657.5L224.85 657.5" stroke="#5282ff"/>
<path d="M224.85 657.5L225.93 665.66" stroke="#5282ff"/>
<path d="M225.93 665.66L227.01 675" stroke="#4e83ff"/>
<path d="M227.01 675L228.09 675" stroke="#4983ff"/>
<path d="M228.09 675L229.17 675" stroke="#4983ff"/>
<path d="M229.17 675L230.24 657.5" stroke="#4983ff"/>
<path d="M230.24 657.5L231.32 657.5" stroke="#5282ff"/>
<path d="M231.32 657.5L232.4 657.5" stroke="#5282ff"/>
<path d="M232.4 657.5L233.48 657.5" stroke="#5282ff"/>
<path d="M233.48 657.5L234.55 640" stroke="#5282ff"/>
<path d="M234.55 640L235.63 640" stroke="#5a81ff"/>
<path d="M235.63 640L236.71 640" stroke="#5a81ff"/>
<path d="M236.71 640L237.79 640" stroke="#5a81ff"/>
<path d="M237.79 640L238.86 643.21" stroke="#5a81ff"/>
<path d="M238.86 643.21L239.94 675" stroke="#5881ff"/>
<path d="M239.94 675L241.02 675" stroke="#4983ff"/>
<path d="M241.02 675L242.1 671.57" stroke="#4983ff"/>
<path d="M242.1 671.57L243.18 640" stroke="#4b83ff"/>
<path d="M243.18 640L244.25 640" stroke="#5a81ff"/>
<path d="M244.25 640L245.33 640" stroke="#5a81ff"/>
<path d="M245.33 640L246.41 642.22" stroke="#5a81ff"/>
<path d="M246.41 642.22L247.49 657.5" stroke="#5981ff"/>
<path d="M247.49 657.5L248.56 657.5" stroke="#5282ff"/>
<path d="M248.56 657.5L249.64 657.5" stroke="#5282ff"/>
<path d="M249.64 657.5L250.72 675" stroke="#5282ff"/>
<path d="M250.72 675L251.8 679.69" stroke="#4983ff"/>
<path d="M251.8 679.69L252.87 690" stroke="#4784ff"/>
<path d="M252.87 690L253.95 693.81" stroke="#4285ff"/>
<path d="M253.95 693.81L255.03 700" stroke="#4085ff"/>
<path d="M255.03 700L256.11 700" stroke="#3d85ff"/>
<path d="M256.11 700L257.19 700" stroke="#3d85ff"/>
<path d="M257.19 700L258.26 692.37" stroke="#3d85ff"/>
<path d="M258.26 692.37L259.34 682.73" stroke="#4185ff"/>
<path d="M259.34 682.73L260.42 675" stroke="#4684ff"/>
<path d="M260.42 675L261.5 666.28" stroke="#4983ff"/>
<path d="M261.5 666.28L262.57 657.5" stroke="#4d83ff"/>
<path d="M262.57 657.5L263.65 657.5" stroke="#5282ff"/>
<path d="M263.65 657.5L264.73 661.52" stroke="#5282ff"/>
<path d="M264.73 661.52L265.81 675" stroke="#5082ff"/>
<path d="M265.81 675L266.88 675" stroke="#4983ff"/>
<path d="M266.88 675L267.96 675" stroke="#4983ff"/>
<path d="M267.96 675L269.04 657.5" stroke="#4983ff"/>
<path d="M269.04 657.5L270.12 657.5" stroke="#5282ff"/>
<path d="M270.12 657.5L271.2 657.5" stroke="#5282ff"/>
<path d="M271.2 657.5L272.27 670" stroke="#5282ff"/>
<path d="M272.27 670L273.35 670" stroke="#4c83ff"/>
<path d="M273.35 670L274.43 627.5" stroke="#4c83ff"/>
<path d="M274.43 627.5L275.51 627.5" stroke="#6080ff"/>
<path d="M275.51 627.5L276.58 619.14" stroke="#6080ff"/>
<path d="M276.58 619.14L277.66 596.25" stroke="#647fff"/>
<path d="M277.66 596.25L278.74 596.25" stroke="#6f7dff"/>
<path d="M278.74 596.25L279.82 596.25" stroke="#6f7dff"/>
<path d="M279.82 596.25L280.9 609.42" stroke="#6f7dff"/>
<path d="M280.9 609.42L281.97 646.25" stroke="#697eff"/>
<path d="M281.97 646.25L283.05 646.25" stroke="#5781ff"/>
<path d="M283.05 646.25L284.13 646.25" stroke="#5781ff"/>
<path d="M284.13 646.25L285.21 646.25" stroke="#5781ff"/>
<path d="M285.21 646.25L286.28 644.91" stroke="#5781ff"/>
<path d="M286.28 644.91L287.36 596.25" stroke="#5881ff"/>
<path d="M287.36 596.25L288.44 596.25" stroke="#6f7dff"/>
<path d="M288.44 596.25L289.52 616.25" stroke="#657fff"/>
<path d="M289.52 616.25L290.59 538.75" stroke="#657fff"/>
<path d="M290.59 538.75L291.67 538.75" stroke="#8771fd"/>
<path d="M291.67 538.75L292.75 538.75" stroke="#8771fd"/>
<path d="M292.75 538.75L293.83 540.58" stroke="#8771fd"/>
<path d="M293.83 540.58L294.91 565.98" stroke="#8672fd"/>
<path d="M294.91 565.98L295.98 580" stroke="#7d79ff"/>
<path d="M295.98 580L297.06 580" stroke="#777cff"/>
<path d="M297.06 580L298.14 571.82" stroke="#777cff"/>
<path d="M298.14 571.82L299.22 491.25" stroke="#7b7bff"/>
<path d="M299.22 491.25L300.29 491.25" stroke="#9862fa"/>
<path d="M300.29 491.25L301.37 491.25" stroke="#9862fa"/>
<path d="M301.37 491.25L302.45 491.25" stroke="#9862fa"/>
<path d="M302.45 491.25L303.53 538.75" stroke="#9862fa"/>
<path d="M303.53 538.75L304.6 538.75" stroke="#8771fd"/>
<path d="M304.6 538.75L305.68 538.75" stroke="#8771fd"/>
<path d="M305.68 538.75L306.76 538.75" stroke="#8771fd"/>
<path d="M306.76 538.75L307.84 556.25" stroke="#8771fd"/>
<path d="M307.84 556.25L308.92 556.25" stroke="#8076fe"/>
<path d="M308.92 556.25L309.99 556.25" stroke="#8076fe"/>
<path d="M309.99 556.25L311.07 491.25" stroke="#8076fe"/>
<path d="M311.07 491.25L312.15 491.25" stroke="#9862fa"/>
<path d="M312.15 491.25L313.23 491.25" stroke="#9862fa"/>
<path d="M313.23 491.25L314.3 491.25" stroke="#9862fa"/>
<path d="M314.3 491.25L315.38 461.25" stroke="#9862fa"/>
<path d="M315.38 461.25L316.46 461.25" stroke="#a359f8"/>
<path d="M316.46 461.25L317.54 461.25" stroke="#a359f8"/>
<path d="M317.54 461.25L318.61 461.25" stroke="#a359f8"/>
<path d="M318.61 461.25L319.69 470" stroke="#a359f8"/>
<path d="M319.69 470L320.77 482.22" stroke="#a05cf8"/>
<path d="M320.77 482.22L321.85 505.43" stroke="#9b60f9"/>
<path d="M321.85 505.43L322.93 533.51" stroke="#9367fb"/>
<path d="M322.93 533.51L324 557.5" stroke="#896ffd"/>
<path d="M324 557.5L325.08 560.82" stroke="#8077fe"/>
<path d="M325.08 560.82L326.16 567.5" stroke="#7f78fe"/>
<path d="M326.16 567.5L327.24 567.5" stroke="#7c7aff"/>
<path d="M327.24 567.5L328.31 569.85" stroke="#7c7aff"/>
<path d="M328.31 569.85L329.39 575" stroke="#7b7bff"/>
<path d="M329.39 575L330.47 575" stroke="#797bff"/>
<path d="M330.47 575L331.55 577.38" stroke="#797bff"/>
<path d="M331.55 577.38L332.62 585.25" stroke="#787cff"/>
<path d="M332.62 585.25L333.7 587.4" stroke="#747cff"/>
<path d="M333.7 587.4L334.78 590" stroke="#737cff"/>
<path d="M334.78 590L335.86 605.01" stroke="#727dff"/>
<path d="M335.86 605.01L336.94 616.25" stroke="#6b7eff"/>
<path d="M336.94 616.25L338.01 616.25" stroke="#657fff"/>
<path d="M338.01 616.25L339.09 616.25" stroke="#657fff"/>
<path d="M339.09 616.25L340.17 616.25" stroke="#657fff"/>
<path d="M340.17 616.25L341.25 616.25" stroke="#657fff"/>
<path d="M341.25 616.25L342.32 616.25" stroke="#657fff"/>
<path d="M342.32 616.25L343.4 616.25" stroke="#657fff"/>
<path d="M343.4 616.25L344.48 616.25" stroke="#657fff"/>
<path d="M344.48 616.25L345.56 575" stroke="#657fff"/>
<path d="M345.56 575L346.63 575" stroke="#797bff"/>
<path d="M346.63 575L347.71 567.3" stroke="#797bff"/>
<path d="M347.71 567.3L348.79 538.75" stroke="#7c7aff"/>
<path d="M348.79 538.75L349.87 538.75" stroke="#8771fd"/>
<path d="M349.87 538.75L350.95 554.9" stroke="#8771fd"/>
<path d="M350.95 554.9L352.02 616.25" stroke="#8176fe"/>
<path d="M352.02 616.25L353.1 616.25" stroke="#657fff"/>
<path d="M353.1 616.25L354.18 616.25" stroke="#657fff"/>
<path d="M354.18 616.25L355.26 580" stroke="#657fff"/>
<path d="M355.26 580L356.33 580" stroke="#777cff"/>
<path d="M356.33 580L357.41 587.21" stroke="#777cff"/>
<path d="M357.41 587.21L358.49 597.5" stroke="#737cff"/>
<path d="M358.49 597.5L359.57 597.5" stroke="#6e7dff"/>
<path d="M359.57 597.5L360.64 616.25" stroke="#6e7dff"/>
<path d="M360.64 616.25L361.72 616.25" stroke="#657fff"/>
<path d="M361.72 616.25L362.8 616.25" stroke="#657fff"/>
<path d="M362.8 616.25L363.88 616.51" stroke="#657fff"/>
<path d="M363.88 616.51L364.96 618.75" stroke="#657fff"/>
<path d="M364.96 618.75L366.03 609.06" stroke="#647fff"/>
<path d="M366.03 609.06L367.11 600" stroke="#697eff"/>
<path d="M367.11 600L368.19 600" stroke="#6d7dff"/>
<path d="M368.19 600L369.27 600" stroke="#6d7dff"/>
<path d="M369.27 600L370.34 596.84" stroke="#6d7dff"/>
<path d="M370.34 596.84L371.42 586.25" stroke="#6f7dff"/>
<path d="M371.42 586.25L372.5 586.25" stroke="#747cff"/>
<path d="M372.5 586.25L373.58 586.25" stroke="#747cff"/>
<path d="M373.58 586.25L374.66 586.25" stroke="#747cff"/>
<path d="M374.66 586.25L375.73 592.97" stroke="#747cff"/>
<path d="M375.73 592.97L376.81 600" stroke="#707dff"/>
<path d="M376.81 600L377.89 600" stroke="#6d7dff"/>
<path d="M377.89 600L378.97 603.24" stroke="#6d7dff"/>
<path d="M378.97 603.24L380.04 618.75" stroke="#647fff"/>
<path d="M380.04 618.75L381.12 616.25" stroke="#647fff"/>
<path d="M381.12 616.25L382.2 607.51" stroke="#657fff"/>
<path d="M382.2 607.51L383.28 597.5" stroke="#6a7eff"/>
<path d="M383.28 597.5L384.35 597.5" stroke="#6e7dff"/>
<path d="M384.35 597.5L385.43 597.5" stroke="#6e7dff"/>
<path d="M385.43 597.5L386.51 601.4" stroke="#6e7dff"/>
<path d="M386.51 601.4L387.59 616.25" stroke="#657fff"/>
<path d="M387.59 616.25L388.67 608.24" stroke="#657fff"/>
<path d="M388.67 608.24L389.74 602.5" stroke="#697eff"/>
<path d="M389.74 602.5L390.82 602.5" stroke="#6c7eff"/>
<path d="M390.82 602.5L391.9 609.63" stroke="#6c7eff"/>
<path d="M391.9 609.63L392.98 616.25" stroke="#697eff"/>
<path d="M392.98 616.25L394.05 616.25" stroke="#657fff"/>
<path d="M394.05 616.25L395.13 616.25" stroke="#657fff"/>
<path d="M395.13 616.25L396.21 555" stroke="#657fff"/>
<path d="M396.21 555L397.29 538.75" stroke="#8176fe"/>
<path d="M397.29 538.75L398.36 538.75" stroke="#8771fd"/>
<path d="M398.36 538.75L399.44 538.75" stroke="#8771fd"/>
<path d="M399.44 538.75L400.52 538.75" stroke="#8771fd"/>
<path d="M400.52 538.75L401.6 538.75" stroke="#8771fd"/>
<path d="M401.6 538.75L402.68 538.75" stroke="#8771fd"/>
<path d="M402.68 538.75L403.75 538.69" stroke="#8771fd"/>
<path d="M403.75 538.69L404.83 517.14" stroke="#8771fd"/>
<path d="M404.83 517.14L405.91 503.75" stroke="#8f6afb"/>
<path d="M405.91 503.75L406.99 503.75" stroke="#9466fb"/>
<path d="M406.99 503.75L408.06 503.75" stroke="#9466fb"/>
<path d="M408.06 503.75L409.14 514.71" stroke="#9466fb"/>
<path d="M409.14 514.71L410.22 560" stroke="#906afb"/>
<path d="M410.22 560L411.3 570.94" stroke="#7f78fe"/>
<path d="M411.3 570.94L412.37 590.62" stroke="#7b7bff"/>
<path d="M412.37 590.62L413.45 603.01" stroke="#727dff"/>
<path d="M413.45 603.01L414.53 610" stroke="#6c7eff"/>
<path d="M414.53 610L415.61 610" stroke="#687eff"/>
<path d="M415.61 610L416.69 610" stroke="#687eff"/>
<path d="M416.69 610L417.76 611.64" stroke="#687eff"/>
<path d="M417.76 611.64L418.84 616.25" stroke="#687eff"/>
<path d="M418.84 616.25L419.92 616.25" stroke="#657fff"/>
<path d="M419.92 616.25L421 597.5" stroke="#657fff"/>
<path d="M421 597.5L422.07 597.5" stroke="#6e7dff"/>
<path d="M422.07 597.5L423.15 602.93" stroke="#6e7dff"/>
<path d="M423.15 602.93L424.23 610" stroke="#6c7eff"/>
<path d="M424.23 610L425.31 610" stroke="#687eff"/>
<path d="M425.31 610L426.38 615.16" stroke="#687eff"/>
<path d="M426.38 615.16L427.46 618.75" stroke="#667fff"/>
<path d="M427.46 618.75L428.54 609" stroke="#647fff"/>
<path d="M428.54 609L429.62 585" stroke="#697eff"/>
<path d="M429.62 585L430.7 585" stroke="#747cff"/>
<path d="M430.7 585L431.77 567.5" stroke="#747cff"/>
<path d="M431.77 567.5L432.85 567.5" stroke="#7c7aff"/>
<path d="M432.85 567.5L433.93 567.5" stroke="#7c7aff"/>
<path d="M433.93 567.5L435.01 567.58" stroke="#7c7aff"/>
<path d="M435.01 567.58L436.08 586.25" stroke="#7c7aff"/>
<path d="M436.08 586.25L437.16 586.25" stroke="#747cff"/>
<path d="M437.16 586.25L438.24 586.25" stroke="#747cff"/>
<path d="M438.24 586.25L439.32 577.74" stroke="#747cff"/>
<path d="M439.32 577.74L440.39 567.5" stroke="#787cff"/>
<path d="M440.39 567.5L441.47 567.5" stroke="#7c7aff"/>
<path d="M441.47 567.5L442.55 586.25" stroke="#7c7aff"/>
<path d="M442.55 586.25L443.63 586.25" stroke="#747cff"/>
<path d="M443.63 586.25L444.71 586.25" stroke="#747cff"/>
<path d="M444.71 586.25L445.78 575" stroke="#747cff"/>
<path d="M445.78 575L446.86 563.52" stroke="#797bff"/>
<path d="M446.86 563.52L447.94 555" stroke="#7e79ff"/>
<path d="M447.94 555L449.02 555" stroke="#8176fe"/>
<path d="M449.02 555L450.09 555" stroke="#8176fe"/>
<path d="M450.09 555L451.17 567.5" stroke="#8176fe"/>
<path d="M451.17 567.5L452.25 567.5" stroke="#7c7aff"/>
<path d="M452.25 567.5L453.33 571.59" stroke="#7c7aff"/>
<path d="M453.33 571.59L454.4 580" stroke="#7b7bff"/>
<path d="M454.4 580L455.48 580" stroke="#777cff"/>
<path d="M455.48 580L456.56 567.5" stroke="#777cff"/>
<path d="M456.56 567.5L457.64 567.5" stroke="#7c7aff"/>
<path d="M457.64 567.5L458.72 567.5" stroke="#7c7aff"/>
<path d="M458.72 567.5L459.79 575" stroke="#797bff"/>
<path d="M459.79 575L460.87 571.73" stroke="#797bff"/>
<path d="M460.87 571.73L461.95 567.5" stroke="#7b7bff"/>
<path d="M461.95 567.5L463.03 571.9" stroke="#7c7aff"/>
<path d="M463.03 571.9L464.1 578.19" stroke="#7b7bff"/>
<path d="M464.1 578.19L465.18 586.25" stroke="#787cff"/>
<path d="M465.18 586.25L466.26 586.25" stroke="#747cff"/>
<path d="M466.26 586.25L467.34 586.25" stroke="#747cff"/>
<path d="M467.34 586.25L468.41 586.25" stroke="#747cff"/>
<path d="M468.41 586.25L469.49 567.5" stroke="#747cff"/>
<path d="M469.49 567.5L470.57 567.5" stroke="#7c7aff"/>
<path d="M470.57 567.5L471.65 567.5" stroke="#7c7aff"/>
<path d="M471.65 567.5L472.73 570.32" stroke="#7c7aff"/>
<path d="M472.73 570.32L473.8 586.25" stroke="#7b7bff"/>
<path d="M473.8 586.25L474.88 590" stroke="#747cff"/>
<path d="M474.88 590L475.96 588.2" stroke="#727dff"/>
<path d="M475.96 588.2L477.04 586.1" stroke="#737cff"/>
<path d="M477.04 586.1L478.11 580" stroke="#747cff"/>
<path d="M478.11 580L479.19 555" stroke="#777cff"/>
<path d="M479.19 555L480.27 525" stroke="#8176fe"/>
<path d="M480.27 525L481.35 470.5" stroke="#8c6dfc"/>
<path d="M481.35 470.5L482.43 470" stroke="#a05cf8"/>
<path d="M482.43 470L483.5 430" stroke="#a05cf8"/>
<path d="M483.5 430L484.58 430" stroke="#ae53f1"/>
<path d="M484.58 430L485.66 430" stroke="#ae53f1"/>
<path d="M485.66 430L486.74 430" stroke="#ae53f1"/>
<path d="M486.74 430L487.81 428.95" stroke="#ae53f1"/>
<path d="M487.81 428.95L488.89 425" stroke="#ae53f1"/>
<path d="M488.89 425L489.97 425" stroke="#af53f0"/>
<path d="M489.97 425L491.05 425" stroke="#af53f0"/>
<path d="M491.05 425L492.12 435" stroke="#af53f0"/>
<path d="M492.12 435L493.2 435" stroke="#ac54f3"/>
<path d="M493.2 435L494.28 430.11" stroke="#ac54f3"/>
<path d="M494.28 430.11L495.36 416.31" stroke="#ae53f1"/>
<path d="M495.36 416.31L496.44 412.5" stroke="#b252ed"/>
<path d="M496.44 412.5L497.51 379.98" stroke="#b452ec"/>
<path d="M497.51 379.98L498.59 378.64" stroke="#be4fe1"/>
<path d="M498.59 378.64L499.67 377.5" stroke="#bf4fe1"/>
<path d="M499.67 377.5L500.75 382.17" stroke="#bf4fe1"/>
<path d="M500.75 382.17L501.82 399.56" stroke="#bd4fe2"/>
<path d="M501.82 399.56L502.9 430" stroke="#ae53f1"/>
<path d="M502.9 430L503.98 385" stroke="#bc4fe3"/>
<path d="M503.98 385L505.06 390.38" stroke="#bc4fe3"/>
<path d="M505.06 390.38L506.13 400" stroke="#b851e8"/>
<path d="M506.13 400L507.21 397.63" stroke="#b851e8"/>
<path d="M507.21 397.63L508.29 395" stroke="#b850e7"/>
<path d="M508.29 395L509.37 407.5" stroke="#b950e6"/>
<path d="M509.37 407.5L510.45 450" stroke="#b551ea"/>
<path d="M510.45 450L511.52 450" stroke="#a756f7"/>
<path d="M511.52 450L512.6 450" stroke="#a756f7"/>
<path d="M512.6 450L513.68 450" stroke="#a756f7"/>
<path d="M513.68 450L514.76 425" stroke="#a756f7"/>
<path d="M514.76 425L515.83 375" stroke="#af53f0"/>
<path d="M515.83 375L516.91 373.48" stroke="#c04ee0"/>
<path d="M516.91 373.48L517.99 372.5" stroke="#c04edf"/>
<path d="M517.99 372.5L519.07 375.45" stroke="#c14edf"/>
<path d="M519.07 375.45L520.14 385" stroke="#c04fe0"/>
<path d="M520.14 385L521.22 385" stroke="#bc4fe3"/>
<path d="M521.22 385L522.3 385" stroke="#bc4fe3"/>
<path d="M522.3 385L523.38 387.93" stroke="#bc4fe3"/>
<path d="M523.38 387.93L524.46 395.31" stroke="#bc50e4"/>
<path d="M524.46 395.31L525.53 407.79" stroke="#b950e6"/>
<path d="M525.53 407.79L526.61 417.22" stroke="#b551ea"/>
<path d="M526.61 417.22L527.69 425.47" stroke="#b252ed"/>
<path d="M527.69 425.47L528.77 428.17" stroke="#af53f0"/>
<path d="M528.77 428.17L529.84 431.07" stroke="#ae53f1"/>
<path d="M529.84 431.07L530.92 434.44" stroke="#ae53f2"/>
<path d="M530.92 434.44L532 437.81" stroke="#ac54f3"/>
<path d="M532 437.81L533.08 442.5" stroke="#ab54f4"/>
<path d="M533.08 442.5L534.15 446.59" stroke="#aa55f5"/>
<path d="M534.15 446.59L535.23 455" stroke="#a557f7"/>
<path d="M535.23 455L536.31 449.94" stroke="#a557f7"/>
<path d="M536.31 449.94L537.39 442.5" stroke="#aa55f5"/>
<path d="M537.39 442.5L538.47 460" stroke="#aa55f5"/>
<path d="M538.47 460L539.54 500" stroke="#a459f8"/>
<path d="M539.54 500L540.62 540" stroke="#9565fa"/>
<path d="M540.62 540L541.7 540" stroke="#8671fd"/>
<path d="M541.7 540L542.78 540" stroke="#8671fd"/>
<path d="M542.78 540L543.85 527.53" stroke="#8671fd"/>
<path d="M543.85 527.53L544.93 410" stroke="#8b6efc"/>
<path d="M544.93 410L546.01 407.48" stroke="#b452eb"/>
<path d="M546.01 407.48L547.09 405" stroke="#b551ea"/>
<path d="M547.09 405L548.16 435" stroke="#ac54f3"/>
<path d="M548.16 435L549.24 359.47" stroke="#ac54f3"/>
<path d="M549.24 359.47L550.32 346" stroke="#c54ddb"/>
<path d="M550.32 346L551.4 337.5" stroke="#c94cd7"/>
<path d="M551.4 337.5L552.48 337.5" stroke="#cc4bd4"/>
<path d="M552.48 337.5L553.55 338.7" stroke="#cc4bd4"/>
<path d="M553.55 338.7L554.63 364.91" stroke="#cc4bd4"/>
<path d="M554.63 364.91L555.71 397.5" stroke="#b850e7"/>
<path d="M555.71 397.5L556.79 360" stroke="#b850e7"/>
<path d="M556.79 360L557.86 360" stroke="#c54ddb"/>
<path d="M557.86 360L558.94 360" stroke="#c54ddb"/>
<path d="M558.94 360L560.02 397.5" stroke="#b850e7"/>
<path d="M560.02 397.5L561.1 386.55" stroke="#b850e7"/>
<path d="M561.1 386.55L562.17 369.42" stroke="#bc50e4"/>
<path d="M562.17 369.42L563.25 365" stroke="#c24ede"/>
<path d="M563.25 365L564.33 365" stroke="#c34edd"/>
<path d="M564.33 365L565.41 365" stroke="#c34edd"/>
<path d="M565.41 365L566.49 366.41" stroke="#c34edd"/>
<path d="M566.49 366.41L567.56 372.5" stroke="#c14edf"/>
<path d="M567.56 372.5L568.64 366.79" stroke="#c14edf"/>
<path d="M568.64 366.79L569.72 360" stroke="#c54ddb"/>
<path d="M569.72 360L570.8 364.78" stroke="#c54ddb"/>
<path d="M570.8 364.78L571.87 371.24" stroke="#c14edf"/>
<path d="M571.87 371.24L572.95 363.7" stroke="#c14edf"/>
<path d="M572.95 363.7L574.03 337.5" stroke="#c34ddc"/>
<path d="M574.03 337.5L575.11 337.5" stroke="#cc4bd4"/>
<path d="M575.11 337.5L576.18 337.5" stroke="#cc4bd4"/>
<path d="M576.18 337.5L577.26 337.5" stroke="#cc4bd4"/>
<path d="M577.26 337.5L578.34 334.7" stroke="#cc4bd4"/>
<path d="M578.34 334.7L579.42 332.33" stroke="#cd4bd3"/>
<path d="M579.42 332.33L580.5 331.88" stroke="#ce4bd2"/>
<path d="M580.5 331.88L581.57 331.25" stroke="#ce4bd2"/>
<path d="M581.57 331.25L582.65 339.39" stroke="#ce4bd2"/>
<path d="M582.65 339.39L583.73 359.44" stroke="#cb4bd5"/>
<path d="M583.73 359.44L584.81 393.93" stroke="#c54ddb"/>
<path d="M584.81 393.93L585.88 413.45" stroke="#ba50e6"/>
<path d="M585.88 413.45L586.96 438.75" stroke="#ab54f4"/>
<path d="M586.96 438.75L588.04 433.8" stroke="#ab54f4"/>
<path d="M588.04 433.8L589.12 424.61" stroke="#ad54f2"/>
<path d="M589.12 424.61L590.2 420" stroke="#b053f0"/>
<path d="M590.2 420L591.27 390" stroke="#b152ee"/>
<path d="M591.27 390L592.35 361.25" stroke="#bb50e5"/>
<path d="M592.35 361.25L593.43 360.86" stroke="#c44ddb"/>
<path d="M593.43 360.86L594.51 360.41" stroke="#c44ddb"/>
<path d="M594.51 360.41L595.58 362.64" stroke="#c44ddb"/>
<path d="M595.58 362.64L596.66 407.5" stroke="#c44ddc"/>
<path d="M596.66 407.5L597.74 407.5" stroke="#b551ea"/>
<path d="M597.74 407.5L598.82 407.5" stroke="#b551ea"/>
<path d="M598.82 407.5L599.89 388.77" stroke="#b551ea"/>
<path d="M599.89 388.77L600.97 360" stroke="#bb50e4"/>
<path d="M600.97 360L602.05 360" stroke="#c54ddb"/>
<path d="M602.05 360L603.13 360" stroke="#c54ddb"/>
<path d="M603.13 360L604.21 368.19" stroke="#c54ddb"/>
<path d="M604.21 368.19L605.28 388.86" stroke="#c24ede"/>
<path d="M605.28 388.86L606.36 414.01" stroke="#bb50e4"/>
<path d="M606.36 414.01L607.44 431.46" stroke="#b352ec"/>
<path d="M607.44 431.46L608.52 435.16" stroke="#ad54f2"/>
<path d="M608.52 435.16L609.59 450" stroke="#ac54f3"/>
<path d="M609.59 450L610.67 450" stroke="#a756f7"/>
<path d="M610.67 450L611.75 450" stroke="#a756f7"/>
<path d="M611.75 450L612.83 420" stroke="#b152ee"/>
<path d="M612.83 420L613.9 432.06" stroke="#b152ee"/>
<path d="M613.9 432.06L614.98 444.02" stroke="#ad54f2"/>
<path d="M614.98 444.02L616.06 452.5" stroke="#a656f7"/>
<path d="M616.06 452.5L617.14 440" stroke="#a656f7"/>
<path d="M617.14 440L618.22 436.42" stroke="#ab54f4"/>
<path d="M618.22 436.42L619.29 432.5" stroke="#ac54f3"/>
<path d="M619.29 432.5L620.37 442.5" stroke="#ad54f2"/>
<path d="M620.37 442.5L621.45 447.24" stroke="#aa55f5"/>
<path d="M621.45 447.24L622.53 450" stroke="#a855f7"/>
<path d="M622.53 450L623.6 450" stroke="#a756f7"/>
<path d="M623.6 450L624.68 450" stroke="#a756f7"/>
<path d="M624.68 450L625.76 441.14" stroke="#a756f7"/>
<path d="M625.76 441.14L626.84 432.5" stroke="#aa54f5"/>
<path d="M626.84 432.5L627.91 432.5" stroke="#ad54f2"/>
<path d="M627.91 432.5L628.99 432.5" stroke="#ad54f2"/>
<path d="M628.99 432.5L630.07 429.83" stroke="#ad54f2"/>
<path d="M630.07 429.83L631.15 427.35" stroke="#ae53f1"/>
<path d="M631.15 427.35L632.23 426.27" stroke="#af53f0"/>
<path d="M632.23 426.27L633.3 425" stroke="#af53f0"/>
<path d="M633.3 425L634.38 454.36" stroke="#af53f0"/>
<path d="M634.38 454.36L635.46 475" stroke="#a657f7"/>
<path d="M635.46 475L636.54 475" stroke="#9e5df9"/>
<path d="M636.54 475L637.61 471.59" stroke="#9e5df9"/>
<path d="M637.61 471.59L638.69 445" stroke="#a955f6"/>
<path d="M638.69 445L639.77 446.59" stroke="#a955f6"/>
<path d="M639.77 446.59L640.85 450.54" stroke="#a855f7"/>
<path d="M640.85 450.54L641.92 459.97" stroke="#a756f7"/>
<path d="M641.92 459.97L643 471.91" stroke="#a459f8"/>
<path d="M643 471.91L644.08 492.5" stroke="#9f5cf9"/>
<path d="M644.08 492.5L645.16 492.5" stroke="#9863fa"/>
<path d="M645.16 492.5L646.24 487.2" stroke="#9863fa"/>
<path d="M646.24 487.2L647.31 466.87" stroke="#9a61fa"/>
<path d="M647.31 466.87L648.39 455" stroke="#a15bf8"/>
<path d="M648.39 455L649.47 452.58" stroke="#a557f7"/>
<path d="M649.47 452.58L650.55 447.23" stroke="#a656f7"/>
<path d="M650.55 447.23L651.62 385.51" stroke="#a855f7"/>
<path d="M651.62 385.51L652.7 353.62" stroke="#bc4fe3"/>
<path d="M652.7 353.62L653.78 352.95" stroke="#c74dd9"/>
<path d="M653.78 352.95L654.86 353.84" stroke="#c74cd9"/>
<path d="M654.86 353.84L655.93 357.88" stroke="#c74dd9"/>
<path d="M655.93 357.88L657.01 371.96" stroke="#c54dda"/>
<path d="M657.01 371.96L658.09 396.2" stroke="#c14edf"/>
<path d="M658.09 396.2L659.17 415" stroke="#b950e7"/>
<path d="M659.17 415L660.25 415" stroke="#b352ed"/>
<path d="M660.25 415L661.32 415" stroke="#b352ed"/>
<path d="M661.32 415L662.4 367.5" stroke="#b352ed"/>
<path d="M662.4 367.5L663.48 364.56" stroke="#c24edd"/>
<path d="M663.48 364.56L664.56 360" stroke="#c34edd"/>
<path d="M664.56 360L665.63 360" stroke="#c54ddb"/>
<path d="M665.63 360L666.71 360" stroke="#c54ddb"/>
<path d="M666.71 360L667.79 374.47" stroke="#c54ddb"/>
<path d="M667.79 374.47L668.87 410" stroke="#c04ee0"/>
<path d="M668.87 410L669.94 410" stroke="#b452eb"/>
<path d="M669.94 410L671.02 410" stroke="#b452eb"/>
<path d="M671.02 410L672.1 389.99" stroke="#b452eb"/>
<path d="M672.1 389.99L673.18 360" stroke="#bb50e5"/>
<path d="M673.18 360L674.26 360" stroke="#c54ddb"/>
<path d="M674.26 360L675.33 360" stroke="#c54ddb"/>
<path d="M675.33 360L676.41 375.18" stroke="#c54ddb"/>
<path d="M676.41 375.18L677.49 389.89" stroke="#c04ee0"/>
<path d="M677.49 389.89L678.57 400.33" stroke="#bb50e5"/>
<path d="M678.57 400.33L679.64 407.5" stroke="#b851e8"/>
<path d="M679.64 407.5L680.72 423.14" stroke="#b551ea"/>
<path d="M680.72 423.14L681.8 440" stroke="#b053ef"/>
<path d="M681.8 440L682.88 440" stroke="#ab54f4"/>
<path d="M682.88 440L683.95 440" stroke="#ab54f4"/>
<path d="M683.95 440L685.03 410" stroke="#b452eb"/>
<path d="M685.03 410L686.11 412.03" stroke="#b452eb"/>
<path d="M686.11 412.03L687.19 417.35" stroke="#b452ec"/>
<path d="M687.19 417.35L688.27 430.82" stroke="#b252ed"/>
<path d="M688.27 430.82L689.34 440" stroke="#ae53f2"/>
<path d="M689.34 440L690.42 440" stroke="#ab54f4"/>
<path d="M690.42 440L691.5 440" stroke="#ab54f4"/>
<path d="M691.5 440L692.58 427.5" stroke="#ab54f4"/>
<path d="M692.58 427.5L693.65 425.54" stroke="#af53f0"/>
<path d="M693.65 425.54L694.73 422.3" stroke="#af53f0"/>
<path d="M694.73 422.3L695.81 420" stroke="#b053ef"/>
<path d="M695.81 420L696.89 420" stroke="#b152ee"/>
<path d="M696.89 420L697.97 425.81" stroke="#b152ee"/>
<path d="M697.97 425.81L699.04 445" stroke="#af53f0"/>
<path d="M699.04 445L700.12 445.52" stroke="#a955f6"/>
<path d="M700.12 445.52L701.2 446.42" stroke="#a955f6"/>
<path d="M701.2 446.42L702.28 447.5" stroke="#a955f6"/>
<path d="M702.28 447.5L703.35 431.85" stroke="#a855f7"/>
<path d="M703.35 431.85L704.43 419.69" stroke="#ad54f2"/>
<path d="M704.43 419.69L705.51 418.92" stroke="#b152ee"/>
<path d="M705.51 418.92L706.59 418.15" stroke="#b152ee"/>
<path d="M706.59 418.15L707.66 417.5" stroke="#b252ee"/>
<path d="M707.66 417.5L708.74 418.74" stroke="#b252ed"/>
<path d="M708.74 418.74L709.82 420" stroke="#b252ee"/>
<path d="M709.82 420L710.9 424.49" stroke="#b152ee"/>
<path d="M710.9 424.49L711.98 430" stroke="#b053f0"/>
<path d="M711.98 430L713.05 442.5" stroke="#ae53f1"/>
<path d="M713.05 442.5L714.13 515" stroke="#aa55f5"/>
<path d="M714.13 515L715.21 515.59" stroke="#8f6afb"/>
<path d="M715.21 515.59L716.29 516.49" stroke="#8f6afb"/>
<path d="M716.29 516.49L717.36 517.5" stroke="#8f6afb"/>
<path d="M717.36 517.5L718.44 517.5" stroke="#8f6afc"/>
<path d="M718.44 517.5L719.52 517.25" stroke="#8f6afc"/>
<path d="M719.52 517.25L720.6 497.5" stroke="#9664fa"/>
<path d="M720.6 497.5L721.67 504.24" stroke="#9664fa"/>
<path d="M721.67 504.24L722.75 512.5" stroke="#9366fb"/>
<path d="M722.75 512.5L723.83 512.5" stroke="#9069fb"/>
<path d="M723.83 512.5L724.91 504.94" stroke="#9069fb"/>
<path d="M724.91 504.94L725.99 500" stroke="#9367fb"/>
<path d="M725.99 500L727.06 432.5" stroke="#9565fa"/>
<path d="M727.06 432.5L728.14 431.97" stroke="#ad54f2"/>
<path d="M728.14 431.97L729.22 438.34" stroke="#ad54f2"/>
<path d="M729.22 438.34L730.3 480" stroke="#ab54f4"/>
<path d="M730.3 480L731.37 493.11" stroke="#9c5ff9"/>
<path d="M731.37 493.11L732.45 502.5" stroke="#9466fb"/>
<path d="M732.45 502.5L733.53 496.97" stroke="#9466fb"/>
<path d="M733.53 496.97L734.61 470" stroke="#9664fa"/>
<path d="M734.61 470L735.68 469.32" stroke="#a05cf8"/>
<path d="M735.68 469.32L736.76 468.24" stroke="#a05cf8"/>
<path d="M736.76 468.24L737.84 473.73" stroke="#a15bf8"/>
<path d="M737.84 473.73L738.92 495" stroke="#9f5df9"/>
<path d="M738.92 495L740 557.5" stroke="#9764fa"/>
<path d="M740 557.5L741.07 557.5" stroke="#8077fe"/>
<path d="M741.07 557.5L742.15 557.5" stroke="#8077fe"/>
<path d="M742.15 557.5L743.23 485" stroke="#8077fe"/>
<path d="M743.23 485L744.31 478.28" stroke="#9a60f9"/>
<path d="M744.31 478.28L745.38 471.06" stroke="#9d5ef9"/>
<path d="M745.38 471.06L746.46 465" stroke="#a05cf8"/>
<path d="M746.46 465L747.54 463.65" stroke="#a25af8"/>
<path d="M747.54 463.65L748.62 460" stroke="#a25af8"/>
<path d="M748.62 460L749.69 469.26" stroke="#a459f8"/>
<path d="M749.69 469.26L750.77 480" stroke="#a05cf8"/>
<path d="M750.77 480L751.85 480" stroke="#9c5ff9"/>
<path d="M751.85 480L752.93 471.45" stroke="#9c5ff9"/>
<path d="M752.93 471.45L754.01 460" stroke="#9f5cf9"/>
<path d="M754.01 460L755.08 460" stroke="#a459f8"/>
<path d="M755.08 460L756.16 461.34" stroke="#a459f8"/>
<path d="M756.16 461.34L757.24 472.5" stroke="#9f5df9"/>
<path d="M757.24 472.5L758.32 465.36" stroke="#9f5df9"/>
<path d="M758.32 465.36L759.39 455" stroke="#a25af8"/>
<path d="M759.39 455L760.47 451.11" stroke="#a557f7"/>
<path d="M760.47 451.11L761.55 445" stroke="#a756f7"/>
<path d="M761.55 445L762.63 444.48" stroke="#a955f6"/>
<path d="M762.63 444.48L763.7 443.58" stroke="#a955f6"/>
<path d="M763.7 443.58L764.78 442.5" stroke="#a955f6"/>
<path d="M764.78 442.5L765.86 442.5" stroke="#aa55f5"/>
<path d="M765.86 442.5L766.94 442.5" stroke="#aa55f5"/>
<path d="M766.94 442.5L768.02 442.51" stroke="#aa55f5"/>
<path d="M768.02 442.51L769.09 443.18" stroke="#aa55f5"/>
<path d="M769.09 443.18L770.17 445.14" stroke="#aa55f5"/>
<path d="M770.17 445.14L771.25 453.89" stroke="#a955f6"/>
<path d="M771.25 453.89L772.33 462.45" stroke="#a657f7"/>
<path d="M772.33 462.45L773.4 470.53" stroke="#a359f8"/>
<path d="M773.4 470.53L774.48 475" stroke="#a05cf8"/>
<path d="M774.48 475L775.56 474.41" stroke="#9e5df9"/>
<path d="M775.56 474.41L776.64 460" stroke="#9e5df9"/>
<path d="M776.64 460L777.71 448.09" stroke="#a459f8"/>
<path d="M777.71 448.09L778.79 434.12" stroke="#a855f7"/>
<path d="M778.79 434.12L779.87 430.89" stroke="#ad54f3"/>
<path d="M779.87 430.89L780.95 427.5" stroke="#ae53f2"/>
<path d="M780.95 427.5L782.03 420" stroke="#af53f0"/>
<path d="M782.03 420L783.1 367.5" stroke="#b152ee"/>
<path d="M783.1 367.5L784.18 359.55" stroke="#c24edd"/>
<path d="M784.18 359.55L785.26 343.96" stroke="#c54ddb"/>
<path d="M785.26 343.96L786.34 315" stroke="#ca4cd6"/>
<path d="M786.34 315L787.41 314.54" stroke="#d548cb"/>
<path d="M787.41 314.54L788.49 313.75" stroke="#d548cb"/>
<path d="M788.49 313.75L789.57 350" stroke="#c84cd8"/>
<path d="M789.57 350L790.65 337.86" stroke="#c84cd8"/>
<path d="M790.65 337.86L791.72 312.5" stroke="#cc4bd4"/>
<path d="M791.72 312.5L792.8 312.5" stroke="#d648ca"/>
<path d="M792.8 312.5L793.88 312.5" stroke="#d648ca"/>
<path d="M793.88 312.5L794.96 323.95" stroke="#d648ca"/>
<path d="M794.96 323.95L796.04 350" stroke="#c84cd8"/>
<path d="M796.04 350L797.11 315" stroke="#d548cb"/>
<path d="M797.11 315L798.19 319.15" stroke="#d548cb"/>
<path d="M798.19 319.15L799.27 325.61" stroke="#d349cd"/>
<path d="M799.27 325.61L800.35 330" stroke="#d04ad0"/>
<path d="M800.35 330L801.42 300" stroke="#dd45c3"/>
<path d="M801.42 300L802.5 345" stroke="#c94cd6"/>
<path d="M802.5 345L803.58 337.75" stroke="#c94cd6"/>
<path d="M803.58 337.75L804.66 320" stroke="#cc4bd4"/>
<path d="M804.66 320L805.74 314.49" stroke="#d349cd"/>
<path d="M805.74 314.49L806.81 305" stroke="#da46c6"/>
<path d="M806.81 305L807.89 313.9" stroke="#da46c6"/>
<path d="M807.89 313.9L808.97 338.72" stroke="#d648ca"/>
<path d="M808.97 338.72L810.05 380" stroke="#cc4bd4"/>
<path d="M810.05 380L811.12 380" stroke="#be4fe1"/>
<path d="M811.12 380L812.2 370.95" stroke="#be4fe1"/>
<path d="M812.2 370.95L813.28 332.91" stroke="#c14edf"/>
<path d="M813.28 332.91L814.36 324.83" stroke="#d04ad0"/>
<path d="M814.36 324.83L815.43 330.31" stroke="#d04ad0"/>
<path d="M815.43 330.31L816.51 367.5" stroke="#ce4ad2"/>
<path d="M816.51 367.5L817.59 367.5" stroke="#c24edd"/>
<path d="M817.59 367.5L818.67 367.5" stroke="#c24edd"/>
<path d="M818.67 367.5L819.75 315" stroke="#c24edd"/>
<path d="M819.75 315L820.82 309.51" stroke="#d548cb"/>
<path d="M820.82 309.51L821.9 315.68" stroke="#d847c8"/>
<path d="M821.9 315.68L822.98 345" stroke="#d548cb"/>
<path d="M822.98 345L824.06 345" stroke="#c94cd6"/>
<path d="M824.06 345L825.13 339.66" stroke="#c94cd6"/>
<path d="M825.13 339.66L826.21 304.47" stroke="#cb4bd5"/>
<path d="M826.21 304.47L827.29 301.78" stroke="#db46c5"/>
<path d="M827.29 301.78L828.37 300" stroke="#dc45c4"/>
<path d="M828.37 300L829.44 307.22" stroke="#dd45c3"/>
<path d="M829.44 307.22L830.52 310" stroke="#d946c7"/>
<path d="M830.52 310L831.6 295" stroke="#df44c1"/>
<path d="M831.6 295L832.68 296.18" stroke="#df44c1"/>
<path d="M832.68 296.18L833.76 297.5" stroke="#df44c1"/>
<path d="M833.76 297.5L834.83 304.44" stroke="#de44c2"/>
<path d="M834.83 304.44L835.91 310" stroke="#db46c5"/>
<path d="M835.91 310L836.99 300" stroke="#dd45c3"/>
<path d="M836.99 300L838.07 307.55" stroke="#dd45c3"/>
<path d="M838.07 307.55L839.14 322.87" stroke="#d947c7"/>
<path d="M839.14 322.87L840.22 350" stroke="#d14acf"/>
<path d="M840.22 350L841.3 350.8" stroke="#c84cd8"/>
<path d="M841.3 350.8L842.38 351.88" stroke="#c84cd8"/>
<path d="M842.38 351.88L843.45 339.62" stroke="#c74cd9"/>
<path d="M843.45 339.62L844.53 309.84" stroke="#cb4bd5"/>
<path d="M844.53 309.84L845.61 304.45" stroke="#d847c8"/>
<path d="M845.61 304.45L846.69 300" stroke="#db46c5"/>
<path d="M846.69 300L847.77 300" stroke="#dd45c3"/>
<path d="M847.77 300L848.84 300" stroke="#dd45c3"/>
<path d="M848.84 300L849.92 304.6" stroke="#dd45c3"/>
<path d="M849.92 304.6L851 310" stroke="#da46c6"/>
<path d="M851 310L852.08 302.5" stroke="#dc46c4"/>
<path d="M852.08 302.5L853.15 303.32" stroke="#dc46c4"/>
<path d="M853.15 303.32L854.23 305" stroke="#db46c5"/>
<path d="M854.23 305L855.31 309.05" stroke="#da46c6"/>
<path d="M855.31 309.05L856.39 315" stroke="#d847c8"/>
<path d="M856.39 315L857.46 350" stroke="#d548cb"/>
<path d="M857.46 350L858.54 350.45" stroke="#c84cd8"/>
<path d="M858.54 350.45L859.62 351.35" stroke="#c84cd8"/>
<path d="M859.62 351.35L860.7 352.5" stroke="#c74cd8"/>
<path d="M860.7 352.5L861.78 340.87" stroke="#c74cd9"/>
<path d="M861.78 340.87L862.85 326.47" stroke="#cb4bd5"/>
<path d="M862.85 326.47L863.93 315" stroke="#d548cb"/>
<path d="M863.93 315L865.01 317.52" stroke="#d548cb"/>
<path d="M865.01 317.52L866.09 320" stroke="#d449cc"/>
<path d="M866.09 320L867.16 315" stroke="#d349cd"/>
<path d="M867.16 315L868.24 302.64" stroke="#d548cb"/>
<path d="M868.24 302.64L869.32 289.47" stroke="#db46c5"/>
<path d="M869.32 289.47L870.4 287.5" stroke="#e243be"/>
<path d="M870.4 287.5L871.47 288.72" stroke="#e343bd"/>
<path d="M871.47 288.72L872.55 292.45" stroke="#e343bd"/>
<path d="M872.55 292.45L873.63 360" stroke="#e143bf"/>
<path d="M873.63 360L874.71 391.85" stroke="#c54ddb"/>
<path d="M874.71 391.85L875.79 427.79" stroke="#ba50e5"/>
<path d="M875.79 427.79L876.86 428.86" stroke="#af53f1"/>
<path d="M876.86 428.86L877.94 430" stroke="#ae53f1"/>
<path d="M877.94 430L879.02 360" stroke="#c54ddb"/>
<path d="M879.02 360L880.1 432.5" stroke="#ad54f2"/>
<path d="M880.1 432.5L881.17 425.76" stroke="#ad54f2"/>
<path d="M881.17 425.76L882.25 412.5" stroke="#b452ec"/>
<path d="M882.25 412.5L883.33 427.71" stroke="#b452ec"/>
<path d="M883.33 427.71L884.41 443.05" stroke="#af53f1"/>
<path d="M884.41 443.05L885.48 451.25" stroke="#aa55f5"/>
<path d="M885.48 451.25L886.56 451.25" stroke="#a756f7"/>
<path d="M886.56 451.25L887.64 447.86" stroke="#a756f7"/>
<path d="M887.64 447.86L888.72 415" stroke="#b352ed"/>
<path d="M888.72 415L889.8 417.65" stroke="#b352ed"/>
<path d="M889.8 417.65L890.87 415.02" stroke="#b252ed"/>
<path d="M890.87 415.02L891.95 400" stroke="#b352ed"/>
<path d="M891.95 400L893.03 370" stroke="#b851e8"/>
<path d="M893.03 370L894.11 367.98" stroke="#c14ede"/>
<path d="M894.11 367.98L895.18 365" stroke="#c24ede"/>
<path d="M895.18 365L896.26 380" stroke="#c34edd"/>
<path d="M896.26 380L897.34 381.4" stroke="#be4fe1"/>
<path d="M897.34 381.4L898.42 377.63" stroke="#be4fe2"/>
<path d="M898.42 377.63L899.49 365" stroke="#bf4fe1"/>
<path d="M899.49 365L900.57 362.5" stroke="#c34edd"/>
<path d="M900.57 362.5L901.65 330" stroke="#c44ddc"/>
<path d="M901.65 330L902.73 316.65" stroke="#ce4ad2"/>
<path d="M902.73 316.65L903.81 301.99" stroke="#d448cc"/>
<path d="M903.81 301.99L904.88 300" stroke="#dc45c4"/>
<path d="M904.88 300L905.96 271.25" stroke="#dd45c3"/>
<path d="M905.96 271.25L907.04 271.25" stroke="#ea40b4"/>
<path d="M907.04 271.25L908.12 275.76" stroke="#ea40b4"/>
<path d="M908.12 275.76L909.19 310" stroke="#e841b7"/>
<path d="M909.19 310L910.27 310" stroke="#d847c8"/>
<path d="M910.27 310L911.35 305.34" stroke="#d847c8"/>
<path d="M911.35 305.34L912.43 290" stroke="#e243be"/>
<path d="M912.43 290L913.51 305" stroke="#da46c6"/>
<path d="M913.51 305L914.58 277.5" stroke="#da46c6"/>
<path d="M914.58 277.5L915.66 277.5" stroke="#e741b8"/>
<path d="M915.66 277.5L916.74 277.5" stroke="#e741b8"/>
<path d="M916.74 277.5L917.82 293.82" stroke="#e741b8"/>
<path d="M917.82 293.82L918.89 307.83" stroke="#e044c0"/>
<path d="M918.89 307.83L919.97 308.73" stroke="#d947c7"/>
<path d="M919.97 308.73L921.05 310" stroke="#d847c8"/>
<path d="M921.05 310L922.13 255" stroke="#d847c8"/>
<path d="M922.13 255L923.2 254.3" stroke="#f03eac"/>
<path d="M923.2 254.3L924.28 253.22" stroke="#f03eac"/>
<path d="M924.28 253.22L925.36 254.9" stroke="#f03eab"/>
<path d="M925.36 254.9L926.44 262.5" stroke="#ed3fb0"/>
<path d="M926.44 262.5L927.52 247.5" stroke="#ed3fb0"/>
<path d="M927.52 247.5L928.59 205" stroke="#f23da9"/>
<path d="M928.59 205L929.67 205" stroke="#fc3996"/>
<path d="M929.67 205L930.75 205" stroke="#fc3996"/>
<path d="M930.75 205L931.83 232.7" stroke="#fc3996"/>
<path d="M931.83 232.7L932.9 290" stroke="#e243be"/>
<path d="M932.9 290L933.98 242.5" stroke="#e243be"/>
<path d="M933.98 242.5L935.06 241.84" stroke="#f33da6"/>
<path d="M935.06 241.84L936.14 244.5" stroke="#f33da6"/>
<path d="M936.14 244.5L937.21 265" stroke="#ec3fb1"/>
<path d="M937.21 265L938.29 217.5" stroke="#ec3fb1"/>
<path d="M938.29 217.5L939.37 217.5" stroke="#f93b9b"/>
<path d="M939.37 217.5L940.45 217.5" stroke="#f93b9b"/>
<path d="M940.45 217.5L941.53 228.88" stroke="#f93b9b"/>
<path d="M941.53 228.88L942.6 250.69" stroke="#f63ca0"/>
<path d="M942.6 250.69L943.68 260" stroke="#f13eaa"/>
<path d="M943.68 260L944.76 270.11" stroke="#ee3faf"/>
<path d="M944.76 270.11L945.84 280" stroke="#e642b9"/>
<path d="M945.84 280L946.91 275" stroke="#e642b9"/>
<path d="M946.91 275L947.99 300" stroke="#e841b6"/>
<path d="M947.99 300L949.07 302.5" stroke="#dd45c3"/>
<path d="M949.07 302.5L950.15 290.64" stroke="#dc46c4"/>
<path d="M950.15 290.64L951.22 270.88" stroke="#e243be"/>
<path d="M951.22 270.88L952.3 247.5" stroke="#ea40b4"/>
<path d="M952.3 247.5L953.38 247.5" stroke="#f23da9"/>
<path d="M953.38 247.5L954.46 247.5" stroke="#f23da9"/>
<path d="M954.46 247.5L955.54 262.5" stroke="#f23da9"/>
<path d="M955.54 262.5L956.61 269.65" stroke="#ed3fb0"/>
<path d="M956.61 269.65L957.69 280" stroke="#e642b9"/>
<path d="M957.69 280L958.77 270" stroke="#ea40b4"/>
<path d="M958.77 270L959.85 275.64" stroke="#ea40b4"/>
<path d="M959.85 275.64L960.92 291.3" stroke="#e841b7"/>
<path d="M960.92 291.3L962 320" stroke="#e143bf"/>
<path d="M962 320L963.08 320" stroke="#d349cd"/>
<path d="M963.08 320L964.16 313.72" stroke="#d349cd"/>
<path d="M964.16 313.72L965.23 277.65" stroke="#d648ca"/>
<path d="M965.23 277.65L966.31 265" stroke="#e741b8"/>
<path d="M966.31 265L967.39 265" stroke="#ec3fb1"/>
<path d="M967.39 265L968.47 265" stroke="#ec3fb1"/>
<path d="M968.47 265L969.55 275" stroke="#e841b6"/>
<path d="M969.55 275L970.62 273.96" stroke="#e841b6"/>
<path d="M970.62 273.96L971.7 277.52" stroke="#e841b6"/>
<path d="M971.7 277.52L972.78 310" stroke="#d847c8"/>
<path d="M972.78 310L973.86 305.72" stroke="#d847c8"/>
<path d="M973.86 305.72L974.93 314.79" stroke="#da46c6"/>
<path d="M974.93 314.79L976.01 345.41" stroke="#d548cb"/>
<path d="M976.01 345.41L977.09 397.5" stroke="#b850e7"/>
<path d="M977.09 397.5L978.17 374.15" stroke="#b850e7"/>
<path d="M978.17 374.15L979.24 338.88" stroke="#c04ee0"/>
<path d="M979.24 338.88L980.32 307.5" stroke="#cb4bd4"/>
<path d="M980.32 307.5L981.4 307.5" stroke="#d946c7"/>
<path d="M981.4 307.5L982.48 307.5" stroke="#d946c7"/>
<path d="M982.48 307.5L983.56 315" stroke="#d946c7"/>
<path d="M983.56 315L984.63 317.11" stroke="#d548cb"/>
<path d="M984.63 317.11L985.71 322.81" stroke="#d448cc"/>
<path d="M985.71 322.81L986.79 340" stroke="#d14acf"/>
<path d="M986.79 340L987.87 345.78" stroke="#cb4bd5"/>
<path d="M987.87 345.78L988.94 354.44" stroke="#c94cd7"/>
<path d="M988.94 354.44L990.02 366.66" stroke="#c64dd9"/>
<path d="M990.02 366.66L991.1 480" stroke="#c24edd"/>
<path d="M991.1 480L992.18 480.42" stroke="#9c5ff9"/>
<path d="M992.18 480.42L993.25 481.25" stroke="#9c5ff9"/>
<path d="M993.25 481.25L994.33 439.21" stroke="#9c5ff9"/>
<path d="M994.33 439.21L995.41 384.78" stroke="#ab54f4"/>
<path d="M995.41 384.78L996.49 343.21" stroke="#bd4fe3"/>
<path d="M996.49 343.21L997.57 318.75" stroke="#d349cd"/>
<path d="M997.57 318.75L998.64 340" stroke="#d349cd"/>
<path d="M998.64 340L999.72 347.21" stroke="#cb4bd5"/>
<path d="M999.72 347.21L1000.8 367.94" stroke="#c94cd7"/>
<path d="M1000.8 367.94L1001.88 420" stroke="#c24ede"/>
<path d="M1001.88 420L1002.95 420" stroke="#b152ee"/>
<path d="M1002.95 420L1004.03 417.77" stroke="#b152ee"/>
<path d="M1004.03 417.77L1005.11 350" stroke="#c84cd8"/>
<path d="M1005.11 350L1006.19 355" stroke="#c84cd8"/>
<path d="M1006.19 355L1007.26 337.15" stroke="#c64dda"/>
<path d="M1007.26 337.15L1008.34 315.43" stroke="#cc4bd4"/>
<path d="M1008.34 315.43L1009.42 300" stroke="#d548cb"/>
<path d="M1009.42 300L1010.5 297.5" stroke="#dd45c3"/>
<path d="M1010.5 297.5L1011.58 294.62" stroke="#de44c2"/>
<path d="M1011.58 294.62L1012.65 289.74" stroke="#e044c0"/>
<path d="M1012.65 289.74L1013.73 287.5" stroke="#e243be"/>
<path d="M1013.73 287.5L1014.81 287.5" stroke="#e343bd"/>
<path d="M1014.81 287.5L1015.89 287.5" stroke="#e343bd"/>
<path d="M1015.89 287.5L1016.96 289.05" stroke="#e343bd"/>
<path d="M1016.96 289.05L1018.04 292.92" stroke="#e243be"/>
<path d="M1018.04 292.92L1019.12 307.5" stroke="#e044c0"/>
<path d="M1019.12 307.5L1020.2 308.66" stroke="#d946c7"/>
<path d="M1020.2 308.66L1021.28 310" stroke="#d847c8"/>
<path d="M1021.28 310L1022.35 309.44" stroke="#d847c8"/>
<path d="M1022.35 309.44L1023.43 308.99" stroke="#d847c8"/>
<path d="M1023.43 308.99L1024.51 307.8" stroke="#d847c8"/>
<path d="M1024.51 307.8L1025.59 305" stroke="#d947c7"/>
<path d="M1025.59 305L1026.66 300.58" stroke="#da46c6"/>
<path d="M1026.66 300.58L1027.74 292.19" stroke="#dd45c3"/>
<path d="M1027.74 292.19L1028.82 277.5" stroke="#e143bf"/>
<path d="M1028.82 277.5L1029.9 277.05" stroke="#e741b8"/>
<path d="M1029.9 277.05L1030.97 276.25" stroke="#e741b7"/>
<path d="M1030.97 276.25L1032.05 282.23" stroke="#e841b7"/>
<path d="M1032.05 282.23L1033.13 293.15" stroke="#e542ba"/>
<path d="M1033.13 293.15L1034.21 300" stroke="#e044c0"/>
<path d="M1034.21 300L1035.29 303.93" stroke="#dd45c3"/>
<path d="M1035.29 303.93L1036.36 307.5" stroke="#db46c5"/>
<path d="M1036.36 307.5L1037.44 300" stroke="#dd45c3"/>
<path d="M1037.44 300L1038.52 320" stroke="#dd45c3"/>
<path d="M1038.52 320L1039.6 320" stroke="#d349cd"/>
<path d="M1039.6 320L1040.67 320" stroke="#d349cd"/>
<path d="M1040.67 320L1041.75 300" stroke="#d349cd"/>
<path d="M1041.75 300L1042.83 300" stroke="#dd45c3"/>
<path d="M1042.83 300L1043.91 300" stroke="#dd45c3"/>
<path d="M1043.91 300L1044.98 355" stroke="#dd45c3"/>
<path d="M1044.98 355L1046.06 358.75" stroke="#c64dda"/>
<path d="M1046.06 358.75L1047.14 369.66" stroke="#c54ddb"/>
<path d="M1047.14 369.66L1048.22 415" stroke="#c14ede"/>
<path d="M1048.22 415L1049.3 557.5" stroke="#b352ed"/>
<path d="M1049.3 557.5L1050.37 557.5" stroke="#8077fe"/>
<path d="M1050.37 557.5L1051.45 557.5" stroke="#8077fe"/>
<path d="M1051.45 557.5L1052.53 555.66" stroke="#8077fe"/>
<path d="M1052.53 555.66L1053.61 460" stroke="#8176fe"/>
<path d="M1053.61 460L1054.68 425" stroke="#a459f8"/>
<path d="M1054.68 425L1055.76 424.62" stroke="#af53f0"/>
<path d="M1055.76 424.62L1056.84 424.08" stroke="#b053f0"/>
<path d="M1056.84 424.08L1057.92 428.27" stroke="#b053ef"/>
<path d="M1057.92 428.27L1058.99 440" stroke="#ae53f1"/>
<path d="M1058.99 440L1060.07 565" stroke="#ab54f4"/>
<path d="M1060.07 565L1061.15 581.25" stroke="#7d79ff"/>
<path d="M1061.15 581.25L1062.23 581.25" stroke="#767cff"/>
<path d="M1062.23 581.25L1063.31 581.25" stroke="#767cff"/>
<path d="M1063.31 581.25L1064.38 577.42" stroke="#767cff"/>
<path d="M1064.38 577.42L1065.46 566.25" stroke="#7d7aff"/>
<path d="M1065.46 566.25L1066.54 586.25" stroke="#7d7aff"/>
<path d="M1066.54 586.25L1067.62 587.02" stroke="#747cff"/>
<path d="M1067.62 587.02L1068.69 588.75" stroke="#737cff"/>
<path d="M1068.69 588.75L1069.77 564.96" stroke="#737cff"/>
<path d="M1069.77 564.96L1070.85 503.21" stroke="#7d79ff"/>
<path d="M1070.85 503.21L1071.93 397.98" stroke="#9466fb"/>
<path d="M1071.93 397.98L1073 346.59" stroke="#b851e7"/>
<path d="M1073 346.59L1074.08 330" stroke="#c94cd7"/>
<path d="M1074.08 330L1075.16 330" stroke="#ce4ad2"/>
<path d="M1075.16 330L1076.24 322.87" stroke="#ce4ad2"/>
<path d="M1076.24 322.87L1077.32 299.84" stroke="#d14acf"/>
<path d="M1077.32 299.84L1078.39 299.3" stroke="#dd45c3"/>
<path d="M1078.39 299.3L1079.47 298.75" stroke="#dd45c3"/>
<path d="M1079.47 298.75L1080.55 320" stroke="#de45c2"/>
<path d="M1080.55 320L1081.63 325.22" stroke="#d349cd"/>
<path d="M1081.63 325.22L1082.7 332.5" stroke="#ce4bd2"/>
<path d="M1082.7 332.5L1083.78 320" stroke="#ce4bd2"/>
<path d="M1083.78 320L1084.86 300" stroke="#d349cd"/>
<path d="M1084.86 300L1085.94 300" stroke="#dd45c3"/>
<path d="M1085.94 300L1087.01 300" stroke="#dd45c3"/>
<path d="M1087.01 300L1088.09 303.7" stroke="#dd45c3"/>
<path d="M1088.09 303.7L1089.17 345.95" stroke="#db46c5"/>
<path d="M1089.17 345.95L1090.25 379.54" stroke="#c94cd7"/>
<path d="M1090.25 379.54L1091.33 402.5" stroke="#be4fe1"/>
<path d="M1091.33 402.5L1092.4 465" stroke="#b751e9"/>
<path d="M1092.4 465L1093.48 520" stroke="#a25af8"/>
<path d="M1093.48 520L1094.56 635" stroke="#8e6bfc"/>
<path d="M1094.56 635L1095.64 635" stroke="#5c80ff"/>
<path d="M1095.64 635L1096.71 635" stroke="#5c80ff"/>
<path d="M1096.71 635L1097.79 630.26" stroke="#5c80ff"/>
<path d="M1097.79 630.26L1098.87 558.26" stroke="#5f80ff"/>
<path d="M1098.87 558.26L1099.95 454.63" stroke="#8077fe"/>
<path d="M1099.95 454.63L1101.02 453.75" stroke="#a657f7"/>
<path d="M1101.02 453.75L1102.1 513.46" stroke="#a657f7"/>
<path d="M1102.1 513.46L1103.18 587.5" stroke="#9069fb"/>
<path d="M1103.18 587.5L1104.26 587.5" stroke="#737cff"/>
<path d="M1104.26 587.5L1105.34 587.5" stroke="#737cff"/>
<path d="M1105.34 587.5L1106.41 574.07" stroke="#737cff"/>
<path d="M1106.41 574.07L1107.49 554.75" stroke="#7a7bff"/>
<path d="M1107.49 554.75L1108.57 554.22" stroke="#8176fe"/>
<path d="M1108.57 554.22L1109.65 557.96" stroke="#8176fe"/>
<path d="M1109.65 557.96L1110.72 582.5" stroke="#8077fe"/>
<path d="M1110.72 582.5L1111.8 582.5" stroke="#767cff"/>
<path d="M1111.8 582.5L1112.88 582.5" stroke="#767cff"/>
<path d="M1112.88 582.5L1113.96 502.49" stroke="#767cff"/>
<path d="M1113.96 502.49L1115.03 407.5" stroke="#b551ea"/>
<path d="M1115.03 407.5L1116.11 410.88" stroke="#b551ea"/>
<path d="M1116.11 410.88L1117.19 452.5" stroke="#b452eb"/>
<path d="M1117.19 452.5L1118.27 536.25" stroke="#a656f7"/>
<path d="M1118.27 536.25L1119.35 562.5" stroke="#8870fd"/>
<path d="M1119.35 562.5L1120.42 564.04" stroke="#7e78fe"/>
<path d="M1120.42 564.04L1121.5 570.43" stroke="#7e79ff"/>
<path d="M1121.5 570.43L1122.58 581.35" stroke="#7b7bff"/>
<path d="M1122.58 581.35L1123.66 582.7" stroke="#767cff"/>
<path d="M1123.66 582.7L1124.73 581.02" stroke="#757cff"/>
<path d="M1124.73 581.02L1125.81 566.25" stroke="#7d7aff"/>
<path d="M1125.81 566.25L1126.89 589.23" stroke="#7d7aff"/>
<path d="M1126.89 589.23L1127.97 605" stroke="#727cff"/>
<path d="M1127.97 605L1129.05 605" stroke="#6b7eff"/>
<path d="M1129.05 605L1130.12 605" stroke="#6b7eff"/>
<path d="M1130.12 605L1131.2 595.08" stroke="#6b7eff"/>
<path d="M1131.2 595.08L1132.28 577.49" stroke="#6f7dff"/>
<path d="M1132.28 577.49L1133.36 550" stroke="#787cff"/>
<path d="M1133.36 550L1134.43 531.33" stroke="#8375fe"/>
<path d="M1134.43 531.33L1135.51 520" stroke="#8e6bfc"/>
<path d="M1135.51 520L1136.59 552.5" stroke="#8275fe"/>
<path d="M1136.59 552.5L1137.67 437.5" stroke="#8275fe"/>
<path d="M1137.67 437.5L1138.74 436.88" stroke="#ab54f4"/>
<path d="M1138.74 436.88L1139.82 458.79" stroke="#ac54f3"/>
<path d="M1139.82 458.79L1140.9 541.25" stroke="#8672fd"/>
<path d="M1140.9 541.25L1141.98 472.5" stroke="#8672fd"/>
<path d="M1141.98 472.5L1143.06 418.75" stroke="#9f5df9"/>
<path d="M1143.06 418.75L1144.13 418.43" stroke="#b252ee"/>
<path d="M1144.13 418.43L1145.21 417.89" stroke="#b252ee"/>
<path d="M1145.21 417.89L1146.29 421.82" stroke="#b252ed"/>
<path d="M1146.29 421.82L1147.37 440" stroke="#ab54f4"/>
<path d="M1147.37 440L1148.44 390" stroke="#ab54f4"/>
<path d="M1148.44 390L1149.52 377.5" stroke="#bb50e5"/>
<path d="M1149.52 377.5L1150.6 360" stroke="#bf4fe1"/>
<path d="M1150.6 360L1151.68 359.66" stroke="#c54ddb"/>
<path d="M1151.68 359.66L1152.75 359.12" stroke="#c54ddb"/>
<path d="M1152.75 359.12L1153.83 362.35" stroke="#c54ddb"/>
<path d="M1153.83 362.35L1154.91 375" stroke="#c44ddc"/>
<path d="M1154.91 375L1155.99 441.25" stroke="#c04ee0"/>
<path d="M1155.99 441.25L1157.07 516.25" stroke="#aa54f5"/>
<path d="M1157.07 516.25L1158.14 516.25" stroke="#8f6afb"/>
<path d="M1158.14 516.25L1159.22 516.25" stroke="#8f6afb"/>
<path d="M1159.22 516.25L1160.3 442.5" stroke="#8f6afb"/>
<path d="M1160.3 442.5L1161.38 441.95" stroke="#aa55f5"/>
<path d="M1161.38 441.95L1162.45 441.25" stroke="#aa54f5"/>
<path d="M1162.45 441.25L1163.53 485" stroke="#aa54f5"/>
<path d="M1163.53 485L1164.61 510.38" stroke="#9a60f9"/>
<path d="M1164.61 510.38L1165.69 547.5" stroke="#9168fb"/>
<path d="M1165.69 547.5L1166.76 547.5" stroke="#8474fd"/>
<path d="M1166.76 547.5L1167.84 547.5" stroke="#8474fd"/>
<path d="M1167.84 547.5L1168.92 503.41" stroke="#8474fd"/>
<path d="M1168.92 503.41L1170 355" stroke="#9466fb"/>
<path d="M1170 355L1171.08 307.5" stroke="#c64dda"/>
<path d="M1171.08 307.5L1172.15 307.5" stroke="#d946c7"/>
<path d="M1172.15 307.5L1173.23 307.5" stroke="#d946c7"/>
<path d="M1173.23 307.5L1174.31 308.27" stroke="#d946c7"/>
<path d="M1174.31 308.27L1175.39 310" stroke="#d947c7"/>
<path d="M1175.39 310L1176.46 310" stroke="#d847c8"/>
<path d="M1176.46 310L1177.54 310.42" stroke="#d847c8"/>
<path d="M1177.54 310.42L1178.62 325" stroke="#d747c9"/>
<path d="M1178.62 325L1179.7 325" stroke="#d04ad0"/>
<path d="M1179.7 325L1180.77 325" stroke="#d04ad0"/>
<path d="M1180.77 325L1181.85 312.22" stroke="#d04ad0"/>
<path d="M1181.85 312.22L1182.93 302.07" stroke="#d747c9"/>
<path d="M1182.93 302.07L1184.01 300.99" stroke="#dc45c4"/>
<path d="M1184.01 300.99L1185.09 299" stroke="#dc45c4"/>
<path d="M1185.09 299L1186.16 282.5" stroke="#dd45c3"/>
<path d="M1186.16 282.5L1187.24 282.04" stroke="#e542ba"/>
<path d="M1187.24 282.04L1188.32 281.25" stroke="#e542ba"/>
<path d="M1188.32 281.25L1189.4 292.45" stroke="#e642ba"/>
<path d="M1189.4 292.45L1190.47 303.16" stroke="#e143bf"/>
<path d="M1190.47 303.16L1191.55 310.34" stroke="#db46c5"/>
<path d="M1191.55 310.34L1192.63 320" stroke="#d847c8"/>
<path d="M1192.63 320L1193.71 320" stroke="#d349cd"/>
<path d="M1193.71 320L1194.78 320" stroke="#d349cd"/>
<path d="M1194.78 320L1195.86 285" stroke="#d349cd"/>
<path d="M1195.86 285L1196.94 283.43" stroke="#e442bb"/>
<path d="M1196.94 283.43L1198.02 280.77" stroke="#e542bb"/>
<path d="M1198.02 280.77L1199.1 275.43" stroke="#e642b9"/>
<path d="M1199.1 275.43L1200.17 245" stroke="#e841b7"/>
<path d="M1200.17 245L1201.25 231.23" stroke="#f23da8"/>
<path d="M1201.25 231.23L1202.33 217.09" stroke="#f63ca1"/>
<path d="M1202.33 217.09L1203.41 215.74" stroke="#f93a9b"/>
<path d="M1203.41 215.74L1204.48 212.18" stroke="#f93a9b"/>
<path d="M1204.48 212.18L1205.56 206.25" stroke="#fa3a99"/>
<path d="M1205.56 206.25L1206.64 206.25" stroke="#fc3996"/>
<path d="M1206.64 206.25L1207.72 206.25" stroke="#fc3996"/>
<path d="M1207.72 206.25L1208.79 229.43" stroke="#fc3996"/>
<path d="M1208.79 229.43L1209.87 250" stroke="#f13eaa"/>
<path d="M1209.87 250L1210.95 182.5" stroke="#f13eaa"/>
<path d="M1210.95 182.5L1212.03 182.5" stroke="#ff388d"/>
<path d="M1212.03 182.5L1213.11 182.5" stroke="#ff388d"/>
<path d="M1213.11 182.5L1214.18 213.25" stroke="#ff388d"/>
<path d="M1214.18 213.25L1215.26 250.43" stroke="#fa3a99"/>
<path d="M1215.26 250.43L1216.34 252.5" stroke="#f13eaa"/>
<path d="M1216.34 252.5L1217.42 290" stroke="#f13eab"/>
<path d="M1217.42 290L1218.49 290" stroke="#e243be"/>
<path d="M1218.49 290L1219.57 287.73" stroke="#e243be"/>
<path d="M1219.57 287.73L1220.65 242.5" stroke="#e343bd"/>
<path d="M1220.65 242.5L1221.73 242.14" stroke="#f33da6"/>
<path d="M1221.73 242.14L1222.8 241.6" stroke="#f33da6"/>
<path d="M1222.8 241.6L1223.88 252.41" stroke="#f33da6"/>
<path d="M1223.88 252.41L1224.96 285" stroke="#f13eab"/>
<path d="M1224.96 285L1226.04 307.5" stroke="#e442bb"/>
<path d="M1226.04 307.5L1227.12 307.5" stroke="#d946c7"/>
<path d="M1227.12 307.5L1228.19 294.69" stroke="#d946c7"/>
<path d="M1228.19 294.69L1229.27 241.25" stroke="#f33da6"/>
<path d="M1229.27 241.25L1230.35 247.5" stroke="#f33da6"/>
<path d="M1230.35 247.5L1231.43 269.5" stroke="#f23da9"/>
<path d="M1231.43 269.5L1232.5 295" stroke="#df44c1"/>
<path d="M1232.5 295L1233.58 269.3" stroke="#df44c1"/>
<path d="M1233.58 269.3L1234.66 247.3" stroke="#ea40b3"/>
<path d="M1234.66 247.3L1235.74 245.95" stroke="#f23da9"/>
<path d="M1235.74 245.95L1236.82 240.54" stroke="#f23da8"/>
<path d="M1236.82 240.54L1237.89 223.75" stroke="#f33da6"/>
<path d="M1237.89 223.75L1238.97 223.75" stroke="#f83b9e"/>
<path d="M1238.97 223.75L1240.05 226.46" stroke="#f83b9e"/>
<path d="M1240.05 226.46L1241.13 281.26" stroke="#f73b9f"/>
<path d="M1241.13 281.26L1242.2 295" stroke="#e542ba"/>
<path d="M1242.2 295L1243.28 297.6" stroke="#df44c1"/>
<path d="M1243.28 297.6L1244.36 304.79" stroke="#de45c2"/>
<path d="M1244.36 304.79L1245.44 320" stroke="#da46c6"/>
<path d="M1245.44 320L1246.51 320" stroke="#d349cd"/>
<path d="M1246.51 320L1247.59 280" stroke="#d349cd"/>
<path d="M1247.59 280L1248.67 276.65" stroke="#e642b9"/>
<path d="M1248.67 276.65L1249.75 272.5" stroke="#e741b7"/>
<path d="M1249.75 272.5L1250.83 300" stroke="#e940b5"/>
<path d="M1250.83 300L1251.9 334.61" stroke="#dd45c3"/>
<path d="M1251.9 334.61L1252.98 357.5" stroke="#cd4bd3"/>
<path d="M1252.98 357.5L1254.06 357.5" stroke="#c54dda"/>
<path d="M1254.06 357.5L1255.14 357.5" stroke="#c54dda"/>
<path d="M1255.14 357.5L1256.21 336.98" stroke="#c54dda"/>
<path d="M1256.21 336.98L1257.29 300" stroke="#cc4bd4"/>
<path d="M1257.29 300L1258.37 300" stroke="#dd45c3"/>
<path d="M1258.37 300L1259.45 291.07" stroke="#dd45c3"/>
<path d="M1259.45 291.07L1260.52 279.34" stroke="#e143bf"/>
<path d="M1260.52 279.34L1261.6 277.5" stroke="#e641b9"/>
<path d="M1261.6 277.5L1262.68 287.7" stroke="#e741b8"/>
<path d="M1262.68 287.7L1263.76 441.25" stroke="#e343bd"/>
<path d="M1263.76 441.25L1264.84 441.25" stroke="#aa54f5"/>
<path d="M1264.84 441.25L1265.91 441.25" stroke="#aa54f5"/>
<path d="M1265.91 441.25L1266.99 415.49" stroke="#aa54f5"/>
<path d="M1266.99 415.49L1268.07 358.91" stroke="#b352ed"/>
<path d="M1268.07 358.91L1269.15 308.9" stroke="#c54ddb"/>
<path d="M1269.15 308.9L1270.22 300.82" stroke="#d847c8"/>
<path d="M1270.22 300.82L1271.3 292.99" stroke="#dc45c4"/>
<path d="M1271.3 292.99L1272.38 285" stroke="#e044c0"/>
<path d="M1272.38 285L1273.46 283.8" stroke="#e442bb"/>
<path d="M1273.46 283.8L1274.53 281.75" stroke="#e442bb"/>
<path d="M1274.53 281.75L1275.61 250" stroke="#e542ba"/>
<path d="M1275.61 250L1276.69 242.5" stroke="#f13eaa"/>
<path d="M1276.69 242.5L1277.77 242.5" stroke="#f33da6"/>
<path d="M1277.77 242.5L1278.85 242.5" stroke="#f33da6"/>
<path d="M1278.85 242.5L1279.92 285" stroke="#f33da6"/>
<path d="M1279.92 285L1281 295" stroke="#e442bb"/>
<path d="M1281 295L1282.08 296.93" stroke="#df44c1"/>
<path d="M1282.08 296.93L1283.16 301.04" stroke="#de44c2"/>
<path d="M1283.16 301.04L1284.23 310" stroke="#d847c8"/>
<path d="M1284.23 310L1285.31 299.18" stroke="#d847c8"/>
<path d="M1285.31 299.18L1286.39 290" stroke="#dd45c3"/>
<path d="M1286.39 290L1287.47 290" stroke="#e243be"/>
<path d="M1287.47 290L1288.54 315" stroke="#e243be"/>
<path d="M1288.54 315L1289.62 315" stroke="#d548cb"/>
<path d="M1289.62 315L1290.7 315" stroke="#d548cb"/>
<path d="M1290.7 315L1291.78 315" stroke="#d548cb"/>
<path d="M1291.78 315L1292.86 415" stroke="#d548cb"/>
<path d="M1292.86 415L1293.93 452.32" stroke="#b352ed"/>
<path d="M1293.93 452.32L1295.01 475" stroke="#a656f7"/>
<path d="M1295.01 475L1296.09 475" stroke="#9e5df9"/>
<path d="M1296.09 475L1297.17 475" stroke="#9e5df9"/>
<path d="M1297.17 475L1298.24 477.48" stroke="#9e5df9"/>
<path d="M1298.24 477.48L1299.32 468.74" stroke="#9d5ef9"/>
<path d="M1299.32 468.74L1300.4 445" stroke="#a05bf8"/>
<path d="M1300.4 445L1301.48 445" stroke="#a955f6"/>
<path d="M1301.48 445L1302.55 460" stroke="#a459f8"/>
<path d="M1302.55 460L1303.63 443.14" stroke="#a459f8"/>
<path d="M1303.63 443.14L1304.71 420" stroke="#aa55f5"/>
<path d="M1304.71 420L1305.79 420" stroke="#b152ee"/>
<path d="M1305.79 420L1306.87 420" stroke="#b152ee"/>
<path d="M1306.87 420L1307.94 475" stroke="#9e5df9"/>
<path d="M1307.94 475L1309.02 414.99" stroke="#9e5df9"/>
<path d="M1309.02 414.99L1310.1 414.45" stroke="#b352ed"/>
<path d="M1310.1 414.45L1311.18 413.75" stroke="#b352ec"/>
<path d="M1311.18 413.75L1312.25 445" stroke="#b352ec"/>
<path d="M1312.25 445L1313.33 446.39" stroke="#a955f6"/>
<path d="M1313.33 446.39L1314.41 510.14" stroke="#a955f6"/>
<path d="M1314.41 510.14L1315.49 677" stroke="#9168fb"/>
<path d="M1315.49 677L1316.56 677" stroke="#4884ff"/>
<path d="M1316.56 677L1317.64 677" stroke="#4884ff"/>
<path d="M1317.64 677L1318.72 613.62" stroke="#4884ff"/>
<path d="M1318.72 613.62L1319.8 545" stroke="#677eff"/>
<path d="M1319.8 545L1320.88 545" stroke="#8573fd"/>
<path d="M1320.88 545L1321.95 648" stroke="#8573fd"/>
<path d="M1321.95 648L1323.03 648" stroke="#5681ff"/>
<path d="M1323.03 648L1324.11 540" stroke="#5681ff"/>
<path d="M1324.11 540L1325.19 539.31" stroke="#8671fd"/>
<path d="M1325.19 539.31L1326.26 538" stroke="#8771fd"/>
<path d="M1326.26 538L1327.34 618" stroke="#8771fd"/>
<path d="M1327.34 618L1328.42 618" stroke="#657fff"/>
<path d="M1328.42 618L1329.5 472" stroke="#657fff"/>
<path d="M1329.5 472L1330.57 470.85" stroke="#9f5cf9"/>
<path d="M1330.57 470.85L1331.65 468.69" stroke="#a05cf8"/>
<path d="M1331.65 468.69L1332.73 466" stroke="#a05bf8"/>
<path d="M1332.73 466L1333.81 577" stroke="#a15bf8"/>
<path d="M1333.81 577L1334.89 577" stroke="#787bff"/>
<path d="M1334.89 577L1335.96 520" stroke="#787bff"/>
<path d="M1335.96 520L1337.04 450" stroke="#8e6bfc"/>
<path d="M1337.04 450L1338.12 450" stroke="#a756f7"/>
<path d="M1338.12 450L1339.2 450" stroke="#a756f7"/>
<path d="M1339.2 450L1340.27 559" stroke="#a756f7"/>
<path d="M1340.27 559L1341.35 559" stroke="#7f77fe"/>
<path d="M1341.35 559L1342.43 559" stroke="#7f77fe"/>
<path d="M1342.43 559L1343.51 461" stroke="#7f77fe"/>
<path d="M1343.51 461L1344.59 461" stroke="#a359f8"/>
<path d="M1344.59 461L1345.66 461" stroke="#a359f8"/>
<path d="M1345.66 461L1346.74 470.38" stroke="#a359f8"/>
<path d="M1346.74 470.38L1347.82 501.84" stroke="#a05cf8"/>
<path d="M1347.82 501.84L1348.9 583" stroke="#757cff"/>
<path d="M1348.9 583L1349.97 575" stroke="#757cff"/>
<path d="M1349.97 575L1351.05 477.5" stroke="#797bff"/>
<path d="M1351.05 477.5L1352.13 477.5" stroke="#9d5ef9"/>
<path d="M1352.13 477.5L1353.21 477.5" stroke="#9d5ef9"/>
<path d="M1353.21 477.5L1354.28 587.5" stroke="#9d5ef9"/>
<path d="M1354.28 587.5L1355.36 587.5" stroke="#737cff"/>
<path d="M1355.36 587.5L1356.44 587.5" stroke="#737cff"/>
<path d="M1356.44 587.5L1357.52 537.5" stroke="#8771fd"/>
<path d="M1357.52 537.5L1358.6 600" stroke="#8771fd"/>
<path d="M1358.6 600L1359.67 629" stroke="#6d7dff"/>
<path d="M1359.67 629L1360.75 629" stroke="#5f80ff"/>
<path d="M1360.75 629L1361.83 615.38" stroke="#5f80ff"/>
<path d="M1361.83 615.38L1362.91 540.82" stroke="#667fff"/>
<path d="M1362.91 540.82L1363.98 472.5" stroke="#8672fd"/>
<path d="M1363.98 472.5L1365.06 472.5" stroke="#9f5df9"/>
<path d="M1365.06 472.5L1366.14 485.22" stroke="#9f5df9"/>
<path d="M1366.14 485.22L1367.22 564" stroke="#9a60f9"/>
<path d="M1367.22 564L1368.29 564" stroke="#7e79ff"/>
<path d="M1368.29 564L1369.37 564" stroke="#7e79ff"/>
<path d="M1369.37 564L1370.45 515" stroke="#8f6afb"/>
<path d="M1370.45 515L1371.53 545" stroke="#8573fd"/>
<path d="M1371.53 545L1372.61 515" stroke="#8573fd"/>
<path d="M1372.61 515L1373.68 360" stroke="#8f6afb"/>
<path d="M1373.68 360L1374.76 312.5" stroke="#c54ddb"/>
<path d="M1374.76 312.5L1375.84 312.5" stroke="#d648ca"/>
<path d="M1375.84 312.5L1376.92 312.5" stroke="#d648ca"/>
<path d="M1376.92 312.5L1377.99 355" stroke="#d648ca"/>
<path d="M1377.99 355L1379.07 355" stroke="#c64dda"/>
<path d="M1379.07 355L1380.15 415" stroke="#c64dda"/>
<path d="M1380.15 415L1381.23 415" stroke="#b352ed"/>
<path d="M1381.23 415L1382.3 415" stroke="#b352ed"/>
<path d="M1382.3 415L1383.38 372.36" stroke="#b352ed"/>
<path d="M1383.38 372.36L1384.46 342.5" stroke="#c14edf"/>
<path d="M1384.46 342.5L1385.54 342.5" stroke="#ca4cd6"/>
<path d="M1385.54 342.5L1386.62 352.3" stroke="#ca4cd6"/>
<path d="M1386.62 352.3L1387.69 427.5" stroke="#c74cd9"/>
<path d="M1387.69 427.5L1388.77 427.5" stroke="#af53f0"/>
<path d="M1388.77 427.5L1389.85 414.43" stroke="#af53f0"/>
<path d="M1389.85 414.43L1390.93 354.85" stroke="#b352ec"/>
<path d="M1390.93 354.85L1392 307.32" stroke="#c64dd9"/>
<path d="M1392 307.32L1393.08 306.94" stroke="#d946c7"/>
<path d="M1393.08 306.94L1394.16 306.55" stroke="#d946c7"/>
<path d="M1394.16 306.55L1395.24 307.63" stroke="#d946c7"/>
<path d="M1395.24 307.63L1396.31 315" stroke="#d947c7"/>
<path d="M1396.31 315L1397.39 317.97" stroke="#d548cb"/>
<path d="M1397.39 317.97L1398.47 320" stroke="#d449cc"/>
<path d="M1398.47 320L1399.55 307.32" stroke="#d349cd"/>
<path d="M1399.55 307.32L1400.63 303.28" stroke="#d946c7"/>
<path d="M1400.63 303.28L1401.7 300" stroke="#db46c5"/>
<path d="M1401.7 300L1402.78 300" stroke="#dd45c3"/>
<path d="M1402.78 300L1403.86 307.17" stroke="#dd45c3"/>
<path d="M1403.86 307.17L1404.94 320" stroke="#d349cd"/>
<path d="M1404.94 320L1406.01 277.5" stroke="#d349cd"/>
<path d="M1406.01 277.5L1407.09 277.5" stroke="#e741b8"/>
<path d="M1407.09 277.5L1408.17 277.5" stroke="#e741b8"/>
<path d="M1408.17 277.5L1409.25 294.17" stroke="#e741b8"/>
<path d="M1409.25 294.17L1410.32 345" stroke="#c94cd6"/>
<path d="M1410.32 345L1411.4 300" stroke="#c94cd6"/>
<path d="M1411.4 300L1412.48 300" stroke="#dd45c3"/>
<path d="M1412.48 300L1413.56 300" stroke="#dd45c3"/>
<path d="M1413.56 300L1414.64 302.71" stroke="#dd45c3"/>
<path d="M1414.64 302.71L1415.71 337.06" stroke="#db46c5"/>
<path d="M1415.71 337.06L1416.79 440" stroke="#cc4bd4"/>
<path d="M1416.79 440L1417.87 440" stroke="#ab54f4"/>
<path d="M1417.87 440L1418.95 404.3" stroke="#ab54f4"/>
<path d="M1418.95 404.3L1420.02 360" stroke="#c54ddb"/>
<path d="M1420.02 360L1421.1 367.37" stroke="#c54ddb"/>
<path d="M1421.1 367.37L1422.18 468.75" stroke="#c24edd"/>
<path d="M1422.18 468.75L1423.26 468.75" stroke="#a05bf8"/>
<path d="M1423.26 468.75L1424.33 372.5" stroke="#a05bf8"/>
<path d="M1424.33 372.5L1425.41 372.5" stroke="#c14edf"/>
<path d="M1425.41 372.5L1426.49 312.5" stroke="#c14edf"/>
<path d="M1426.49 312.5L1427.57 312.5" stroke="#d648ca"/>
<path d="M1427.57 312.5L1428.65 312.5" stroke="#d648ca"/>
<path d="M1428.65 312.5L1429.72 321.06" stroke="#d648ca"/>
<path d="M1429.72 321.06L1430.8 370" stroke="#c14ede"/>
<path d="M1430.8 370L1431.88 349.5" stroke="#c14ede"/>
<path d="M1431.88 349.5L1432.96 335" stroke="#cd4bd3"/>
<path d="M1432.96 335L1434.03 335.77" stroke="#cd4bd3"/>
<path d="M1434.03 335.77L1435.11 341.19" stroke="#cc4bd3"/>
<path d="M1435.11 341.19L1436.19 402.5" stroke="#cb4bd5"/>
<path d="M1436.19 402.5L1437.27 424.24" stroke="#b751e9"/>
<path d="M1437.27 424.24L1438.34 454.77" stroke="#b053ef"/>
<path d="M1438.34 454.77L1439.42 487.5" stroke="#a657f7"/>
<path d="M1439.42 487.5L1440.5 487.5" stroke="#9a61fa"/>
<path d="M1440.5 487.5L1441.58 355" stroke="#9a61fa"/>
<path d="M1441.58 355L1442.66 354.45" stroke="#c64dda"/>
<path d="M1442.66 354.45L1443.73 341.2" stroke="#c64dd9"/>
<path d="M1443.73 341.2L1444.81 300" stroke="#cb4bd5"/>
<path d="M1444.81 300L1445.89 300" stroke="#dd45c3"/>
<path d="M1445.89 300L1446.97 340" stroke="#dd45c3"/>
<path d="M1446.97 340L1448.04 350" stroke="#cb4bd5"/>
<path d="M1448.04 350L1449.12 355.18" stroke="#c84cd8"/>
<path d="M1449.12 355.18L1450.2 362.5" stroke="#c64dda"/>
<path d="M1450.2 362.5L1451.28 362.5" stroke="#c44ddc"/>
<path d="M1451.28 362.5L1452.36 342.97" stroke="#c44ddc"/>
<path d="M1452.36 342.97L1453.43 307.14" stroke="#ca4cd6"/>
<path d="M1453.43 307.14L1454.51 306.25" stroke="#d946c7"/>
<path d="M1454.51 306.25L1455.59 310" stroke="#da46c6"/>
<path d="M1455.59 310L1456.67 327.75" stroke="#d847c8"/>
<path d="M1456.67 327.75L1457.74 350" stroke="#cf4ad1"/>
<path d="M1457.74 350L1458.82 350" stroke="#c84cd8"/>
<path d="M1458.82 350L1459.9 271.25" stroke="#c84cd8"/>
<path d="M1459.9 271.25L1460.98 271.25" stroke="#ea40b4"/>
<path d="M1460.98 271.25L1462.05 271.25" stroke="#ea40b4"/>
<path d="M1462.05 271.25L1463.13 275.54" stroke="#ea40b4"/>
<path d="M1463.13 275.54L1464.21 320" stroke="#e841b7"/>
<path d="M1464.21 320L1465.29 320" stroke="#d349cd"/>
<path d="M1465.29 320L1466.37 320" stroke="#d349cd"/>
<path d="M1466.37 320L1467.44 300" stroke="#dd45c3"/>
<path d="M1467.44 300L1468.52 312.5" stroke="#d648ca"/>
<path d="M1468.52 312.5L1469.6 311" stroke="#d648ca"/>
<path d="M1469.6 311L1470.68 307.5" stroke="#d747c9"/>
<path d="M1470.68 307.5L1471.75 313.78" stroke="#d946c7"/>
<path d="M1471.75 313.78L1472.83 320" stroke="#d349cd"/>
<path d="M1472.83 320L1473.91 317.5" stroke="#d349cd"/>
<path d="M1473.91 317.5L1474.99 307.5" stroke="#d448cc"/>
<path d="M1474.99 307.5L1476.06 304.68" stroke="#d946c7"/>
<path d="M1476.06 304.68L1477.14 297.5" stroke="#da46c6"/>
<path d="M1477.14 297.5L1478.22 296.6" stroke="#de44c2"/>
<path d="M1478.22 296.6L1479.3 295" stroke="#df44c1"/>
<path d="M1479.3 295L1480.38 297.92" stroke="#df44c1"/>
<path d="M1480.38 297.92L1481.45 301.51" stroke="#de45c2"/>
<path d="M1481.45 301.51L1482.53 306.53" stroke="#dc45c4"/>
<path d="M1482.53 306.53L1483.61 355" stroke="#d946c7"/>
<path d="M1483.61 355L1484.69 355" stroke="#c64dda"/>
<path d="M1484.69 355L1485.76 422.5" stroke="#b053ef"/>
<path d="M1485.76 422.5L1486.84 421.1" stroke="#b053ef"/>
<path d="M1486.84 421.1L1487.92 406.03" stroke="#b153ee"/>
<path d="M1487.92 406.03L1489 370" stroke="#b651ea"/>
<path d="M1489 370L1490.07 300" stroke="#c14ede"/>
<path d="M1490.07 300L1491.15 300" stroke="#dd45c3"/>
<path d="M1491.15 300L1492.23 300" stroke="#dd45c3"/>
<path d="M1492.23 300L1493.31 321.54" stroke="#dd45c3"/>
<path d="M1493.31 321.54L1494.39 340" stroke="#cb4bd5"/>
<path d="M1494.39 340L1495.46 295" stroke="#cb4bd5"/>
<path d="M1495.46 295L1496.54 295" stroke="#df44c1"/>
<path d="M1496.54 295L1497.62 296.58" stroke="#df44c1"/>
<path d="M1497.62 296.58L1498.7 315" stroke="#df44c1"/>
<path d="M1498.7 315L1499.77 360" stroke="#d548cb"/>
<path d="M1499.77 360L1500.85 385" stroke="#c54ddb"/>
<path d="M1500.85 385L1501.93 426.81" stroke="#bc4fe3"/>
<path d="M1501.93 426.81L1503.01 475" stroke="#af53f0"/>
<path d="M1503.01 475L1504.08 475" stroke="#9e5df9"/>
<path d="M1504.08 475L1505.16 459.99" stroke="#9e5df9"/>
<path d="M1505.16 459.99L1506.24 382.5" stroke="#a459f8"/>
<path d="M1506.24 382.5L1507.32 382.5" stroke="#bd4fe2"/>
<path d="M1507.32 382.5L1508.4 457.5" stroke="#a558f8"/>
<path d="M1508.4 457.5L1509.47 447.5" stroke="#a855f7"/>
<path d="M1509.47 447.5L1510.55 451.17" stroke="#a855f7"/>
<path d="M1510.55 451.17L1511.63 461.57" stroke="#a756f7"/>
<path d="M1511.63 461.57L1512.71 505" stroke="#a359f8"/>
<path d="M1512.71 505L1513.78 505" stroke="#9367fb"/>
<path d="M1513.78 505L1514.86 505" stroke="#9367fb"/>
<path d="M1514.86 505L1515.94 492.55" stroke="#9367fb"/>
<path d="M1515.94 492.55L1517.02 412.5" stroke="#9863fa"/>
<path d="M1517.02 412.5L1518.09 412.5" stroke="#b452ec"/>
<path d="M1518.09 412.5L1519.17 412.5" stroke="#b452ec"/>
<path d="M1519.17 412.5L1520.25 419.59" stroke="#b452ec"/>
<path d="M1520.25 419.59L1521.33 455" stroke="#b152ee"/>
<path d="M1521.33 455L1522.41 475" stroke="#a557f7"/>
<path d="M1522.41 475L1523.48 475" stroke="#9e5df9"/>
<path d="M1523.48 475L1524.56 466.59" stroke="#9e5df9"/>
<path d="M1524.56 466.59L1525.64 448.95" stroke="#a15bf8"/>
<path d="M1525.64 448.95L1526.72 421.33" stroke="#a855f7"/>
<path d="M1526.72 421.33L1527.79 401.25" stroke="#b153ef"/>
<path d="M1527.79 401.25L1528.87 401.25" stroke="#b751e8"/>
<path d="M1528.87 401.25L1529.95 409.95" stroke="#b751e8"/>
<path d="M1529.95 409.95L1531.03 415.88" stroke="#b452eb"/>
<path d="M1531.03 415.88L1532.1 418.2" stroke="#b252ed"/>
<path d="M1532.1 418.2L1533.18 427.5" stroke="#af53f0"/>
<path d="M1533.18 427.5L1534.26 426.74" stroke="#af53f0"/>
<path d="M1534.26 426.74L1535.34 425.66" stroke="#af53f0"/>
<path d="M1535.34 425.66L1536.42 430.54" stroke="#af53f0"/>
<path d="M1536.42 430.54L1537.49 445" stroke="#ae53f1"/>
<path d="M1537.49 445L1538.57 450" stroke="#a955f6"/>
<path d="M1538.57 450L1539.65 467.23" stroke="#a756f7"/>
<path d="M1539.65 467.23L1540.73 480.75" stroke="#a15bf8"/>
<path d="M1540.73 480.75L1541.8 485" stroke="#9c5ff9"/>
<path d="M1541.8 485L1542.88 570" stroke="#9a60f9"/>
<path d="M1542.88 570L1543.96 570" stroke="#7b7bff"/>
<path d="M1543.96 570L1545.04 568.64" stroke="#7b7bff"/>
<path d="M1545.04 568.64L1546.11 515" stroke="#7c7aff"/>
<path d="M1546.11 515L1547.19 452.5" stroke="#8f6afb"/>
<path d="M1547.19 452.5L1548.27 421.55" stroke="#a656f7"/>
<path d="M1548.27 421.55L1549.35 364.42" stroke="#b153ef"/>
<path d="M1549.35 364.42L1550.43 362.5" stroke="#c34edc"/>
<path d="M1550.43 362.5L1551.5 300" stroke="#c44ddc"/>
<path d="M1551.5 300L1552.58 300" stroke="#dd45c3"/>
<path d="M1552.58 300L1553.66 300" stroke="#dd45c3"/>
<path d="M1553.66 300L1554.74 302.76" stroke="#dd45c3"/>
<path d="M1554.74 302.76L1555.81 317.5" stroke="#db46c5"/>
<path d="M1555.81 317.5L1556.89 354.66" stroke="#d448cc"/>
<path d="M1556.89 354.66L1557.97 380" stroke="#be4fe1"/>
<path d="M1557.97 380L1559.05 325" stroke="#d04ad0"/>
<path d="M1559.05 325L1560.13 512.5" stroke="#d04ad0"/>
<path d="M1560.13 512.5L1561.2 592.5" stroke="#9069fb"/>
<path d="M1561.2 592.5L1562.28 592.5" stroke="#717dff"/>
<path d="M1562.28 592.5L1563.36 513.75" stroke="#9069fb"/>
<path d="M1563.36 513.75L1564.44 515" stroke="#9069fb"/>
<path d="M1564.44 515L1565.51 605" stroke="#8f6afb"/>
<path d="M1565.51 605L1566.59 605" stroke="#6b7eff"/>
<path d="M1566.59 605L1567.67 603.03" stroke="#6b7eff"/>
<path d="M1567.67 603.03L1568.75 587.5" stroke="#6c7eff"/>
<path d="M1568.75 587.5L1569.82 537.5" stroke="#737cff"/>
<path d="M1569.82 537.5L1570.9 537.5" stroke="#8771fd"/>
<path d="M1570.9 537.5L1571.98 537.5" stroke="#8771fd"/>
<path d="M1571.98 537.5L1573.06 587.5" stroke="#737cff"/>
<path d="M1573.06 587.5L1574.14 515" stroke="#737cff"/>
<path d="M1574.14 515L1575.21 507.87" stroke="#8f6afb"/>
<path d="M1575.21 507.87L1576.29 436.25" stroke="#9267fb"/>
<path d="M1576.29 436.25L1577.37 436.25" stroke="#ac54f3"/>
<path d="M1577.37 436.25L1578.45 436.25" stroke="#ac54f3"/>
<path d="M1578.45 436.25L1579.52 436.25" stroke="#ac54f3"/>
<path d="M1579.52 436.25L1580.6 497.47" stroke="#ac54f3"/>
<path d="M1580.6 497.47L1581.68 563.75" stroke="#9664fa"/>
<path d="M1581.68 563.75L1582.76 563.75" stroke="#7e79ff"/>
<path d="M1582.76 563.75L1583.83 490" stroke="#7e79ff"/>
<path d="M1583.83 490L1584.91 490" stroke="#9962fa"/>
<path d="M1584.91 490L1585.99 610" stroke="#9962fa"/>
<path d="M1585.99 610L1587.07 610" stroke="#687eff"/>
<path d="M1587.07 610L1588.15 605.46" stroke="#687eff"/>
<path d="M1588.15 605.46L1589.22 578.75" stroke="#777cff"/>
<path d="M1589.22 578.75L1590.3 616.25" stroke="#657fff"/>
<path d="M1590.3 616.25L1591.38 567.5" stroke="#657fff"/>
<path d="M1591.38 567.5L1592.46 567.5" stroke="#7c7aff"/>
<path d="M1592.46 567.5L1593.53 592.5" stroke="#7c7aff"/>
<path d="M1593.53 592.5L1594.61 615" stroke="#717dff"/>
<path d="M1594.61 615L1595.69 645" stroke="#667fff"/>
<path d="M1595.69 645L1596.77 660.34" stroke="#5881ff"/>
<path d="M1596.77 660.34L1597.84 675" stroke="#5082ff"/>
<path d="M1597.84 675L1598.92 675" stroke="#4983ff"/>
<path d="M1598.92 675L1600 650" stroke="#5581ff"/>
<path d="M1600 650L1601.08 657.7" stroke="#5581ff"/>
<path d="M1601.08 657.7L1602.16 670" stroke="#5282ff"/>
<path d="M1602.16 670L1603.23 670" stroke="#4c83ff"/>
<path d="M1603.23 670L1604.31 670" stroke="#4c83ff"/>
<path d="M1604.31 670L1605.39 658.15" stroke="#4c83ff"/>
<path d="M1605.39 658.15L1606.47 645" stroke="#5182ff"/>
<path d="M1606.47 645L1607.54 620" stroke="#647fff"/>
<path d="M1607.54 620L1608.62 630.36" stroke="#647fff"/>
<path d="M1608.62 630.36L1609.7 645" stroke="#5881ff"/>
<path d="M1609.7 645L1610.78 600" stroke="#5881ff"/>
<path d="M1610.78 600L1611.85 584.33" stroke="#6d7dff"/>
<path d="M1611.85 584.33L1612.93 572.5" stroke="#757cff"/>
<path d="M1612.93 572.5L1614.01 572.5" stroke="#7a7bff"/>
<path d="M1614.01 572.5L1615.09 574.11" stroke="#7a7bff"/>
<path d="M1615.09 574.11L1616.17 600" stroke="#6d7dff"/>
<path d="M1616.17 600L1617.24 587" stroke="#6d7dff"/>
<path d="M1617.24 587L1618.32 573.75" stroke="#737cff"/>
<path d="M1618.32 573.75L1619.4 573.75" stroke="#7a7bff"/>
<path d="M1619.4 573.75L1620.48 615" stroke="#7a7bff"/>
<path d="M1620.48 615L1621.55 615.92" stroke="#667fff"/>
<path d="M1621.55 615.92L1622.63 617.5" stroke="#667fff"/>
<path d="M1622.63 617.5L1623.71 595" stroke="#657fff"/>
<path d="M1623.71 595L1624.79 567.5" stroke="#707dff"/>
<path d="M1624.79 567.5L1625.86 566.96" stroke="#7c7aff"/>
<path d="M1625.86 566.96L1626.94 566.25" stroke="#7c7aff"/>
<path d="M1626.94 566.25L1628.02 602.5" stroke="#7d7aff"/>
<path d="M1628.02 602.5L1629.1 629.4" stroke="#6c7eff"/>
<path d="M1629.1 629.4L1630.18 670" stroke="#5f80ff"/>
<path d="M1630.18 670L1631.25 670" stroke="#4c83ff"/>
<path d="M1631.25 670L1632.33 663.38" stroke="#4c83ff"/>
<path d="M1632.33 663.38L1633.41 640" stroke="#4f82ff"/>
<path d="M1633.41 640L1634.49 615" stroke="#5a81ff"/>
<path d="M1634.49 615L1635.56 606.07" stroke="#667fff"/>
<path d="M1635.56 606.07L1636.64 591.16" stroke="#6a7eff"/>
<path d="M1636.64 591.16L1637.72 590.49" stroke="#717dff"/>
<path d="M1637.72 590.49L1638.8 595.2" stroke="#727dff"/>
<path d="M1638.8 595.2L1639.87 616.25" stroke="#657fff"/>
<path d="M1639.87 616.25L1640.95 604.34" stroke="#657fff"/>
<path d="M1640.95 604.34L1642.03 597.5" stroke="#6b7eff"/>
<path d="M1642.03 597.5L1643.11 597.5" stroke="#6e7dff"/>
<path d="M1643.11 597.5L1644.19 605.5" stroke="#6e7dff"/>
<path d="M1644.19 605.5L1645.26 615.22" stroke="#6b7eff"/>
<path d="M1645.26 615.22L1646.34 616.25" stroke="#667fff"/>
<path d="M1646.34 616.25L1647.42 615.48" stroke="#657fff"/>
<path d="M1647.42 615.48L1648.5 587.5" stroke="#667fff"/>
<path d="M1648.5 587.5L1649.57 567.5" stroke="#737cff"/>
<path d="M1649.57 567.5L1650.65 567.5" stroke="#7c7aff"/>
<path d="M1650.65 567.5L1651.73 547.13" stroke="#7c7aff"/>
<path d="M1651.73 547.13L1652.81 478.75" stroke="#8474fd"/>
<path d="M1652.81 478.75L1653.88 478.75" stroke="#9d5ef9"/>
<path d="M1653.88 478.75L1654.96 478.75" stroke="#9d5ef9"/>
<path d="M1654.96 478.75L1656.04 587.5" stroke="#737cff"/>
<path d="M1656.04 587.5L1657.12 587.19" stroke="#737cff"/>
<path d="M1657.12 587.19L1658.2 586.65" stroke="#737cff"/>
<path d="M1658.2 586.65L1659.27 581.81" stroke="#747cff"/>
<path d="M1659.27 581.81L1660.35 570" stroke="#767cff"/>
<path d="M1660.35 570L1661.43 455" stroke="#7b7bff"/>
<path d="M1661.43 455L1662.51 376.25" stroke="#a557f7"/>
<path d="M1662.51 376.25L1663.58 376.25" stroke="#bf4fe0"/>
<path d="M1663.58 376.25L1664.66 386.98" stroke="#bf4fe0"/>
<path d="M1664.66 386.98L1665.74 442.5" stroke="#bc50e4"/>
<path d="M1665.74 442.5L1666.82 442.5" stroke="#aa55f5"/>
<path d="M1666.82 442.5L1667.9 477.5" stroke="#aa55f5"/>
<path d="M1667.9 477.5L1668.97 547.5" stroke="#9d5ef9"/>
<path d="M1668.97 547.5L1670.05 616.25" stroke="#8474fd"/>
<path d="M1670.05 616.25L1671.13 616.25" stroke="#657fff"/>
<path d="M1671.13 616.25L1672.21 610.85" stroke="#657fff"/>
<path d="M1672.21 610.85L1673.28 590" stroke="#727dff"/>
<path d="M1673.28 590L1674.36 616.25" stroke="#657fff"/>
<path d="M1674.36 616.25L1675.44 584.95" stroke="#657fff"/>
<path d="M1675.44 584.95L1676.52 566.25" stroke="#747cff"/>
<path d="M1676.52 566.25L1677.59 566.25" stroke="#7d7aff"/>
<path d="M1677.59 566.25L1678.67 576.89" stroke="#7d7aff"/>
<path d="M1678.67 576.89L1679.75 597.49" stroke="#787bff"/>
<path d="M1679.75 597.49L1680.83 626.55" stroke="#6e7dff"/>
<path d="M1680.83 626.55L1681.91 643.38" stroke="#607fff"/>
<path d="M1681.91 643.38L1682.98 652.5" stroke="#5482ff"/>
<path d="M1682.98 652.5L1684.06 640" stroke="#5a81ff"/>
<path d="M1684.06 640L1685.14 665.53" stroke="#5a81ff"/>
<path d="M1685.14 665.53L1686.22 700" stroke="#4e83ff"/>
<path d="M1686.22 700L1687.29 700" stroke="#3d85ff"/>
<path d="M1687.29 700L1688.37 688.86" stroke="#3d85ff"/>
<path d="M1688.37 688.86L1689.45 655" stroke="#5382ff"/>
<path d="M1689.45 655L1690.53 656.25" stroke="#5382ff"/>
<path d="M1690.53 656.25L1691.6 676.4" stroke="#5282ff"/>
<path d="M1691.6 676.4L1692.68 706.25" stroke="#4984ff"/>
<path d="M1692.68 706.25L1693.76 706.25" stroke="#3a86ff"/>
<path d="M1693.76 706.25L1694.84 700.34" stroke="#3a86ff"/>
<path d="M1694.84 700.34L1695.92 680" stroke="#3d85ff"/>
<path d="M1695.92 680L1696.99 667.5" stroke="#4784ff"/>
<path d="M1696.99 667.5L1698.07 667.5" stroke="#4d83ff"/>
<path d="M1698.07 667.5L1699.15 669.35" stroke="#4d83ff"/>
<path d="M1699.15 669.35L1700.23 686.25" stroke="#4c83ff"/>
</g>
<rect x="571" y="955" width="28" height="27.8" fill="#9e9ec3"/>
<rect x="714" y="955" width="28" height="27.8" fill="#afafd0"/>
<rect x="845" y="955" width="28" height="27.8" fill="#ced2d6"/>
<rect x="1018" y="955" width="28" height="27.8" fill="#ffc1b8"/>
<rect x="1173" y="955" width="28" height="27.8" fill="#ffa5a5"/>
</svg>
<div class="t" style="right:1635.00px;top:64.27px;font-size:28.5px;letter-spacing:0px;color:#495057;font-weight:400;">3</div>
<div class="t" style="right:1635.00px;top:187.77px;font-size:28.5px;letter-spacing:0px;color:#495057;font-weight:400;">2</div>
<div class="t" style="right:1635.00px;top:311.27px;font-size:28.5px;letter-spacing:0px;color:#495057;font-weight:400;">1</div>
<div class="t" style="right:1635.00px;top:434.27px;font-size:28.5px;letter-spacing:0px;color:#495057;font-weight:400;">0</div>
<div class="t" style="right:1635.00px;top:557.57px;font-size:28.5px;letter-spacing:0px;color:#495057;font-weight:400;">-1</div>
<div class="t" style="right:1635.00px;top:680.77px;font-size:28.5px;letter-spacing:0px;color:#495057;font-weight:400;">-2</div>
<div class="t" style="right:1635.00px;top:804.27px;font-size:28.5px;letter-spacing:0px;color:#495057;font-weight:400;">-3</div>
<div class="t" style="left:68.60px;width:600px;text-align:center;top:869.28px;font-size:25.9px;letter-spacing:1.1px;color:#495057;font-weight:400;">Oct 2022</div>
<div class="t" style="left:265.00px;width:600px;text-align:center;top:869.28px;font-size:25.9px;letter-spacing:1.1px;color:#495057;font-weight:400;">Apr 2023</div>
<div class="t" style="left:461.90px;width:600px;text-align:center;top:869.28px;font-size:25.9px;letter-spacing:1.1px;color:#495057;font-weight:400;">Oct 2023</div>
<div class="t" style="left:658.60px;width:600px;text-align:center;top:869.28px;font-size:25.9px;letter-spacing:1.1px;color:#495057;font-weight:400;">Apr 2024</div>
<div class="t" style="left:856.20px;width:600px;text-align:center;top:869.28px;font-size:25.9px;letter-spacing:1.1px;color:#495057;font-weight:400;">Oct 2024</div>
<div class="t" style="left:1052.00px;width:600px;text-align:center;top:869.28px;font-size:25.9px;letter-spacing:1.1px;color:#495057;font-weight:400;">Apr 2025</div>
<div class="t" style="left:1248.50px;width:600px;text-align:center;top:869.28px;font-size:25.9px;letter-spacing:1.1px;color:#495057;font-weight:400;">Oct 2025</div>
<div class="t" style="left:619.50px;top:954.83px;font-size:28.26px;letter-spacing:0.5px;color:#212529;font-weight:400;">Panic</div>
<div class="t" style="left:763.70px;top:954.83px;font-size:28.26px;letter-spacing:0.5px;color:#212529;font-weight:400;">Fear</div>
<div class="t" style="left:893.50px;top:954.83px;font-size:28.26px;letter-spacing:1.9px;color:#212529;font-weight:400;">Neutral</div>
<div class="t" style="left:1067.70px;top:954.83px;font-size:28.26px;letter-spacing:1.3px;color:#212529;font-weight:400;">Greed</div>
<div class="t" style="left:1223.00px;top:954.83px;font-size:28.26px;letter-spacing:1.05px;color:#212529;font-weight:400;">Euphoria</div>
<div class="t" style="left:183.20px;top:1041.43px;font-size:28.2px;letter-spacing:1.26px;color:#6c757d;font-weight:400;">Regime Signal: Panic as of 2026-02-19</div>
<div class="t" style="left:64.20px;top:790.80px;font-size:31.57px;letter-spacing:2.57px;color:#343a40;font-weight:700;transform-origin:0 0;transform:rotate(-90deg)">Price &amp; Sentiment Momentum (Z-Score)</div>
</body></html>
